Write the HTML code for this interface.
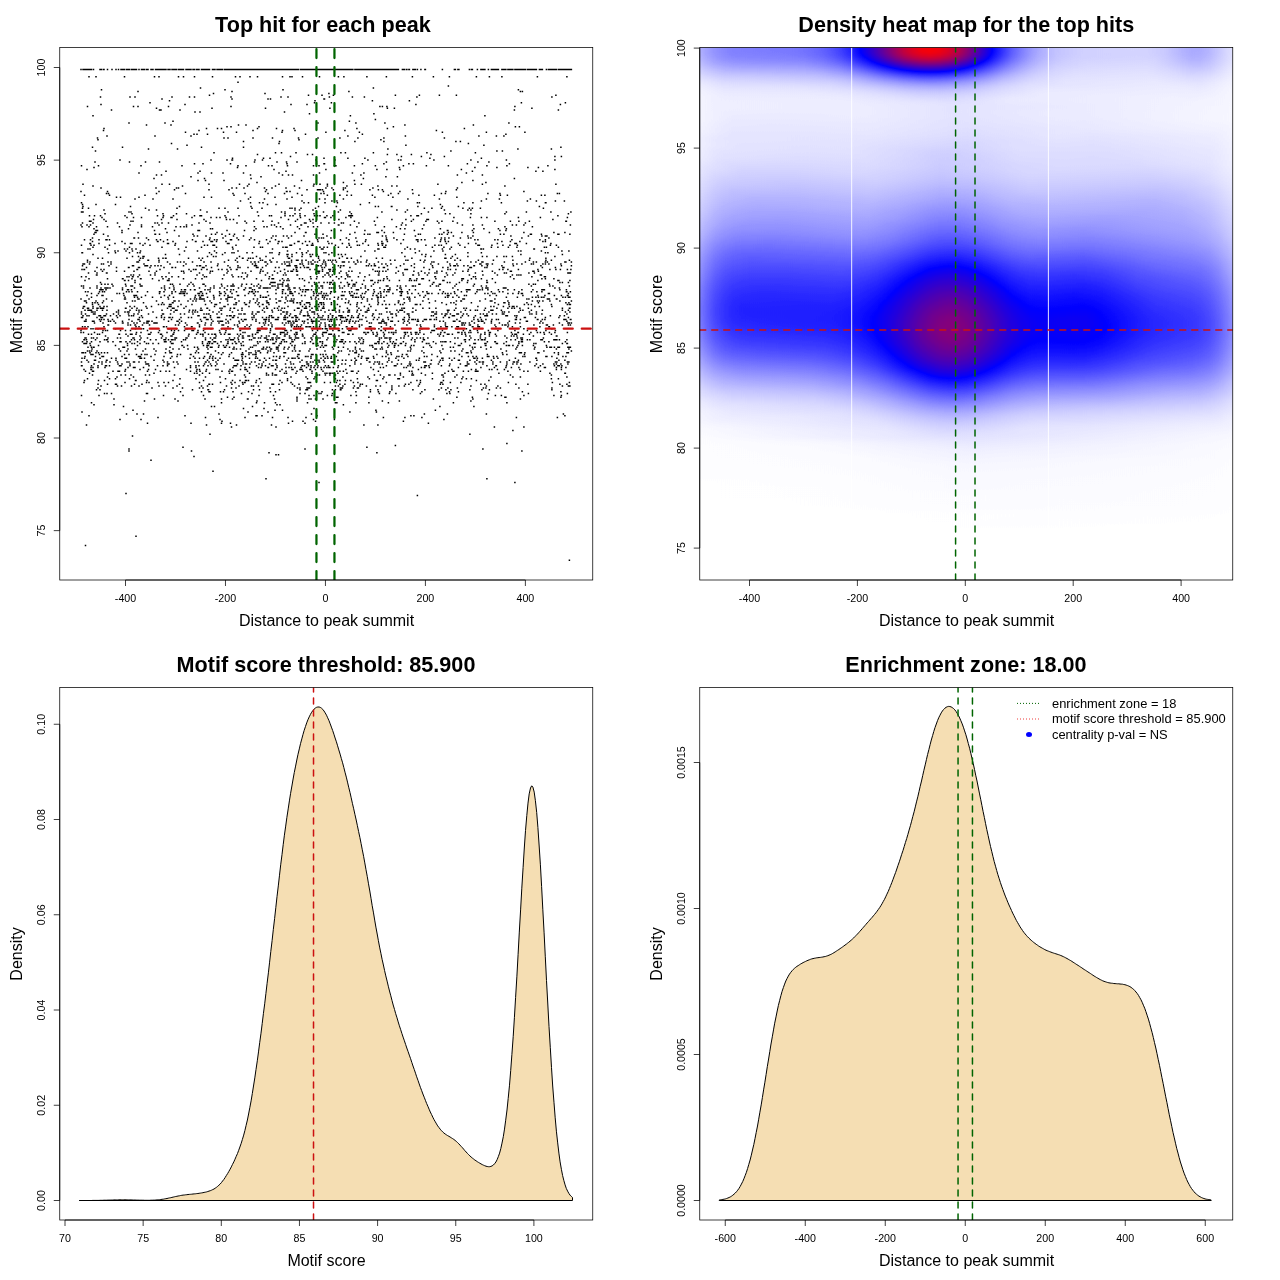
<!DOCTYPE html>
<html><head><meta charset="utf-8"><title>Motif enrichment plots</title>
<style>html,body{margin:0;padding:0;background:#fff}svg{display:block}text{font-family:'Liberation Sans', sans-serif;fill:#000}</style>
</head><body>
<svg width="1280" height="1280" viewBox="0 0 1280 1280">
<rect width="1280" height="1280" fill="#fff"/>
<defs>
<clipPath id="cp"><rect x="59.75" y="47.5" width="533.0" height="532.5"/></clipPath>
<filter id="hm" filterUnits="userSpaceOnUse" x="30" y="20" width="600" height="600" color-interpolation-filters="sRGB"><feGaussianBlur stdDeviation="0 2.5"/><feComponentTransfer><feFuncR type="table" tableValues="1 0 1"/><feFuncG type="table" tableValues="1 0 0"/><feFuncB type="table" tableValues="1 1 0"/></feComponentTransfer></filter>
</defs>
<g transform="translate(0,0)">
<g clip-path="url(#cp)">
<path d="M81.0 332.4h0M81.0 330.6h0M81.0 299.1h0M81.0 225.0h0M81.0 191.6h0M81.0 69.4h0M81.5 395.4h0M81.5 365.8h0M81.5 362.0h0M81.5 328.7h0M81.5 317.6h0M81.5 313.9h0M81.5 312.0h0M81.5 286.1h0M81.5 276.8h0M81.5 245.3h0M81.5 212.0h0M81.5 202.7h0M81.5 165.7h0M82.0 412.1h0M82.0 365.8h0M82.0 358.3h0M82.0 352.8h0M82.0 269.4h0M82.0 252.8h0M82.0 226.8h0M82.5 341.7h0M82.5 326.8h0M82.5 317.6h0M82.5 265.7h0M82.5 252.8h0M82.5 223.1h0M82.5 208.3h0M82.5 204.6h0M83.0 315.7h0M83.0 308.3h0M83.0 263.9h0M83.0 212.0h0M83.0 206.4h0M83.0 184.2h0M83.0 69.4h0M83.5 352.8h0M83.5 332.4h0M83.5 306.5h0M83.5 287.9h0M83.5 286.1h0M83.5 263.9h0M83.5 69.4h0M84.0 382.4h0M84.0 369.5h0M84.0 343.5h0M84.0 339.8h0M84.0 269.4h0M84.5 380.6h0M84.5 358.3h0M84.5 339.8h0M84.5 321.3h0M84.5 306.5h0M84.5 300.9h0M84.5 269.4h0M84.5 263.9h0M84.5 239.8h0M84.5 195.3h0M85.0 356.5h0M85.0 343.5h0M85.0 338.0h0M85.0 326.8h0M85.0 310.2h0M85.0 280.5h0M85.0 69.4h0M85.5 545.4h0M85.5 371.3h0M85.5 352.8h0M85.5 343.5h0M85.5 338.0h0M85.5 313.9h0M85.5 291.7h0M85.5 69.4h0M86.0 338.0h0M86.0 321.3h0M86.0 319.4h0M86.0 300.9h0M86.0 276.8h0M86.0 69.4h0M86.5 425.0h0M86.5 343.5h0M86.5 339.8h0M86.5 302.8h0M86.5 267.6h0M87.0 360.2h0M87.0 341.7h0M87.0 315.7h0M87.0 295.4h0M87.0 225.0h0M87.0 169.4h0M87.0 69.4h0M87.5 378.7h0M87.5 350.9h0M87.5 308.3h0M87.5 262.0h0M87.5 260.2h0M87.5 106.4h0M87.5 69.4h0M88.0 347.2h0M88.0 326.8h0M88.0 310.2h0M88.0 291.7h0M88.0 249.0h0M88.0 69.4h0M88.5 362.0h0M88.5 334.3h0M88.5 308.3h0M88.5 273.1h0M88.5 208.3h0M89.0 415.8h0M89.0 315.7h0M89.0 310.2h0M89.0 299.1h0M89.0 278.7h0M89.0 226.8h0M89.0 76.8h0M89.0 69.4h0M89.5 373.2h0M89.5 350.9h0M89.5 263.9h0M89.5 221.3h0M89.5 215.7h0M89.5 69.4h0M90.0 352.8h0M90.0 343.5h0M90.0 287.9h0M90.0 262.0h0M90.0 249.0h0M90.0 243.5h0M90.0 69.4h0M90.5 345.4h0M90.5 310.2h0M90.5 243.5h0M90.5 239.8h0M90.5 225.0h0M91.0 369.5h0M91.0 367.6h0M91.0 354.6h0M91.0 328.7h0M91.0 245.3h0M91.0 221.3h0M91.5 402.8h0M91.5 369.5h0M91.5 365.8h0M91.5 350.9h0M91.5 347.2h0M91.5 341.7h0M91.5 338.0h0M91.5 334.3h0M91.5 312.0h0M91.5 310.2h0M91.5 297.2h0M91.5 293.5h0M91.5 69.4h0M92.0 349.1h0M92.5 375.0h0M92.5 371.3h0M92.5 354.6h0M92.5 321.3h0M92.5 304.6h0M92.5 302.8h0M92.5 241.6h0M92.5 237.9h0M92.5 147.2h0M93.0 367.6h0M93.0 354.6h0M93.0 328.7h0M93.0 312.0h0M93.0 308.3h0M93.0 306.5h0M93.0 254.6h0M93.0 247.2h0M93.0 223.1h0M93.0 186.1h0M93.0 115.7h0M93.5 371.3h0M93.5 347.2h0M93.5 338.0h0M93.5 313.9h0M93.5 219.4h0M93.5 69.4h0M94.0 404.7h0M94.0 363.9h0M94.0 347.2h0M94.0 321.3h0M94.0 245.3h0M94.0 234.2h0M94.0 228.7h0M94.0 167.5h0M94.5 360.2h0M94.5 332.4h0M94.5 323.1h0M94.5 215.7h0M95.0 313.9h0M95.0 312.0h0M95.0 302.8h0M95.0 271.3h0M95.0 232.4h0M95.0 162.0h0M95.5 360.2h0M95.5 356.5h0M95.5 339.8h0M95.5 328.7h0M95.5 150.9h0M96.0 352.8h0M96.0 300.9h0M96.0 232.4h0M96.0 230.5h0M96.0 204.6h0M96.0 76.8h0M96.5 389.8h0M96.5 275.0h0M96.5 226.8h0M97.0 350.9h0M97.0 338.0h0M97.0 317.6h0M97.0 310.2h0M97.0 308.3h0M97.0 295.4h0M97.0 287.9h0M97.0 286.1h0M97.0 275.0h0M97.0 273.1h0M97.0 267.6h0M97.5 334.3h0M97.5 302.8h0M97.5 230.5h0M97.5 137.9h0M98.0 388.0h0M98.0 384.3h0M98.0 367.6h0M98.0 365.8h0M98.0 328.7h0M98.0 308.3h0M98.0 258.3h0M98.0 139.7h0M98.5 380.6h0M98.5 352.8h0M98.5 345.4h0M98.5 304.6h0M98.5 293.5h0M98.5 165.7h0M99.0 395.4h0M99.0 362.0h0M99.0 315.7h0M99.0 243.5h0M99.0 239.8h0M99.5 354.6h0M99.5 334.3h0M99.5 319.4h0M99.5 291.7h0M100.0 389.8h0M100.0 358.3h0M100.0 341.7h0M100.0 306.5h0M100.0 289.8h0M100.0 69.4h0M100.5 321.3h0M100.5 315.7h0M100.5 308.3h0M100.5 282.4h0M100.5 215.7h0M100.5 97.1h0M100.5 69.4h0M101.0 386.1h0M101.0 317.6h0M101.0 287.9h0M101.0 269.4h0M101.0 187.9h0M101.0 104.5h0M101.5 352.8h0M101.5 319.4h0M101.5 289.8h0M101.5 284.2h0M101.5 263.9h0M101.5 89.7h0M101.5 69.4h0M102.0 363.9h0M102.0 362.0h0M102.0 356.5h0M102.0 308.3h0M102.0 295.4h0M102.0 217.6h0M102.5 332.4h0M102.5 317.6h0M102.5 310.2h0M102.5 302.8h0M102.5 291.7h0M102.5 271.3h0M102.5 258.3h0M103.0 330.6h0M103.0 323.1h0M103.0 308.3h0M103.0 295.4h0M103.0 289.8h0M103.5 356.5h0M103.5 308.3h0M103.5 300.9h0M103.5 263.9h0M103.5 234.2h0M103.5 130.5h0M103.5 69.4h0M104.0 326.8h0M104.0 319.4h0M104.0 315.7h0M104.0 306.5h0M104.0 269.4h0M104.0 219.4h0M104.0 210.1h0M104.0 128.6h0M104.0 69.4h0M104.5 393.5h0M104.5 380.6h0M104.5 352.8h0M104.5 339.8h0M104.5 291.7h0M105.0 367.6h0M105.0 287.9h0M105.0 284.2h0M105.0 247.2h0M105.0 213.8h0M105.5 365.8h0M105.5 336.1h0M105.5 330.6h0M105.5 315.7h0M106.0 362.0h0M106.0 289.8h0M106.0 287.9h0M106.0 239.8h0M106.0 221.3h0M106.5 365.8h0M106.5 360.2h0M106.5 339.8h0M106.5 313.9h0M106.5 299.1h0M106.5 287.9h0M106.5 273.1h0M106.5 193.5h0M107.0 393.5h0M107.0 360.2h0M107.0 310.2h0M107.0 306.5h0M107.0 273.1h0M107.0 239.8h0M107.0 136.0h0M107.5 384.3h0M107.5 376.9h0M107.5 352.8h0M107.5 339.8h0M107.5 330.6h0M107.5 278.7h0M107.5 249.0h0M107.5 226.8h0M107.5 191.6h0M107.5 69.4h0M108.0 341.7h0M108.0 338.0h0M108.0 325.0h0M108.0 319.4h0M108.0 287.9h0M108.0 284.2h0M108.0 262.0h0M108.0 236.1h0M108.5 373.2h0M108.5 325.0h0M108.5 321.3h0M108.5 252.8h0M108.5 193.5h0M109.0 265.7h0M109.5 378.7h0M109.5 365.8h0M109.5 245.3h0M109.5 239.8h0M109.5 195.3h0M110.0 362.0h0M110.0 287.9h0M110.5 321.3h0M110.5 315.7h0M111.0 263.9h0M111.0 262.0h0M111.5 393.5h0M111.5 358.3h0M111.5 110.1h0M112.0 300.9h0M112.0 284.2h0M112.0 69.4h0M112.5 319.4h0M113.0 371.3h0M113.0 341.7h0M113.0 286.1h0M113.5 313.9h0M114.0 404.7h0M114.0 399.1h0M114.0 321.3h0M115.0 250.9h0M115.0 243.5h0M115.5 384.3h0M115.5 378.7h0M115.5 345.4h0M115.5 328.7h0M115.5 323.1h0M115.5 252.8h0M115.5 204.6h0M116.0 360.2h0M116.0 358.3h0M116.0 69.4h0M116.5 384.3h0M116.5 315.7h0M116.5 312.0h0M116.5 271.3h0M116.5 267.6h0M116.5 197.2h0M117.0 376.9h0M117.0 293.5h0M117.5 386.1h0M117.5 362.0h0M117.5 338.0h0M117.5 317.6h0M117.5 223.1h0M118.0 371.3h0M118.0 363.9h0M118.0 250.9h0M118.5 313.9h0M118.5 312.0h0M118.5 310.2h0M118.5 69.4h0M119.0 349.1h0M119.0 334.3h0M119.5 371.3h0M119.5 365.8h0M119.5 334.3h0M119.5 293.5h0M119.5 226.8h0M120.0 419.5h0M120.0 341.7h0M120.0 315.7h0M120.0 160.1h0M120.5 350.9h0M120.5 338.0h0M120.5 330.6h0M120.5 197.2h0M121.0 375.0h0M121.0 365.8h0M121.0 341.7h0M121.0 69.4h0M121.5 386.1h0M121.5 69.4h0M122.0 363.9h0M122.0 356.5h0M122.0 241.6h0M122.0 232.4h0M122.0 230.5h0M122.5 323.1h0M122.5 321.3h0M122.5 289.8h0M122.5 287.9h0M122.5 278.7h0M122.5 147.2h0M123.0 347.2h0M123.0 323.1h0M123.0 278.7h0M123.0 69.4h0M123.5 406.5h0M123.5 293.5h0M124.0 295.4h0M124.5 354.6h0M124.5 347.2h0M124.5 299.1h0M124.5 280.5h0M124.5 271.3h0M124.5 249.0h0M124.5 76.8h0M124.5 69.4h0M125.0 382.4h0M125.0 371.3h0M125.0 358.3h0M125.0 312.0h0M125.0 299.1h0M125.0 297.2h0M125.0 280.5h0M125.0 243.5h0M125.0 215.7h0M125.5 375.0h0M125.5 369.5h0M125.5 330.6h0M125.5 308.3h0M125.5 299.1h0M125.5 284.2h0M126.0 493.6h0M126.0 341.7h0M126.0 334.3h0M126.0 308.3h0M126.0 286.1h0M126.0 250.9h0M126.5 413.9h0M126.5 358.3h0M126.5 291.7h0M126.5 69.4h0M127.0 362.0h0M127.0 350.9h0M127.0 302.8h0M127.0 276.8h0M127.0 258.3h0M127.0 217.6h0M127.5 345.4h0M127.5 343.5h0M127.5 312.0h0M127.5 289.8h0M127.5 249.0h0M127.5 69.4h0M128.0 367.6h0M128.0 349.1h0M128.0 336.1h0M128.0 325.0h0M128.0 323.1h0M128.0 289.8h0M128.5 313.9h0M128.5 289.8h0M128.5 280.5h0M128.5 267.6h0M128.5 228.7h0M128.5 69.4h0M129.0 451.0h0M129.0 449.1h0M129.0 362.0h0M129.0 354.6h0M129.0 319.4h0M129.0 315.7h0M129.0 312.0h0M129.0 291.7h0M129.0 276.8h0M129.0 267.6h0M129.0 212.0h0M129.0 123.1h0M129.0 69.4h0M129.5 378.7h0M129.5 252.8h0M129.5 247.2h0M129.5 162.0h0M129.5 69.4h0M130.0 365.8h0M130.0 363.9h0M130.0 341.7h0M130.0 310.2h0M130.0 306.5h0M130.0 225.0h0M130.0 97.1h0M130.5 334.3h0M130.5 330.6h0M130.5 325.0h0M130.5 243.5h0M130.5 206.4h0M131.0 375.0h0M131.0 286.1h0M131.0 275.0h0M131.0 221.3h0M131.0 212.0h0M131.5 386.1h0M131.5 339.8h0M131.5 315.7h0M131.5 289.8h0M131.5 69.4h0M132.0 343.5h0M132.0 334.3h0M132.0 321.3h0M132.0 308.3h0M132.0 291.7h0M132.0 278.7h0M132.0 249.0h0M132.0 243.5h0M132.0 213.8h0M132.5 436.1h0M132.5 300.9h0M132.5 286.1h0M132.5 276.8h0M132.5 265.7h0M132.5 256.5h0M132.5 250.9h0M132.5 69.4h0M133.0 410.2h0M133.0 338.0h0M133.0 276.8h0M133.0 221.3h0M133.0 69.4h0M133.5 376.9h0M133.5 367.6h0M133.5 362.0h0M133.5 315.7h0M133.5 275.0h0M133.5 265.7h0M133.5 217.6h0M133.5 106.4h0M133.5 69.4h0M134.0 338.0h0M134.0 323.1h0M134.0 313.9h0M134.0 295.4h0M134.0 271.3h0M134.0 237.9h0M134.0 69.4h0M134.5 384.3h0M134.5 362.0h0M134.5 343.5h0M134.5 339.8h0M134.5 306.5h0M134.5 297.2h0M134.5 287.9h0M134.5 237.9h0M135.0 367.6h0M135.0 325.0h0M135.0 300.9h0M135.0 295.4h0M135.0 282.4h0M135.0 280.5h0M135.0 199.0h0M135.0 97.1h0M135.5 380.6h0M135.5 349.1h0M135.5 328.7h0M135.5 325.0h0M135.5 69.4h0M136.0 536.2h0M136.0 380.6h0M136.0 334.3h0M136.0 326.8h0M136.0 249.0h0M136.5 354.6h0M136.5 332.4h0M136.5 310.2h0M136.5 295.4h0M136.5 69.4h0M137.0 413.9h0M137.0 323.1h0M137.0 308.3h0M137.0 269.4h0M137.0 262.0h0M137.5 345.4h0M137.5 341.7h0M137.5 297.2h0M137.5 291.7h0M137.5 269.4h0M137.5 252.8h0M138.0 319.4h0M138.0 313.9h0M138.0 299.1h0M138.0 276.8h0M138.0 232.4h0M138.0 106.4h0M138.0 91.6h0M138.5 356.5h0M138.5 319.4h0M138.5 267.6h0M138.5 262.0h0M138.5 256.5h0M138.5 237.9h0M139.0 386.1h0M139.0 362.0h0M139.0 326.8h0M139.0 319.4h0M139.0 312.0h0M139.0 310.2h0M139.0 299.1h0M139.0 197.2h0M139.0 173.1h0M139.0 69.4h0M139.5 356.5h0M139.5 317.6h0M139.5 275.0h0M139.5 267.6h0M139.5 260.2h0M140.0 369.5h0M140.0 358.3h0M140.0 343.5h0M140.0 339.8h0M140.0 336.1h0M140.0 321.3h0M140.0 284.2h0M140.0 252.8h0M140.0 243.5h0M140.5 356.5h0M140.5 286.1h0M140.5 278.7h0M140.5 258.3h0M140.5 250.9h0M141.0 419.5h0M141.0 338.0h0M141.0 332.4h0M141.0 278.7h0M141.0 165.7h0M141.5 358.3h0M141.5 354.6h0M141.5 328.7h0M141.5 315.7h0M141.5 310.2h0M141.5 297.2h0M141.5 226.8h0M141.5 225.0h0M141.5 217.6h0M141.5 69.4h0M142.0 384.3h0M142.0 286.1h0M142.5 325.0h0M142.5 317.6h0M143.0 350.9h0M143.0 258.3h0M143.0 256.5h0M143.0 245.3h0M143.0 69.4h0M143.5 413.9h0M143.5 367.6h0M143.5 328.7h0M143.5 302.8h0M143.5 69.4h0M144.0 323.1h0M144.0 263.9h0M144.0 256.5h0M144.0 69.4h0M144.5 400.9h0M144.5 358.3h0M144.5 341.7h0M144.5 69.4h0M145.0 354.6h0M145.0 265.7h0M145.0 243.5h0M145.0 195.3h0M145.5 375.0h0M145.5 362.0h0M145.5 349.1h0M145.5 295.4h0M145.5 208.3h0M145.5 162.0h0M146.0 363.9h0M146.0 306.5h0M146.0 265.7h0M146.5 393.5h0M146.5 382.4h0M146.5 343.5h0M146.5 323.1h0M146.5 237.9h0M146.5 124.9h0M146.5 69.4h0M147.0 380.6h0M147.0 354.6h0M147.0 321.3h0M147.0 308.3h0M147.0 69.4h0M147.5 423.2h0M147.5 393.5h0M147.5 371.3h0M147.5 363.9h0M147.5 338.0h0M147.5 330.6h0M147.5 321.3h0M147.5 291.7h0M147.5 265.7h0M147.5 69.4h0M148.0 323.1h0M148.0 260.2h0M148.0 69.4h0M148.5 369.5h0M148.5 363.9h0M148.5 343.5h0M148.5 334.3h0M148.5 313.9h0M148.5 260.2h0M148.5 239.8h0M148.5 149.0h0M149.0 382.4h0M149.0 365.8h0M149.0 321.3h0M149.0 271.3h0M149.0 210.1h0M149.5 375.0h0M149.5 325.0h0M150.0 334.3h0M150.0 267.6h0M150.0 245.3h0M150.0 102.7h0M150.5 339.8h0M150.5 275.0h0M151.0 460.2h0M151.0 356.5h0M151.0 332.4h0M151.0 265.7h0M151.0 69.4h0M151.5 306.5h0M152.0 388.0h0M152.0 321.3h0M152.5 297.2h0M152.5 278.7h0M152.5 226.8h0M152.5 69.4h0M153.0 343.5h0M153.0 312.0h0M153.0 199.0h0M153.0 69.4h0M154.0 373.2h0M154.0 360.2h0M154.0 349.1h0M154.0 323.1h0M154.0 178.6h0M154.5 399.1h0M154.5 230.5h0M154.5 76.8h0M155.0 354.6h0M155.0 275.0h0M155.0 273.1h0M155.0 265.7h0M155.0 234.2h0M155.0 223.1h0M155.0 136.0h0M155.5 369.5h0M155.5 323.1h0M155.5 234.2h0M155.5 69.4h0M156.0 350.9h0M156.0 339.8h0M156.0 187.9h0M156.5 317.6h0M156.5 300.9h0M156.5 271.3h0M156.5 239.8h0M156.5 210.1h0M156.5 193.5h0M156.5 174.9h0M156.5 108.3h0M156.5 69.4h0M157.0 323.1h0M157.0 69.4h0M157.5 365.8h0M157.5 241.6h0M157.5 223.1h0M157.5 215.7h0M158.0 417.6h0M158.0 382.4h0M158.0 265.7h0M158.0 241.6h0M158.0 69.4h0M158.5 343.5h0M158.5 332.4h0M158.5 304.6h0M158.5 258.3h0M158.5 69.4h0M159.0 386.1h0M159.0 280.5h0M159.0 262.0h0M159.0 260.2h0M159.0 225.0h0M159.0 191.6h0M159.0 76.8h0M159.5 330.6h0M159.5 293.5h0M159.5 291.7h0M159.5 234.2h0M159.5 162.0h0M159.5 110.1h0M160.0 291.7h0M160.0 269.4h0M160.0 69.4h0M160.5 371.3h0M160.5 334.3h0M160.5 239.8h0M161.0 297.2h0M161.0 265.7h0M161.0 110.1h0M161.0 69.4h0M161.5 338.0h0M161.5 334.3h0M161.5 317.6h0M161.5 315.7h0M161.5 304.6h0M161.5 287.9h0M161.5 219.4h0M161.5 174.9h0M162.0 310.2h0M162.0 276.8h0M162.0 247.2h0M162.0 223.1h0M162.0 184.2h0M162.0 99.0h0M162.5 336.1h0M162.5 313.9h0M162.5 302.8h0M162.5 69.4h0M163.0 365.8h0M163.0 360.2h0M163.0 278.7h0M163.0 258.3h0M163.0 217.6h0M163.0 213.8h0M163.5 395.4h0M163.5 326.8h0M163.5 313.9h0M163.5 241.6h0M163.5 215.7h0M163.5 69.4h0M164.0 382.4h0M164.0 362.0h0M164.0 356.5h0M164.0 339.8h0M164.0 326.8h0M164.0 319.4h0M164.0 304.6h0M164.0 291.7h0M164.0 267.6h0M164.0 69.4h0M164.5 341.7h0M164.5 317.6h0M164.5 295.4h0M164.5 287.9h0M164.5 286.1h0M164.5 69.4h0M165.0 339.8h0M165.0 289.8h0M165.0 123.1h0M165.0 69.4h0M165.5 386.1h0M165.5 352.8h0M165.5 339.8h0M165.5 258.3h0M165.5 254.6h0M165.5 228.7h0M166.0 371.3h0M166.0 349.1h0M166.0 341.7h0M166.0 338.0h0M166.0 276.8h0M166.0 258.3h0M166.0 171.2h0M166.0 69.4h0M166.5 326.8h0M167.0 332.4h0M167.0 232.4h0M167.5 365.8h0M167.5 363.9h0M167.5 362.0h0M167.5 308.3h0M167.5 280.5h0M167.5 262.0h0M167.5 243.5h0M167.5 239.8h0M168.0 363.9h0M168.0 297.2h0M168.0 69.4h0M168.5 382.4h0M168.5 339.8h0M168.5 328.7h0M168.5 321.3h0M168.5 299.1h0M168.5 243.5h0M168.5 223.1h0M168.5 106.4h0M169.0 363.9h0M169.0 317.6h0M169.0 306.5h0M169.0 280.5h0M169.0 278.7h0M169.0 273.1h0M169.0 69.4h0M169.5 371.3h0M169.5 350.9h0M169.5 328.7h0M169.5 304.6h0M169.5 295.4h0M169.5 287.9h0M169.5 184.2h0M169.5 100.8h0M169.5 69.4h0M170.0 352.8h0M170.0 347.2h0M170.0 317.6h0M170.0 263.9h0M170.0 69.4h0M170.5 358.3h0M170.5 341.7h0M170.5 313.9h0M170.5 306.5h0M170.5 284.2h0M171.0 336.1h0M171.0 310.2h0M171.0 306.5h0M171.0 304.6h0M171.0 217.6h0M171.0 124.9h0M171.5 352.8h0M171.5 343.5h0M171.5 339.8h0M171.5 330.6h0M171.5 328.7h0M171.5 319.4h0M171.5 143.5h0M172.0 356.5h0M172.0 336.1h0M172.0 293.5h0M172.0 291.7h0M172.0 276.8h0M172.0 267.6h0M172.0 217.6h0M172.0 97.1h0M172.0 69.4h0M172.5 317.6h0M172.5 308.3h0M172.5 302.8h0M172.5 284.2h0M172.5 267.6h0M172.5 69.4h0M173.0 388.0h0M173.0 380.6h0M173.0 349.1h0M173.0 343.5h0M173.0 339.8h0M173.0 334.3h0M173.0 302.8h0M173.0 241.6h0M173.0 199.0h0M173.0 121.2h0M173.5 362.0h0M173.5 334.3h0M173.5 297.2h0M173.5 286.1h0M173.5 215.7h0M173.5 69.4h0M174.0 332.4h0M174.0 312.0h0M174.0 308.3h0M174.0 300.9h0M174.0 289.8h0M174.0 287.9h0M174.0 69.4h0M174.5 375.0h0M174.5 367.6h0M174.5 330.6h0M174.5 230.5h0M174.5 189.8h0M175.0 399.1h0M175.0 339.8h0M175.0 338.0h0M175.0 300.9h0M175.0 245.3h0M175.5 325.0h0M175.5 310.2h0M175.5 291.7h0M175.5 267.6h0M175.5 243.5h0M175.5 69.4h0M176.0 226.8h0M176.5 338.0h0M176.5 328.7h0M176.5 213.8h0M176.5 187.9h0M176.5 69.4h0M177.0 386.1h0M177.0 362.0h0M177.0 356.5h0M177.0 321.3h0M177.0 310.2h0M177.0 219.4h0M177.0 208.3h0M177.5 354.6h0M177.5 262.0h0M177.5 149.0h0M178.0 400.9h0M178.0 363.9h0M178.0 321.3h0M178.0 306.5h0M178.5 330.6h0M178.5 325.0h0M178.5 276.8h0M178.5 249.0h0M178.5 187.9h0M178.5 76.8h0M178.5 69.4h0M179.0 349.1h0M179.0 300.9h0M179.0 236.1h0M179.5 384.3h0M179.5 323.1h0M179.5 319.4h0M179.5 293.5h0M179.5 254.6h0M179.5 206.4h0M179.5 69.4h0M180.0 378.7h0M180.0 284.2h0M180.0 110.1h0M180.0 69.4h0M180.5 391.7h0M180.5 354.6h0M180.5 313.9h0M180.5 262.0h0M180.5 226.8h0M180.5 69.4h0M181.0 317.6h0M181.0 304.6h0M181.0 293.5h0M181.0 291.7h0M181.0 69.4h0M181.5 341.7h0M181.5 321.3h0M181.5 289.8h0M181.5 271.3h0M181.5 69.4h0M182.0 345.4h0M182.0 165.7h0M182.0 69.4h0M182.5 388.0h0M182.5 345.4h0M182.5 186.1h0M183.0 447.3h0M183.0 395.4h0M183.0 293.5h0M183.0 291.7h0M183.0 69.4h0M183.5 339.8h0M183.5 278.7h0M183.5 271.3h0M183.5 265.7h0M183.5 76.8h0M183.5 69.4h0M184.0 347.2h0M184.0 308.3h0M184.0 273.1h0M184.0 262.0h0M184.0 226.8h0M184.5 330.6h0M184.5 326.8h0M184.5 313.9h0M184.5 295.4h0M184.5 293.5h0M184.5 289.8h0M184.5 250.9h0M185.0 415.8h0M185.0 291.7h0M185.0 104.5h0M185.5 339.8h0M185.5 328.7h0M185.5 323.1h0M185.5 289.8h0M185.5 193.5h0M185.5 132.3h0M186.0 338.0h0M186.0 328.7h0M186.0 306.5h0M186.0 263.9h0M186.0 247.2h0M186.0 69.4h0M186.5 369.5h0M186.5 226.8h0M186.5 225.0h0M186.5 213.8h0M186.5 69.4h0M187.0 338.0h0M187.0 325.0h0M187.0 293.5h0M187.0 241.6h0M187.0 145.3h0M187.5 345.4h0M187.5 328.7h0M187.5 286.1h0M188.0 349.1h0M188.0 300.9h0M188.0 69.4h0M188.5 336.1h0M188.5 317.6h0M188.5 258.3h0M188.5 69.4h0M189.0 334.3h0M189.0 312.0h0M189.0 284.2h0M189.0 269.4h0M189.5 310.2h0M189.5 97.1h0M189.5 69.4h0M190.0 358.3h0M190.5 371.3h0M190.5 367.6h0M190.5 365.8h0M190.5 354.6h0M190.5 299.1h0M190.5 289.8h0M191.0 423.2h0M191.0 354.6h0M191.0 282.4h0M191.0 271.3h0M191.0 176.8h0M191.0 136.0h0M191.0 69.4h0M191.5 451.0h0M191.5 326.8h0M191.5 317.6h0M192.0 330.6h0M192.0 326.8h0M192.0 304.6h0M192.0 225.0h0M192.0 217.6h0M192.5 389.8h0M192.5 312.0h0M192.5 262.0h0M192.5 239.8h0M193.0 313.9h0M193.0 310.2h0M193.0 300.9h0M193.0 284.2h0M193.0 234.2h0M193.0 69.4h0M193.5 356.5h0M193.5 330.6h0M193.5 269.4h0M194.0 456.5h0M194.0 286.1h0M194.0 236.1h0M194.0 134.2h0M194.5 373.2h0M194.5 347.2h0M194.5 299.1h0M194.5 289.8h0M194.5 215.7h0M194.5 163.8h0M194.5 97.1h0M194.5 76.8h0M194.5 69.4h0M195.0 362.0h0M195.0 358.3h0M195.0 338.0h0M195.0 312.0h0M195.0 297.2h0M195.0 289.8h0M195.0 112.0h0M195.5 352.8h0M195.5 310.2h0M195.5 295.4h0M195.5 278.7h0M195.5 269.4h0M195.5 241.6h0M196.0 378.7h0M196.0 367.6h0M196.0 365.8h0M196.0 300.9h0M196.0 269.4h0M196.0 241.6h0M196.5 371.3h0M196.5 350.9h0M196.5 334.3h0M196.5 299.1h0M196.5 69.4h0M197.0 373.2h0M197.0 369.5h0M197.0 275.0h0M197.0 265.7h0M197.0 134.2h0M197.0 69.4h0M197.5 347.2h0M197.5 332.4h0M197.5 323.1h0M197.5 312.0h0M197.5 250.9h0M197.5 236.1h0M197.5 69.4h0M198.0 362.0h0M198.0 349.1h0M198.0 332.4h0M198.0 330.6h0M198.0 323.1h0M198.0 315.7h0M198.0 293.5h0M198.0 230.5h0M198.0 180.5h0M198.0 173.1h0M198.0 69.4h0M198.5 352.8h0M198.5 349.1h0M199.0 365.8h0M199.0 315.7h0M199.0 295.4h0M199.0 258.3h0M199.0 223.1h0M199.0 130.5h0M199.0 69.4h0M199.5 388.0h0M199.5 382.4h0M199.5 375.0h0M199.5 369.5h0M199.5 358.3h0M199.5 326.8h0M199.5 325.0h0M199.5 299.1h0M199.5 293.5h0M199.5 287.9h0M199.5 273.1h0M199.5 265.7h0M199.5 230.5h0M200.0 371.3h0M200.0 297.2h0M200.0 215.7h0M200.0 171.2h0M200.0 112.0h0M200.5 334.3h0M200.5 319.4h0M200.5 310.2h0M200.5 297.2h0M200.5 291.7h0M200.5 265.7h0M200.5 210.1h0M200.5 87.9h0M201.0 308.3h0M201.0 299.1h0M201.0 260.2h0M201.5 391.7h0M201.5 386.1h0M201.5 321.3h0M201.5 295.4h0M201.5 291.7h0M201.5 269.4h0M201.5 247.2h0M201.5 215.7h0M201.5 147.2h0M201.5 69.4h0M202.0 310.2h0M202.0 299.1h0M202.0 278.7h0M202.0 69.4h0M202.5 373.2h0M202.5 343.5h0M202.5 341.7h0M202.5 334.3h0M202.5 293.5h0M202.5 267.6h0M202.5 258.3h0M202.5 69.4h0M203.0 388.0h0M203.0 336.1h0M203.0 334.3h0M203.0 295.4h0M203.0 284.2h0M203.0 275.0h0M203.0 241.6h0M203.0 163.8h0M203.5 395.4h0M203.5 380.6h0M203.5 365.8h0M203.5 358.3h0M203.5 345.4h0M203.5 330.6h0M203.5 299.1h0M203.5 69.4h0M204.0 317.6h0M204.0 313.9h0M204.0 299.1h0M204.0 284.2h0M204.0 267.6h0M204.0 262.0h0M204.0 219.4h0M204.0 197.2h0M204.0 69.4h0M204.5 363.9h0M204.5 356.5h0M204.5 300.9h0M204.5 276.8h0M204.5 245.3h0M204.5 178.6h0M205.0 399.1h0M205.0 332.4h0M205.0 328.7h0M205.0 325.0h0M205.0 289.8h0M205.0 69.4h0M205.5 417.6h0M205.5 376.9h0M205.5 362.0h0M205.5 339.8h0M205.5 338.0h0M205.5 323.1h0M205.5 317.6h0M205.5 304.6h0M205.5 286.1h0M205.5 180.5h0M206.0 371.3h0M206.0 362.0h0M206.0 265.7h0M206.0 236.1h0M206.0 221.3h0M206.5 425.0h0M206.5 369.5h0M206.5 319.4h0M206.5 313.9h0M206.5 293.5h0M206.5 276.8h0M206.5 128.6h0M206.5 69.4h0M207.0 347.2h0M207.0 345.4h0M207.0 308.3h0M207.0 269.4h0M207.0 212.0h0M207.5 386.1h0M207.5 360.2h0M207.5 352.8h0M207.5 343.5h0M207.5 308.3h0M207.5 297.2h0M207.5 256.5h0M207.5 245.3h0M207.5 134.2h0M208.0 389.8h0M208.0 365.8h0M208.0 352.8h0M208.0 349.1h0M208.0 319.4h0M208.0 289.8h0M208.0 69.4h0M208.5 389.8h0M208.5 345.4h0M208.5 341.7h0M208.5 334.3h0M208.5 313.9h0M208.5 69.4h0M209.0 391.7h0M209.0 384.3h0M209.0 362.0h0M209.0 313.9h0M209.0 189.8h0M209.0 184.2h0M209.0 69.4h0M209.5 384.3h0M209.5 373.2h0M209.5 358.3h0M209.5 343.5h0M209.5 310.2h0M209.5 252.8h0M209.5 239.8h0M209.5 95.3h0M209.5 69.4h0M210.0 434.3h0M210.0 391.7h0M210.0 356.5h0M210.0 341.7h0M210.0 300.9h0M210.0 291.7h0M210.0 289.8h0M210.0 273.1h0M210.0 237.9h0M210.0 223.1h0M210.5 363.9h0M210.5 347.2h0M210.5 338.0h0M210.5 317.6h0M210.5 315.7h0M210.5 287.9h0M210.5 271.3h0M210.5 228.7h0M211.0 354.6h0M211.0 328.7h0M211.0 325.0h0M211.0 262.0h0M211.0 241.6h0M211.0 217.6h0M211.0 160.1h0M211.5 406.5h0M211.5 365.8h0M211.5 323.1h0M211.5 319.4h0M211.5 302.8h0M211.5 267.6h0M211.5 254.6h0M211.5 234.2h0M211.5 197.2h0M211.5 173.1h0M212.0 347.2h0M212.0 343.5h0M212.0 334.3h0M212.0 108.3h0M212.5 384.3h0M212.5 358.3h0M212.5 343.5h0M212.5 339.8h0M212.5 271.3h0M212.5 241.6h0M212.5 228.7h0M212.5 76.8h0M212.5 69.4h0M213.0 471.3h0M213.0 360.2h0M213.0 356.5h0M213.0 321.3h0M213.0 312.0h0M213.0 245.3h0M213.0 69.4h0M213.5 295.4h0M213.5 256.5h0M213.5 245.3h0M213.5 93.4h0M214.0 341.7h0M214.0 338.0h0M214.0 299.1h0M214.0 297.2h0M214.0 287.9h0M214.0 286.1h0M214.0 152.7h0M214.5 406.5h0M214.5 334.3h0M214.5 306.5h0M214.5 250.9h0M214.5 245.3h0M214.5 239.8h0M214.5 69.4h0M215.0 338.0h0M215.0 304.6h0M215.0 69.4h0M215.5 365.8h0M215.5 358.3h0M215.5 350.9h0M215.5 341.7h0M215.5 338.0h0M215.5 334.3h0M215.5 234.2h0M216.0 369.5h0M216.0 362.0h0M216.0 336.1h0M216.0 256.5h0M216.5 304.6h0M216.5 252.8h0M216.5 247.2h0M216.5 241.6h0M216.5 217.6h0M217.0 363.9h0M217.0 313.9h0M217.0 239.8h0M217.0 232.4h0M217.0 69.4h0M217.5 343.5h0M217.5 317.6h0M217.5 265.7h0M217.5 128.6h0M217.5 69.4h0M218.0 369.5h0M218.0 360.2h0M218.0 321.3h0M218.0 317.6h0M218.0 263.9h0M218.5 352.8h0M218.5 347.2h0M218.5 269.4h0M218.5 69.4h0M219.0 413.9h0M219.0 345.4h0M219.0 323.1h0M219.0 312.0h0M219.0 208.3h0M219.5 330.6h0M219.5 317.6h0M219.5 295.4h0M219.5 291.7h0M220.0 419.5h0M220.0 376.9h0M220.0 358.3h0M220.0 332.4h0M220.0 321.3h0M220.0 308.3h0M220.0 302.8h0M220.0 293.5h0M220.0 287.9h0M220.0 217.6h0M220.0 69.4h0M220.5 391.7h0M220.5 382.4h0M221.0 341.7h0M221.0 334.3h0M221.0 321.3h0M221.0 310.2h0M221.0 299.1h0M221.0 293.5h0M221.5 423.2h0M221.5 402.8h0M221.5 399.1h0M221.5 354.6h0M221.5 328.7h0M221.5 313.9h0M221.5 310.2h0M221.5 284.2h0M221.5 128.6h0M221.5 69.4h0M222.0 421.3h0M222.0 371.3h0M222.0 325.0h0M222.0 308.3h0M222.0 286.1h0M222.0 269.4h0M222.0 234.2h0M222.5 321.3h0M222.5 278.7h0M222.5 254.6h0M222.5 69.4h0M223.0 352.8h0M223.0 237.9h0M223.0 173.1h0M223.5 391.7h0M223.5 345.4h0M223.5 325.0h0M223.5 132.3h0M224.0 363.9h0M224.0 306.5h0M224.0 275.0h0M224.0 180.5h0M224.0 137.9h0M224.5 389.8h0M224.5 347.2h0M224.5 334.3h0M224.5 328.7h0M224.5 295.4h0M224.5 291.7h0M224.5 287.9h0M224.5 262.0h0M224.5 69.4h0M225.0 306.5h0M225.0 252.8h0M225.0 215.7h0M225.0 208.3h0M225.0 89.7h0M225.5 378.7h0M225.5 347.2h0M225.5 332.4h0M225.5 293.5h0M225.5 236.1h0M225.5 69.4h0M226.0 339.8h0M226.0 330.6h0M226.0 323.1h0M226.0 319.4h0M226.0 299.1h0M226.0 241.6h0M226.0 217.6h0M226.0 69.4h0M226.5 386.1h0M226.5 345.4h0M226.5 219.4h0M226.5 69.4h0M227.0 315.7h0M227.0 299.1h0M227.0 289.8h0M227.0 273.1h0M227.0 269.4h0M227.0 230.5h0M227.0 160.1h0M227.0 126.8h0M227.5 397.2h0M227.5 343.5h0M227.5 300.9h0M227.5 299.1h0M227.5 286.1h0M227.5 243.5h0M228.0 343.5h0M228.0 341.7h0M228.0 339.8h0M228.0 326.8h0M228.0 321.3h0M228.0 304.6h0M228.0 297.2h0M228.0 295.4h0M228.0 271.3h0M228.0 265.7h0M228.0 212.0h0M228.0 137.9h0M228.0 69.4h0M228.5 334.3h0M228.5 323.1h0M228.5 260.2h0M228.5 69.4h0M229.0 371.3h0M229.0 356.5h0M229.0 243.5h0M229.0 189.8h0M229.5 373.2h0M229.5 354.6h0M229.5 347.2h0M229.5 338.0h0M229.5 315.7h0M229.5 297.2h0M229.5 234.2h0M229.5 69.4h0M230.0 369.5h0M230.0 334.3h0M230.0 310.2h0M230.0 297.2h0M230.0 267.6h0M230.0 219.4h0M230.5 423.2h0M230.5 339.8h0M230.5 319.4h0M230.5 308.3h0M230.5 291.7h0M230.5 239.8h0M230.5 163.8h0M230.5 69.4h0M231.0 382.4h0M231.0 339.8h0M231.0 315.7h0M231.0 289.8h0M231.0 286.1h0M231.0 269.4h0M231.0 126.8h0M231.0 106.4h0M231.0 97.1h0M231.0 69.4h0M231.5 426.9h0M231.5 388.0h0M231.5 371.3h0M231.5 352.8h0M231.5 239.8h0M231.5 69.4h0M232.0 384.3h0M232.0 339.8h0M232.0 297.2h0M232.0 293.5h0M232.0 275.0h0M232.0 252.8h0M232.0 187.9h0M232.0 160.1h0M232.0 99.0h0M232.0 91.6h0M232.0 69.4h0M232.5 399.1h0M232.5 380.6h0M232.5 371.3h0M232.5 343.5h0M232.5 317.6h0M232.5 312.0h0M232.5 286.1h0M232.5 247.2h0M232.5 160.1h0M232.5 158.3h0M232.5 69.4h0M233.0 391.7h0M233.0 367.6h0M233.0 349.1h0M233.0 328.7h0M233.0 284.2h0M233.0 276.8h0M233.0 249.0h0M233.0 193.5h0M233.5 358.3h0M233.5 349.1h0M233.5 339.8h0M233.5 317.6h0M233.5 289.8h0M233.5 236.1h0M233.5 219.4h0M233.5 69.4h0M234.0 397.2h0M234.0 365.8h0M234.0 349.1h0M234.0 347.2h0M234.0 315.7h0M234.0 308.3h0M234.0 304.6h0M234.0 286.1h0M234.0 252.8h0M234.0 195.3h0M234.0 69.4h0M234.5 338.0h0M234.5 325.0h0M234.5 315.7h0M234.5 308.3h0M234.5 234.2h0M234.5 69.4h0M235.0 382.4h0M235.0 375.0h0M235.0 365.8h0M235.0 360.2h0M235.0 341.7h0M235.0 299.1h0M235.0 69.4h0M235.5 260.2h0M235.5 76.8h0M235.5 69.4h0M236.0 388.0h0M236.0 365.8h0M236.0 360.2h0M236.0 343.5h0M236.0 304.6h0M236.0 302.8h0M236.0 245.3h0M236.5 425.0h0M236.5 365.8h0M236.5 349.1h0M236.5 343.5h0M236.5 302.8h0M236.5 291.7h0M236.5 269.4h0M236.5 187.9h0M236.5 132.3h0M236.5 69.4h0M237.0 360.2h0M237.0 269.4h0M237.0 258.3h0M237.0 237.9h0M237.0 223.1h0M237.0 69.4h0M237.5 363.9h0M237.5 334.3h0M237.5 325.0h0M237.5 295.4h0M237.5 262.0h0M237.5 167.5h0M237.5 69.4h0M238.0 338.0h0M238.0 326.8h0M238.0 317.6h0M238.0 310.2h0M238.0 267.6h0M238.0 265.7h0M238.0 250.9h0M238.0 208.3h0M238.0 165.7h0M238.0 82.3h0M238.0 69.4h0M238.5 360.2h0M238.5 339.8h0M238.5 295.4h0M238.5 287.9h0M238.5 276.8h0M238.5 239.8h0M238.5 124.9h0M238.5 69.4h0M239.0 386.1h0M239.0 341.7h0M239.0 336.1h0M239.0 321.3h0M239.0 313.9h0M239.0 300.9h0M239.0 215.7h0M239.5 323.1h0M239.5 256.5h0M239.5 184.2h0M240.0 380.6h0M240.0 330.6h0M240.0 267.6h0M240.0 76.8h0M240.0 69.4h0M240.5 369.5h0M240.5 349.1h0M240.5 334.3h0M240.5 330.6h0M240.5 200.9h0M240.5 69.4h0M241.0 365.8h0M241.0 343.5h0M241.0 313.9h0M241.0 69.4h0M241.5 393.5h0M241.5 354.6h0M241.5 345.4h0M241.5 319.4h0M241.5 286.1h0M241.5 276.8h0M242.0 360.2h0M242.0 356.5h0M242.0 310.2h0M242.0 308.3h0M242.0 284.2h0M242.0 69.4h0M242.5 382.4h0M242.5 358.3h0M242.5 352.8h0M242.5 338.0h0M242.5 336.1h0M242.5 273.1h0M242.5 258.3h0M243.0 384.3h0M243.0 363.9h0M243.0 362.0h0M243.0 354.6h0M243.0 341.7h0M243.0 336.1h0M243.0 332.4h0M243.0 321.3h0M243.0 258.3h0M243.0 69.4h0M243.5 408.4h0M243.5 345.4h0M243.5 338.0h0M243.5 236.1h0M243.5 173.1h0M243.5 147.2h0M243.5 141.6h0M243.5 69.4h0M244.0 313.9h0M244.0 289.8h0M244.0 278.7h0M244.0 187.9h0M244.0 69.4h0M244.5 382.4h0M244.5 375.0h0M244.5 319.4h0M244.5 302.8h0M244.5 289.8h0M244.5 230.5h0M244.5 69.4h0M245.0 417.6h0M245.0 382.4h0M245.0 369.5h0M245.0 367.6h0M245.0 332.4h0M245.0 326.8h0M245.0 313.9h0M245.0 295.4h0M245.0 221.3h0M245.0 193.5h0M245.0 69.4h0M245.5 380.6h0M245.5 376.9h0M245.5 363.9h0M245.5 356.5h0M245.5 304.6h0M245.5 287.9h0M245.5 273.1h0M245.5 69.4h0M246.0 350.9h0M246.0 319.4h0M246.0 165.7h0M246.0 124.9h0M246.5 380.6h0M246.5 369.5h0M246.5 363.9h0M246.5 304.6h0M246.5 284.2h0M246.5 223.1h0M247.0 325.0h0M247.0 276.8h0M247.0 252.8h0M247.0 69.4h0M247.5 399.1h0M247.5 371.3h0M247.5 275.0h0M247.5 260.2h0M247.5 186.1h0M247.5 69.4h0M248.0 412.1h0M248.0 399.1h0M248.0 336.1h0M248.0 267.6h0M248.5 391.7h0M248.5 380.6h0M248.5 293.5h0M248.5 258.3h0M248.5 199.0h0M249.0 354.6h0M249.0 352.8h0M249.0 349.1h0M249.0 306.5h0M249.0 184.2h0M249.0 69.4h0M249.5 373.2h0M249.5 367.6h0M249.5 358.3h0M249.5 339.8h0M249.5 336.1h0M249.5 326.8h0M249.5 302.8h0M249.5 291.7h0M249.5 287.9h0M249.5 239.8h0M249.5 69.4h0M250.0 363.9h0M250.0 328.7h0M250.0 300.9h0M250.0 76.8h0M250.0 69.4h0M250.5 347.2h0M250.5 258.3h0M250.5 202.7h0M250.5 197.2h0M250.5 174.9h0M250.5 69.4h0M251.0 352.8h0M251.0 325.0h0M251.0 287.9h0M251.0 271.3h0M251.0 262.0h0M251.0 237.9h0M251.0 206.4h0M251.0 178.6h0M251.0 69.4h0M251.5 386.1h0M251.5 362.0h0M251.5 339.8h0M251.5 291.7h0M251.5 284.2h0M251.5 69.4h0M252.0 393.5h0M252.0 317.6h0M252.0 313.9h0M252.0 208.3h0M252.0 69.4h0M252.5 406.5h0M252.5 347.2h0M252.5 336.1h0M252.5 334.3h0M252.5 319.4h0M252.5 313.9h0M252.5 312.0h0M252.5 291.7h0M252.5 289.8h0M252.5 263.9h0M252.5 252.8h0M252.5 69.4h0M253.0 354.6h0M253.0 258.3h0M253.0 137.9h0M253.0 130.5h0M253.0 69.4h0M253.5 389.8h0M253.5 386.1h0M253.5 338.0h0M253.5 299.1h0M253.5 293.5h0M253.5 69.4h0M254.0 345.4h0M254.0 317.6h0M254.0 315.7h0M254.0 293.5h0M254.0 286.1h0M254.0 247.2h0M254.0 230.5h0M254.0 221.3h0M254.0 69.4h0M254.5 289.8h0M254.5 265.7h0M254.5 262.0h0M254.5 239.8h0M254.5 226.8h0M254.5 162.0h0M255.0 362.0h0M255.0 354.6h0M255.0 338.0h0M255.0 295.4h0M255.0 262.0h0M255.0 160.1h0M255.0 69.4h0M255.5 358.3h0M255.5 350.9h0M255.5 334.3h0M255.5 302.8h0M255.5 291.7h0M255.5 265.7h0M255.5 263.9h0M255.5 69.4h0M256.0 415.8h0M256.0 382.4h0M256.0 356.5h0M256.0 354.6h0M256.0 352.8h0M256.0 345.4h0M256.0 321.3h0M256.0 319.4h0M256.0 313.9h0M256.0 228.7h0M256.0 69.4h0M256.5 402.8h0M256.5 380.6h0M256.5 365.8h0M256.5 278.7h0M256.5 267.6h0M256.5 265.7h0M256.5 256.5h0M256.5 69.4h0M257.0 415.8h0M257.0 400.9h0M257.0 332.4h0M257.0 300.9h0M257.0 286.1h0M257.0 182.4h0M257.0 69.4h0M257.5 358.3h0M257.5 341.7h0M257.5 330.6h0M257.5 312.0h0M257.5 299.1h0M257.5 212.0h0M257.5 154.6h0M257.5 128.6h0M257.5 76.8h0M258.0 350.9h0M258.0 343.5h0M258.0 332.4h0M258.0 328.7h0M258.0 304.6h0M258.0 291.7h0M258.0 267.6h0M258.0 69.4h0M258.5 386.1h0M258.5 367.6h0M258.5 338.0h0M258.5 330.6h0M258.5 284.2h0M258.5 262.0h0M258.5 215.7h0M258.5 69.4h0M259.0 395.4h0M259.0 363.9h0M259.0 328.7h0M259.0 312.0h0M259.0 302.8h0M259.0 287.9h0M259.0 243.5h0M259.0 126.8h0M259.0 69.4h0M259.5 389.8h0M259.5 378.7h0M259.5 360.2h0M259.5 350.9h0M259.5 323.1h0M259.5 306.5h0M259.5 241.6h0M259.5 202.7h0M259.5 69.4h0M260.0 360.2h0M260.0 341.7h0M260.0 330.6h0M260.0 287.9h0M260.0 273.1h0M260.0 258.3h0M260.0 69.4h0M260.5 352.8h0M260.5 338.0h0M260.5 297.2h0M260.5 295.4h0M260.5 286.1h0M260.5 271.3h0M260.5 260.2h0M260.5 247.2h0M261.0 382.4h0M261.0 367.6h0M261.0 269.4h0M261.0 176.8h0M261.0 69.4h0M261.5 336.1h0M261.5 280.5h0M262.0 415.8h0M262.0 365.8h0M262.0 363.9h0M262.0 349.1h0M262.0 326.8h0M262.0 208.3h0M262.0 69.4h0M262.5 317.6h0M262.5 310.2h0M262.5 304.6h0M262.5 267.6h0M262.5 260.2h0M262.5 247.2h0M262.5 160.1h0M262.5 69.4h0M263.0 304.6h0M263.0 297.2h0M263.0 271.3h0M263.0 221.3h0M263.0 202.7h0M263.0 69.4h0M263.5 362.0h0M263.5 349.1h0M263.5 347.2h0M263.5 323.1h0M263.5 297.2h0M263.5 287.9h0M263.5 158.3h0M263.5 69.4h0M264.0 408.4h0M264.0 319.4h0M264.0 308.3h0M264.0 226.8h0M264.0 69.4h0M264.5 402.8h0M264.5 358.3h0M264.5 338.0h0M264.5 325.0h0M264.5 319.4h0M264.5 312.0h0M264.5 199.0h0M264.5 187.9h0M264.5 69.4h0M265.0 319.4h0M265.0 287.9h0M265.0 262.0h0M265.0 93.4h0M265.0 69.4h0M265.5 365.8h0M265.5 341.7h0M265.5 338.0h0M265.5 323.1h0M265.5 321.3h0M265.5 319.4h0M265.5 297.2h0M265.5 275.0h0M265.5 191.6h0M265.5 108.3h0M265.5 69.4h0M266.0 478.8h0M266.0 360.2h0M266.0 349.1h0M266.0 328.7h0M266.0 265.7h0M266.0 262.0h0M266.0 256.5h0M266.5 375.0h0M266.5 373.2h0M266.5 338.0h0M266.5 336.1h0M266.5 319.4h0M266.5 317.6h0M266.5 306.5h0M266.5 300.9h0M266.5 297.2h0M266.5 287.9h0M266.5 239.8h0M266.5 189.8h0M266.5 69.4h0M267.0 347.2h0M267.0 339.8h0M267.0 308.3h0M267.0 302.8h0M267.0 300.9h0M267.0 226.8h0M267.0 69.4h0M267.5 352.8h0M267.5 339.8h0M267.5 308.3h0M267.5 291.7h0M267.5 273.1h0M267.5 263.9h0M267.5 204.6h0M268.0 412.1h0M268.0 367.6h0M268.0 350.9h0M268.0 341.7h0M268.0 339.8h0M268.0 287.9h0M268.0 243.5h0M268.0 193.5h0M268.0 99.0h0M268.0 69.4h0M268.5 375.0h0M268.5 367.6h0M268.5 325.0h0M268.5 302.8h0M268.5 295.4h0M268.5 165.7h0M268.5 69.4h0M269.0 452.8h0M269.0 336.1h0M269.0 321.3h0M269.0 319.4h0M269.0 317.6h0M269.0 304.6h0M269.0 278.7h0M269.5 363.9h0M269.5 358.3h0M269.5 347.2h0M269.5 315.7h0M269.5 276.8h0M269.5 215.7h0M269.5 69.4h0M270.0 388.0h0M270.0 332.4h0M270.0 299.1h0M270.0 287.9h0M270.0 284.2h0M270.0 260.2h0M270.0 252.8h0M270.0 241.6h0M270.0 158.3h0M270.0 69.4h0M270.5 391.7h0M270.5 350.9h0M270.5 349.1h0M270.5 339.8h0M270.5 330.6h0M270.5 328.7h0M270.5 99.0h0M271.0 323.1h0M271.0 282.4h0M271.0 262.0h0M271.0 69.4h0M271.5 425.0h0M271.5 365.8h0M271.5 349.1h0M271.5 315.7h0M271.5 262.0h0M271.5 237.9h0M271.5 225.0h0M271.5 215.7h0M272.0 384.3h0M272.0 338.0h0M272.0 326.8h0M272.0 325.0h0M272.0 317.6h0M272.0 310.2h0M272.0 286.1h0M272.0 278.7h0M272.0 252.8h0M272.0 221.3h0M272.0 187.9h0M272.0 165.7h0M272.0 69.4h0M272.5 417.6h0M272.5 375.0h0M272.5 373.2h0M272.5 339.8h0M272.5 312.0h0M272.5 282.4h0M272.5 275.0h0M272.5 249.0h0M272.5 137.9h0M272.5 69.4h0M273.0 365.8h0M273.0 360.2h0M273.0 343.5h0M273.0 339.8h0M273.0 338.0h0M273.0 286.1h0M273.0 258.3h0M273.0 236.1h0M273.0 69.4h0M273.5 395.4h0M273.5 384.3h0M273.5 356.5h0M273.5 334.3h0M273.5 317.6h0M273.5 278.7h0M273.5 69.4h0M274.0 352.8h0M274.0 334.3h0M274.0 282.4h0M274.0 169.4h0M274.0 69.4h0M274.5 399.1h0M274.5 343.5h0M274.5 308.3h0M274.5 271.3h0M274.5 225.0h0M274.5 69.4h0M275.0 410.2h0M275.0 375.0h0M275.0 334.3h0M275.0 286.1h0M275.0 282.4h0M275.0 197.2h0M275.0 69.4h0M275.5 402.8h0M275.5 391.7h0M275.5 369.5h0M275.5 360.2h0M275.5 319.4h0M275.5 267.6h0M275.5 239.8h0M275.5 186.1h0M275.5 152.7h0M275.5 69.4h0M276.0 454.7h0M276.0 426.9h0M276.0 363.9h0M276.0 341.7h0M276.0 338.0h0M276.0 299.1h0M276.0 293.5h0M276.0 289.8h0M276.0 236.1h0M276.0 204.6h0M276.0 69.4h0M276.5 375.0h0M276.5 360.2h0M276.5 356.5h0M276.5 349.1h0M276.5 347.2h0M276.5 339.8h0M276.5 302.8h0M276.5 226.8h0M276.5 128.6h0M277.0 404.7h0M277.0 367.6h0M277.0 365.8h0M277.0 336.1h0M277.0 319.4h0M277.0 262.0h0M277.0 162.0h0M277.5 308.3h0M277.5 287.9h0M277.5 273.1h0M277.5 69.4h0M278.0 349.1h0M278.0 347.2h0M278.0 338.0h0M278.0 319.4h0M278.0 317.6h0M278.0 286.1h0M278.0 284.2h0M278.0 243.5h0M278.0 69.4h0M278.5 454.7h0M278.5 350.9h0M278.5 338.0h0M278.5 317.6h0M278.5 310.2h0M278.5 287.9h0M278.5 241.6h0M278.5 223.1h0M278.5 69.4h0M279.0 384.3h0M279.0 345.4h0M279.0 306.5h0M279.0 300.9h0M279.0 267.6h0M279.0 254.6h0M279.0 241.6h0M279.0 184.2h0M279.0 173.1h0M279.0 143.5h0M279.0 69.4h0M279.5 389.8h0M279.5 358.3h0M279.5 338.0h0M279.5 252.8h0M279.5 141.6h0M279.5 69.4h0M280.0 404.7h0M280.0 380.6h0M280.0 371.3h0M280.0 356.5h0M280.0 343.5h0M280.0 284.2h0M280.0 280.5h0M280.0 69.4h0M280.5 334.3h0M280.5 332.4h0M280.5 300.9h0M280.5 271.3h0M280.5 226.8h0M281.0 343.5h0M281.0 313.9h0M281.0 310.2h0M281.0 217.6h0M281.0 97.1h0M281.5 341.7h0M281.5 332.4h0M281.5 212.0h0M281.5 152.7h0M281.5 69.4h0M282.0 382.4h0M282.0 369.5h0M282.0 308.3h0M282.0 297.2h0M282.0 284.2h0M282.0 263.9h0M282.0 241.6h0M282.0 132.3h0M282.0 69.4h0M282.5 410.2h0M282.5 339.8h0M282.5 323.1h0M282.5 293.5h0M282.5 291.7h0M282.5 289.8h0M282.5 286.1h0M282.5 284.2h0M282.5 278.7h0M282.5 174.9h0M282.5 130.5h0M282.5 76.8h0M282.5 69.4h0M283.0 332.4h0M283.0 328.7h0M283.0 312.0h0M283.0 282.4h0M283.0 247.2h0M283.0 228.7h0M283.0 89.7h0M283.0 69.4h0M283.5 289.8h0M283.5 275.0h0M283.5 236.1h0M283.5 69.4h0M284.0 356.5h0M284.0 352.8h0M284.0 349.1h0M284.0 339.8h0M284.0 332.4h0M284.0 328.7h0M284.0 319.4h0M284.0 317.6h0M284.0 312.0h0M284.0 280.5h0M284.0 69.4h0M284.5 373.2h0M284.5 347.2h0M284.5 341.7h0M284.5 336.1h0M284.5 328.7h0M284.5 325.0h0M284.5 308.3h0M284.5 269.4h0M284.5 262.0h0M284.5 193.5h0M284.5 112.0h0M284.5 69.4h0M285.0 336.1h0M285.0 334.3h0M285.0 330.6h0M285.0 315.7h0M285.0 302.8h0M285.0 273.1h0M285.0 263.9h0M285.0 215.7h0M285.0 213.8h0M285.0 212.0h0M285.0 69.4h0M285.5 363.9h0M285.5 352.8h0M285.5 319.4h0M285.5 317.6h0M285.5 293.5h0M285.5 247.2h0M285.5 69.4h0M286.0 371.3h0M286.0 367.6h0M286.0 323.1h0M286.0 299.1h0M286.0 297.2h0M286.0 286.1h0M286.0 275.0h0M286.0 187.9h0M286.0 171.2h0M286.0 69.4h0M286.5 373.2h0M286.5 341.7h0M286.5 330.6h0M286.5 313.9h0M286.5 312.0h0M286.5 191.6h0M286.5 162.0h0M286.5 69.4h0M287.0 360.2h0M287.0 334.3h0M287.0 313.9h0M287.0 280.5h0M287.0 265.7h0M287.0 262.0h0M287.0 254.6h0M287.0 247.2h0M287.0 236.1h0M287.0 199.0h0M287.0 191.6h0M287.0 163.8h0M287.0 69.4h0M287.5 380.6h0M287.5 378.7h0M287.5 332.4h0M287.5 317.6h0M287.5 312.0h0M287.5 300.9h0M287.5 286.1h0M287.5 256.5h0M287.5 250.9h0M287.5 165.7h0M287.5 69.4h0M288.0 417.6h0M288.0 349.1h0M288.0 321.3h0M288.0 306.5h0M288.0 295.4h0M288.0 289.8h0M288.0 284.2h0M288.0 278.7h0M288.0 271.3h0M288.0 254.6h0M288.0 97.1h0M288.0 69.4h0M288.5 423.2h0M288.5 358.3h0M288.5 323.1h0M288.5 287.9h0M288.5 286.1h0M288.5 265.7h0M288.5 258.3h0M288.5 237.9h0M288.5 219.4h0M288.5 174.9h0M288.5 69.4h0M289.0 367.6h0M289.0 347.2h0M289.0 321.3h0M289.0 287.9h0M289.0 280.5h0M289.0 262.0h0M289.0 69.4h0M289.5 338.0h0M289.5 336.1h0M289.5 315.7h0M289.5 287.9h0M289.5 263.9h0M289.5 258.3h0M289.5 69.4h0M290.0 321.3h0M290.0 300.9h0M290.0 293.5h0M290.0 291.7h0M290.0 289.8h0M290.0 265.7h0M290.0 245.3h0M290.0 215.7h0M290.0 208.3h0M290.0 191.6h0M290.0 76.8h0M290.0 69.4h0M290.5 362.0h0M290.5 343.5h0M290.5 313.9h0M290.5 225.0h0M290.5 156.4h0M290.5 69.4h0M291.0 382.4h0M291.0 376.9h0M291.0 363.9h0M291.0 338.0h0M291.0 330.6h0M291.0 325.0h0M291.0 323.1h0M291.0 291.7h0M291.0 271.3h0M291.0 104.5h0M291.0 69.4h0M291.5 367.6h0M291.5 326.8h0M291.5 300.9h0M291.5 299.1h0M291.5 293.5h0M291.5 262.0h0M291.5 260.2h0M291.5 245.3h0M291.5 236.1h0M291.5 69.4h0M292.0 369.5h0M292.0 358.3h0M292.0 345.4h0M292.0 341.7h0M292.0 339.8h0M292.0 317.6h0M292.0 256.5h0M292.0 254.6h0M292.0 208.3h0M292.0 197.2h0M292.0 76.8h0M292.0 69.4h0M292.5 421.3h0M292.5 384.3h0M292.5 358.3h0M292.5 350.9h0M292.5 325.0h0M292.5 317.6h0M292.5 300.9h0M292.5 293.5h0M292.5 271.3h0M292.5 174.9h0M292.5 69.4h0M293.0 369.5h0M293.0 358.3h0M293.0 341.7h0M293.0 321.3h0M293.0 317.6h0M293.0 295.4h0M293.0 215.7h0M293.0 69.4h0M293.5 363.9h0M293.5 323.1h0M293.5 302.8h0M293.5 300.9h0M293.5 269.4h0M294.0 323.1h0M294.0 299.1h0M294.0 287.9h0M294.0 128.6h0M294.0 69.4h0M294.5 386.1h0M294.5 349.1h0M294.5 347.2h0M294.5 339.8h0M294.5 334.3h0M294.5 326.8h0M294.5 310.2h0M294.5 243.5h0M294.5 186.1h0M294.5 69.4h0M295.0 367.6h0M295.0 358.3h0M295.0 345.4h0M295.0 328.7h0M295.0 315.7h0M295.0 291.7h0M295.0 287.9h0M295.0 265.7h0M295.0 232.4h0M295.0 213.8h0M295.0 210.1h0M295.0 208.3h0M295.0 130.5h0M295.0 69.4h0M295.5 350.9h0M295.5 338.0h0M295.5 336.1h0M295.5 321.3h0M295.5 221.3h0M295.5 69.4h0M296.0 373.2h0M296.0 332.4h0M296.0 319.4h0M296.0 317.6h0M296.0 315.7h0M296.0 267.6h0M296.0 152.7h0M296.0 69.4h0M296.5 334.3h0M296.5 328.7h0M296.5 326.8h0M296.5 271.3h0M296.5 269.4h0M296.5 265.7h0M296.5 260.2h0M296.5 252.8h0M296.5 69.4h0M297.0 400.9h0M297.0 399.1h0M297.0 397.2h0M297.0 371.3h0M297.0 338.0h0M297.0 334.3h0M297.0 332.4h0M297.0 325.0h0M297.0 321.3h0M297.0 317.6h0M297.0 302.8h0M297.0 275.0h0M297.0 267.6h0M297.0 162.0h0M297.0 69.4h0M297.5 388.0h0M297.5 356.5h0M297.5 317.6h0M297.5 308.3h0M297.5 302.8h0M297.5 275.0h0M297.5 271.3h0M297.5 226.8h0M297.5 219.4h0M297.5 193.5h0M297.5 69.4h0M298.0 354.6h0M298.0 260.2h0M298.0 241.6h0M298.0 69.4h0M298.5 358.3h0M298.5 338.0h0M298.5 326.8h0M298.5 137.9h0M298.5 69.4h0M299.0 384.3h0M299.0 358.3h0M299.0 354.6h0M299.0 319.4h0M299.0 308.3h0M299.0 293.5h0M299.0 241.6h0M299.0 139.7h0M299.5 350.9h0M299.5 287.9h0M299.5 278.7h0M299.5 228.7h0M299.5 210.1h0M299.5 187.9h0M300.0 393.5h0M300.0 389.8h0M300.0 388.0h0M300.0 369.5h0M300.0 362.0h0M300.0 350.9h0M300.0 313.9h0M300.0 302.8h0M300.0 263.9h0M300.0 249.0h0M300.0 215.7h0M300.0 213.8h0M300.5 330.6h0M300.5 326.8h0M300.5 312.0h0M300.5 304.6h0M300.5 302.8h0M300.5 289.8h0M300.5 267.6h0M300.5 263.9h0M300.5 217.6h0M300.5 69.4h0M301.0 369.5h0M301.0 367.6h0M301.0 312.0h0M301.0 225.0h0M301.0 208.3h0M301.0 69.4h0M301.5 325.0h0M301.5 310.2h0M301.5 295.4h0M301.5 225.0h0M301.5 180.5h0M301.5 69.4h0M302.0 369.5h0M302.0 365.8h0M302.0 360.2h0M302.0 300.9h0M302.0 262.0h0M302.0 260.2h0M302.0 256.5h0M302.0 252.8h0M302.0 200.9h0M302.0 195.3h0M302.0 69.4h0M302.5 365.8h0M302.5 343.5h0M302.5 336.1h0M302.5 334.3h0M302.5 321.3h0M302.5 306.5h0M302.5 291.7h0M302.5 278.7h0M302.5 263.9h0M302.5 254.6h0M302.5 243.5h0M302.5 76.8h0M302.5 69.4h0M303.0 421.3h0M303.0 371.3h0M303.0 336.1h0M303.0 289.8h0M303.0 69.4h0M303.5 315.7h0M303.5 265.7h0M304.0 323.1h0M304.0 236.1h0M304.0 202.7h0M304.0 69.4h0M304.5 365.8h0M304.5 338.0h0M304.5 321.3h0M304.5 308.3h0M304.5 304.6h0M304.5 286.1h0M304.5 280.5h0M304.5 267.6h0M304.5 223.1h0M304.5 69.4h0M305.0 449.1h0M305.0 423.2h0M305.0 393.5h0M305.0 343.5h0M305.0 341.7h0M305.0 315.7h0M305.0 295.4h0M305.0 215.7h0M305.0 69.4h0M305.5 356.5h0M305.5 291.7h0M305.5 289.8h0M305.5 241.6h0M305.5 232.4h0M305.5 134.2h0M305.5 69.4h0M306.0 417.6h0M306.0 389.8h0M306.0 376.9h0M306.0 356.5h0M306.0 326.8h0M306.0 308.3h0M306.0 306.5h0M306.0 260.2h0M306.0 232.4h0M306.0 223.1h0M306.0 69.4h0M306.5 367.6h0M306.5 362.0h0M306.5 308.3h0M306.5 302.8h0M306.5 252.8h0M306.5 69.4h0M307.0 388.0h0M307.0 363.9h0M307.0 362.0h0M307.0 326.8h0M307.0 289.8h0M307.0 267.6h0M307.0 245.3h0M307.0 189.8h0M307.0 104.5h0M307.0 69.4h0M307.5 402.8h0M307.5 389.8h0M307.5 378.7h0M307.5 363.9h0M307.5 319.4h0M307.5 315.7h0M307.5 312.0h0M307.5 245.3h0M307.5 154.6h0M307.5 69.4h0M308.0 388.0h0M308.0 382.4h0M308.0 356.5h0M308.0 323.1h0M308.0 319.4h0M308.0 313.9h0M308.0 302.8h0M308.0 250.9h0M308.0 226.8h0M308.0 69.4h0M308.5 365.8h0M308.5 363.9h0M308.5 289.8h0M308.5 267.6h0M308.5 263.9h0M308.5 262.0h0M308.5 202.7h0M308.5 95.3h0M308.5 69.4h0M309.0 399.1h0M309.0 395.4h0M309.0 350.9h0M309.0 326.8h0M309.0 315.7h0M309.0 282.4h0M309.0 69.4h0M309.5 388.0h0M309.5 382.4h0M309.5 306.5h0M309.5 302.8h0M309.5 241.6h0M309.5 219.4h0M309.5 113.8h0M309.5 69.4h0M310.0 369.5h0M310.0 349.1h0M310.0 317.6h0M310.0 310.2h0M310.0 304.6h0M310.0 269.4h0M310.0 254.6h0M310.0 69.4h0M310.5 382.4h0M310.5 369.5h0M310.5 362.0h0M310.5 341.7h0M310.5 326.8h0M310.5 276.8h0M310.5 256.5h0M310.5 221.3h0M310.5 69.4h0M311.0 399.1h0M311.0 386.1h0M311.0 367.6h0M311.0 365.8h0M311.0 358.3h0M311.0 356.5h0M311.0 338.0h0M311.0 297.2h0M311.0 278.7h0M311.0 262.0h0M311.0 256.5h0M311.0 69.4h0M311.5 413.9h0M311.5 354.6h0M311.5 338.0h0M311.5 321.3h0M311.5 319.4h0M311.5 299.1h0M311.5 289.8h0M311.5 263.9h0M311.5 245.3h0M312.0 373.2h0M312.0 371.3h0M312.0 339.8h0M312.0 312.0h0M312.0 308.3h0M312.0 286.1h0M312.0 69.4h0M312.5 330.6h0M312.5 323.1h0M312.5 321.3h0M312.5 312.0h0M312.5 254.6h0M312.5 243.5h0M312.5 154.6h0M312.5 69.4h0M313.0 362.0h0M313.0 354.6h0M313.0 343.5h0M313.0 336.1h0M313.0 312.0h0M313.0 263.9h0M313.0 260.2h0M313.0 245.3h0M313.0 223.1h0M313.0 219.4h0M313.0 210.1h0M313.0 69.4h0M313.5 419.5h0M313.5 343.5h0M313.5 326.8h0M313.5 312.0h0M313.5 295.4h0M313.5 291.7h0M313.5 226.8h0M313.5 186.1h0M313.5 174.9h0M313.5 165.7h0M313.5 69.4h0M314.0 408.4h0M314.0 395.4h0M314.0 378.7h0M314.0 367.6h0M314.0 334.3h0M314.0 321.3h0M314.0 317.6h0M314.0 293.5h0M314.0 213.8h0M314.0 184.2h0M314.0 69.4h0M314.5 313.9h0M314.5 312.0h0M314.5 282.4h0M314.5 215.7h0M314.5 102.7h0M314.5 69.4h0M315.0 376.9h0M315.0 365.8h0M315.0 360.2h0M315.0 306.5h0M315.0 284.2h0M315.0 269.4h0M315.0 262.0h0M315.0 234.2h0M315.0 100.8h0M315.0 69.4h0M315.5 421.3h0M315.5 399.1h0M315.5 369.5h0M315.5 334.3h0M315.5 306.5h0M315.5 299.1h0M315.5 289.8h0M315.5 208.3h0M315.5 69.4h0M316.0 354.6h0M316.0 338.0h0M316.0 332.4h0M316.0 321.3h0M316.0 297.2h0M316.0 284.2h0M316.0 273.1h0M316.0 221.3h0M316.0 160.1h0M316.0 69.4h0M316.5 336.1h0M316.5 326.8h0M316.5 321.3h0M316.5 304.6h0M316.5 300.9h0M316.5 293.5h0M316.5 286.1h0M316.5 278.7h0M316.5 215.7h0M316.5 163.8h0M316.5 162.0h0M316.5 69.4h0M317.0 415.8h0M317.0 391.7h0M317.0 363.9h0M317.0 360.2h0M317.0 349.1h0M317.0 339.8h0M317.0 295.4h0M317.0 291.7h0M317.0 289.8h0M317.0 276.8h0M317.0 271.3h0M317.0 254.6h0M317.0 69.4h0M317.5 391.7h0M317.5 375.0h0M317.5 367.6h0M317.5 343.5h0M317.5 330.6h0M317.5 328.7h0M317.5 313.9h0M317.5 308.3h0M317.5 286.1h0M317.5 265.7h0M317.5 262.0h0M317.5 239.8h0M317.5 226.8h0M317.5 215.7h0M317.5 189.8h0M317.5 69.4h0M318.0 365.8h0M318.0 345.4h0M318.0 338.0h0M318.0 317.6h0M318.0 310.2h0M318.0 295.4h0M318.0 241.6h0M318.0 137.9h0M318.0 123.1h0M318.0 69.4h0M318.5 315.7h0M318.5 304.6h0M318.5 299.1h0M318.5 273.1h0M318.5 271.3h0M318.5 265.7h0M318.5 258.3h0M318.5 256.5h0M318.5 206.4h0M318.5 69.4h0M319.0 482.5h0M319.0 393.5h0M319.0 362.0h0M319.0 360.2h0M319.0 321.3h0M319.0 306.5h0M319.0 293.5h0M319.0 287.9h0M319.0 282.4h0M319.0 273.1h0M319.0 237.9h0M319.0 189.8h0M319.0 165.7h0M319.0 69.4h0M319.5 375.0h0M319.5 362.0h0M319.5 326.8h0M319.5 271.3h0M319.5 260.2h0M319.5 199.0h0M319.5 173.1h0M319.5 76.8h0M319.5 69.4h0M320.0 341.7h0M320.0 338.0h0M320.0 325.0h0M320.0 317.6h0M320.0 302.8h0M320.0 247.2h0M320.0 215.7h0M320.0 184.2h0M320.0 69.4h0M320.5 354.6h0M320.5 347.2h0M320.5 341.7h0M320.5 189.8h0M321.0 393.5h0M321.0 367.6h0M321.0 358.3h0M321.0 323.1h0M321.0 319.4h0M321.0 310.2h0M321.0 293.5h0M321.0 286.1h0M321.0 265.7h0M321.0 223.1h0M321.0 193.5h0M321.0 69.4h0M321.5 369.5h0M321.5 304.6h0M321.5 302.8h0M321.5 291.7h0M321.5 249.0h0M321.5 237.9h0M321.5 69.4h0M322.0 391.7h0M322.0 345.4h0M322.0 317.6h0M322.0 267.6h0M322.0 95.3h0M322.0 69.4h0M322.5 343.5h0M322.5 341.7h0M322.5 334.3h0M322.5 328.7h0M322.5 308.3h0M322.5 297.2h0M322.5 295.4h0M322.5 287.9h0M322.5 286.1h0M322.5 271.3h0M322.5 269.4h0M322.5 263.9h0M322.5 189.8h0M322.5 69.4h0M323.0 399.1h0M323.0 371.3h0M323.0 354.6h0M323.0 336.1h0M323.0 332.4h0M323.0 319.4h0M323.0 315.7h0M323.0 295.4h0M323.0 276.8h0M323.0 249.0h0M323.0 234.2h0M323.0 69.4h0M323.5 360.2h0M323.5 356.5h0M323.5 347.2h0M323.5 306.5h0M323.5 302.8h0M323.5 262.0h0M323.5 237.9h0M323.5 212.0h0M323.5 191.6h0M323.5 69.4h0M324.0 367.6h0M324.0 308.3h0M324.0 304.6h0M324.0 299.1h0M324.0 293.5h0M324.0 282.4h0M324.0 260.2h0M324.0 252.8h0M324.0 247.2h0M324.0 193.5h0M324.0 163.8h0M324.0 158.3h0M324.0 99.0h0M324.5 382.4h0M324.5 362.0h0M324.5 332.4h0M324.5 297.2h0M324.5 267.6h0M324.5 217.6h0M324.5 163.8h0M324.5 99.0h0M324.5 69.4h0M325.0 373.2h0M325.0 358.3h0M325.0 350.9h0M325.0 345.4h0M325.0 323.1h0M325.0 319.4h0M325.0 312.0h0M325.0 275.0h0M325.0 202.7h0M325.0 199.0h0M325.4 375.0h0M325.4 365.8h0M325.4 358.3h0M325.4 332.4h0M325.4 328.7h0M325.4 326.8h0M325.4 325.0h0M325.4 295.4h0M325.4 263.9h0M325.4 262.0h0M325.4 217.6h0M325.9 354.6h0M325.9 295.4h0M325.9 265.7h0M325.9 263.9h0M325.9 252.8h0M325.9 187.9h0M325.9 169.4h0M325.9 132.3h0M325.9 69.4h0M326.4 345.4h0M326.4 332.4h0M326.4 293.5h0M326.4 69.4h0M326.9 373.2h0M326.9 367.6h0M326.9 339.8h0M326.9 328.7h0M326.9 299.1h0M326.9 273.1h0M326.9 236.1h0M326.9 215.7h0M326.9 69.4h0M327.4 395.4h0M327.4 356.5h0M327.4 330.6h0M327.4 282.4h0M327.4 247.2h0M327.4 195.3h0M327.4 186.1h0M327.4 184.2h0M327.4 69.4h0M327.9 358.3h0M327.9 338.0h0M327.9 319.4h0M327.9 295.4h0M327.9 241.6h0M327.9 69.4h0M328.4 365.8h0M328.4 317.6h0M328.4 315.7h0M328.4 273.1h0M328.4 260.2h0M328.4 69.4h0M328.9 367.6h0M328.9 334.3h0M328.9 325.0h0M328.9 310.2h0M328.9 275.0h0M328.9 269.4h0M328.9 254.6h0M328.9 243.5h0M328.9 223.1h0M328.9 93.4h0M329.4 373.2h0M329.4 326.8h0M329.4 325.0h0M329.4 321.3h0M329.4 287.9h0M329.4 97.1h0M329.4 69.4h0M329.9 375.0h0M329.9 367.6h0M329.9 334.3h0M329.9 299.1h0M329.9 284.2h0M329.9 282.4h0M329.9 271.3h0M329.9 108.3h0M329.9 69.4h0M330.4 382.4h0M330.4 334.3h0M330.4 326.8h0M330.4 319.4h0M330.4 313.9h0M330.4 293.5h0M330.4 276.8h0M330.4 269.4h0M330.4 260.2h0M330.9 373.2h0M330.9 358.3h0M330.9 326.8h0M330.9 291.7h0M330.9 237.9h0M330.9 217.6h0M330.9 69.4h0M331.4 362.0h0M331.4 358.3h0M331.4 356.5h0M331.4 334.3h0M331.4 321.3h0M331.4 304.6h0M331.4 302.8h0M331.4 291.7h0M331.4 287.9h0M331.4 282.4h0M331.4 230.5h0M331.4 102.7h0M331.4 69.4h0M331.9 395.4h0M331.9 319.4h0M331.9 262.0h0M331.9 252.8h0M331.9 243.5h0M331.9 200.9h0M331.9 187.9h0M331.9 69.4h0M332.4 393.5h0M332.4 389.8h0M332.4 347.2h0M332.4 325.0h0M332.4 317.6h0M332.4 315.7h0M332.4 310.2h0M332.4 275.0h0M332.9 373.2h0M332.9 362.0h0M332.9 330.6h0M332.9 315.7h0M332.9 284.2h0M332.9 280.5h0M332.9 271.3h0M332.9 267.6h0M332.9 263.9h0M332.9 260.2h0M332.9 215.7h0M332.9 69.4h0M333.4 367.6h0M333.4 354.6h0M333.4 349.1h0M333.4 336.1h0M333.4 287.9h0M333.4 271.3h0M333.4 269.4h0M333.4 189.8h0M333.4 95.3h0M333.4 69.4h0M333.9 345.4h0M333.9 341.7h0M333.9 310.2h0M333.9 300.9h0M333.9 69.4h0M334.4 419.5h0M334.4 376.9h0M334.4 334.3h0M334.4 323.1h0M334.4 297.2h0M334.4 284.2h0M334.4 282.4h0M334.4 223.1h0M334.4 165.7h0M334.4 69.4h0M334.9 338.0h0M334.9 336.1h0M334.9 310.2h0M334.9 287.9h0M334.9 286.1h0M334.9 269.4h0M334.9 160.1h0M334.9 69.4h0M335.4 402.8h0M335.4 389.8h0M335.4 386.1h0M335.4 378.7h0M335.4 375.0h0M335.4 308.3h0M335.4 291.7h0M335.4 260.2h0M335.4 245.3h0M335.9 341.7h0M335.9 325.0h0M335.9 317.6h0M335.9 312.0h0M335.9 165.7h0M336.4 397.2h0M336.4 382.4h0M336.4 356.5h0M336.4 317.6h0M336.4 276.8h0M336.4 262.0h0M336.4 206.4h0M336.4 69.4h0M336.9 402.8h0M336.9 371.3h0M336.9 339.8h0M336.9 319.4h0M336.9 200.9h0M336.9 69.4h0M337.4 380.6h0M337.4 304.6h0M337.4 202.7h0M337.4 69.4h0M337.9 397.2h0M337.9 373.2h0M337.9 367.6h0M337.9 360.2h0M337.9 352.8h0M337.9 299.1h0M338.4 386.1h0M338.4 365.8h0M338.4 347.2h0M338.4 330.6h0M338.4 297.2h0M338.4 265.7h0M338.4 254.6h0M338.4 247.2h0M338.4 225.0h0M338.4 212.0h0M338.4 76.8h0M338.4 69.4h0M338.9 350.9h0M338.9 336.1h0M338.9 315.7h0M338.9 278.7h0M338.9 225.0h0M338.9 219.4h0M338.9 69.4h0M339.4 330.6h0M339.4 325.0h0M339.4 312.0h0M339.4 310.2h0M339.4 286.1h0M339.4 273.1h0M339.4 258.3h0M339.4 69.4h0M339.9 384.3h0M339.9 380.6h0M339.9 371.3h0M339.9 341.7h0M339.9 306.5h0M339.9 287.9h0M339.9 195.3h0M339.9 137.9h0M339.9 69.4h0M340.4 389.8h0M340.4 388.0h0M340.4 319.4h0M340.4 315.7h0M340.4 267.6h0M340.4 239.8h0M340.4 210.1h0M340.4 69.4h0M340.9 389.8h0M340.9 317.6h0M340.9 282.4h0M340.9 271.3h0M340.9 265.7h0M340.9 230.5h0M340.9 152.7h0M340.9 69.4h0M341.4 388.0h0M341.4 350.9h0M341.4 341.7h0M341.4 339.8h0M341.4 323.1h0M341.4 295.4h0M341.4 276.8h0M341.4 254.6h0M341.4 223.1h0M341.4 69.4h0M341.9 363.9h0M341.9 339.8h0M341.9 321.3h0M341.9 315.7h0M341.9 299.1h0M342.4 388.0h0M342.4 360.2h0M342.4 341.7h0M342.4 332.4h0M342.4 328.7h0M342.4 317.6h0M342.4 295.4h0M342.4 291.7h0M342.4 287.9h0M342.4 262.0h0M342.4 256.5h0M342.4 243.5h0M342.9 386.1h0M342.9 376.9h0M342.9 339.8h0M342.9 317.6h0M342.9 69.4h0M343.4 404.7h0M343.4 371.3h0M343.4 347.2h0M343.4 317.6h0M343.4 312.0h0M343.4 265.7h0M343.4 262.0h0M343.4 223.1h0M343.4 199.0h0M343.4 189.8h0M343.4 187.9h0M343.4 182.4h0M343.4 69.4h0M343.9 343.5h0M343.9 332.4h0M343.9 295.4h0M343.9 265.7h0M343.9 76.8h0M343.9 69.4h0M344.4 321.3h0M344.4 286.1h0M344.4 262.0h0M344.9 384.3h0M344.9 291.7h0M344.9 130.5h0M345.4 380.6h0M345.4 363.9h0M345.4 341.7h0M345.4 317.6h0M345.4 302.8h0M345.4 278.7h0M345.4 254.6h0M345.4 187.9h0M345.4 152.7h0M345.4 69.4h0M345.9 369.5h0M345.9 360.2h0M345.9 299.1h0M345.9 217.6h0M345.9 69.4h0M346.4 326.8h0M346.4 321.3h0M346.4 319.4h0M346.4 273.1h0M346.4 237.9h0M346.4 69.4h0M346.9 373.2h0M346.9 326.8h0M346.9 275.0h0M346.9 258.3h0M346.9 247.2h0M346.9 195.3h0M346.9 186.1h0M346.9 69.4h0M347.4 328.7h0M347.4 319.4h0M347.4 308.3h0M347.4 282.4h0M347.4 258.3h0M347.4 191.6h0M347.9 349.1h0M347.9 334.3h0M347.9 315.7h0M347.9 312.0h0M347.9 276.8h0M347.9 275.0h0M347.9 158.3h0M347.9 136.0h0M347.9 69.4h0M348.4 315.7h0M348.4 310.2h0M348.4 302.8h0M348.4 286.1h0M348.4 284.2h0M348.4 69.4h0M348.9 354.6h0M348.9 334.3h0M348.9 330.6h0M348.9 300.9h0M348.9 271.3h0M348.9 262.0h0M348.9 243.5h0M348.9 239.8h0M348.9 215.7h0M348.9 91.6h0M348.9 69.4h0M349.4 323.1h0M349.4 321.3h0M349.4 312.0h0M349.4 310.2h0M349.4 291.7h0M349.4 284.2h0M349.4 245.3h0M349.4 121.2h0M349.9 412.1h0M349.9 365.8h0M349.9 350.9h0M349.9 341.7h0M349.9 330.6h0M349.9 321.3h0M349.9 293.5h0M349.9 276.8h0M349.9 267.6h0M349.9 234.2h0M349.9 215.7h0M349.9 212.0h0M349.9 69.4h0M350.4 319.4h0M350.4 304.6h0M350.4 225.0h0M350.4 115.7h0M350.9 395.4h0M350.9 380.6h0M350.9 330.6h0M350.9 328.7h0M350.9 295.4h0M350.9 247.2h0M350.9 217.6h0M350.9 69.4h0M351.4 371.3h0M351.4 360.2h0M351.4 328.7h0M351.4 317.6h0M351.4 295.4h0M351.4 287.9h0M351.4 258.3h0M351.4 215.7h0M351.4 213.8h0M351.4 195.3h0M351.9 326.8h0M351.9 315.7h0M351.9 291.7h0M351.9 280.5h0M351.9 271.3h0M351.9 69.4h0M352.4 326.8h0M352.4 215.7h0M352.4 173.1h0M352.4 97.1h0M352.4 69.4h0M352.9 371.3h0M352.9 350.9h0M352.9 334.3h0M352.9 321.3h0M352.9 297.2h0M352.9 295.4h0M352.9 286.1h0M352.9 69.4h0M353.4 388.0h0M353.4 382.4h0M353.4 317.6h0M353.4 284.2h0M353.9 262.0h0M354.4 386.1h0M354.4 293.5h0M354.4 221.3h0M354.4 180.5h0M354.4 165.7h0M354.9 363.9h0M354.9 362.0h0M354.9 358.3h0M354.9 352.8h0M354.9 341.7h0M354.9 323.1h0M354.9 286.1h0M354.9 284.2h0M354.9 232.4h0M354.9 184.2h0M354.9 141.6h0M354.9 69.4h0M355.4 349.1h0M355.4 347.2h0M355.4 297.2h0M355.4 263.9h0M355.9 402.8h0M355.9 391.7h0M355.9 360.2h0M355.9 321.3h0M355.9 263.9h0M355.9 237.9h0M355.9 123.1h0M355.9 69.4h0M356.4 395.4h0M356.4 360.2h0M356.4 352.8h0M356.4 350.9h0M356.4 343.5h0M356.4 297.2h0M356.4 289.8h0M356.4 282.4h0M356.4 69.4h0M356.9 373.2h0M356.9 312.0h0M356.9 306.5h0M356.9 304.6h0M356.9 293.5h0M356.9 241.6h0M356.9 226.8h0M356.9 128.6h0M356.9 69.4h0M357.4 388.0h0M357.4 378.7h0M357.4 317.6h0M357.4 310.2h0M357.4 302.8h0M357.4 260.2h0M357.4 245.3h0M357.4 69.4h0M357.9 382.4h0M357.9 289.8h0M357.9 262.0h0M357.9 137.9h0M358.4 388.0h0M358.4 371.3h0M358.4 356.5h0M358.4 321.3h0M358.4 317.6h0M358.4 315.7h0M358.4 297.2h0M358.4 289.8h0M358.4 276.8h0M358.4 69.4h0M358.9 354.6h0M358.9 341.7h0M358.9 338.0h0M358.9 308.3h0M358.9 223.1h0M358.9 69.4h0M359.4 326.8h0M359.4 325.0h0M359.4 313.9h0M359.4 245.3h0M359.4 132.3h0M359.4 69.4h0M359.9 386.1h0M359.9 349.1h0M359.9 339.8h0M359.9 319.4h0M359.9 273.1h0M359.9 69.4h0M360.4 384.3h0M360.4 204.6h0M360.4 69.4h0M360.9 363.9h0M360.9 343.5h0M360.9 310.2h0M360.9 295.4h0M360.9 287.9h0M360.9 262.0h0M360.9 256.5h0M360.9 174.9h0M361.4 358.3h0M361.4 350.9h0M361.4 338.0h0M361.4 302.8h0M361.4 297.2h0M361.4 184.2h0M361.4 69.4h0M361.9 356.5h0M361.9 338.0h0M361.9 325.0h0M361.9 319.4h0M361.9 69.4h0M362.4 384.3h0M362.4 299.1h0M362.4 293.5h0M362.4 284.2h0M362.4 163.8h0M362.4 134.2h0M362.9 343.5h0M362.9 315.7h0M362.9 243.5h0M363.4 350.9h0M363.4 341.7h0M363.4 339.8h0M363.4 178.6h0M363.4 69.4h0M363.9 425.0h0M363.9 332.4h0M363.9 297.2h0M363.9 280.5h0M363.9 173.1h0M364.4 306.5h0M364.4 234.2h0M364.4 97.1h0M364.4 69.4h0M364.9 332.4h0M364.9 293.5h0M364.9 276.8h0M364.9 250.9h0M364.9 230.5h0M364.9 158.3h0M365.4 312.0h0M365.4 287.9h0M365.4 286.1h0M365.4 241.6h0M365.4 69.4h0M365.9 334.3h0M365.9 317.6h0M365.9 291.7h0M365.9 239.8h0M365.9 69.4h0M366.4 386.1h0M366.4 358.3h0M366.4 265.7h0M366.4 262.0h0M366.9 447.3h0M366.9 360.2h0M366.9 321.3h0M366.9 312.0h0M366.9 260.2h0M366.9 76.8h0M366.9 69.4h0M367.4 358.3h0M367.4 332.4h0M367.4 310.2h0M367.4 300.9h0M367.4 299.1h0M367.4 69.4h0M367.9 376.9h0M367.9 289.8h0M367.9 234.2h0M367.9 160.1h0M367.9 69.4h0M368.4 358.3h0M368.4 332.4h0M368.4 308.3h0M368.4 289.8h0M368.4 265.7h0M368.4 245.3h0M368.4 69.4h0M368.9 402.8h0M368.9 397.2h0M368.9 310.2h0M369.4 378.7h0M369.4 362.0h0M369.4 326.8h0M369.4 323.1h0M369.4 304.6h0M369.4 275.0h0M369.4 263.9h0M369.4 202.7h0M369.4 69.4h0M369.9 362.0h0M369.9 345.4h0M369.9 234.2h0M369.9 189.8h0M369.9 69.4h0M370.4 391.7h0M370.4 389.8h0M370.4 69.4h0M370.9 367.6h0M370.9 328.7h0M370.9 326.8h0M370.9 306.5h0M370.9 280.5h0M370.9 69.4h0M371.4 330.6h0M371.4 323.1h0M371.4 286.1h0M371.4 265.7h0M371.4 69.4h0M371.9 345.4h0M371.9 299.1h0M371.9 69.4h0M372.4 345.4h0M372.4 315.7h0M372.4 280.5h0M372.4 195.3h0M372.4 100.8h0M372.9 347.2h0M372.9 332.4h0M372.9 313.9h0M372.9 295.4h0M372.9 269.4h0M372.9 187.9h0M372.9 69.4h0M373.4 369.5h0M373.4 356.5h0M373.4 334.3h0M373.4 319.4h0M373.4 313.9h0M373.4 293.5h0M373.4 284.2h0M373.4 152.7h0M373.4 87.9h0M373.9 363.9h0M373.9 358.3h0M373.9 289.8h0M373.9 113.8h0M373.9 69.4h0M374.4 375.0h0M374.4 317.6h0M374.4 291.7h0M374.4 265.7h0M374.4 263.9h0M374.4 221.3h0M374.9 362.0h0M374.9 349.1h0M374.9 343.5h0M374.9 328.7h0M374.9 282.4h0M374.9 250.9h0M374.9 197.2h0M375.4 271.3h0M375.4 265.7h0M375.4 225.0h0M375.4 206.4h0M375.4 165.7h0M375.4 119.4h0M375.4 69.4h0M375.9 410.2h0M375.9 386.1h0M375.9 336.1h0M375.9 310.2h0M375.9 69.4h0M376.4 412.1h0M376.4 380.6h0M376.4 349.1h0M376.4 343.5h0M376.4 295.4h0M376.4 258.3h0M376.9 452.8h0M376.9 354.6h0M376.9 336.1h0M376.9 332.4h0M376.9 295.4h0M376.9 232.4h0M376.9 169.4h0M376.9 69.4h0M377.4 380.6h0M377.4 362.0h0M377.4 334.3h0M377.4 319.4h0M377.4 297.2h0M377.4 271.3h0M377.4 217.6h0M377.4 69.4h0M377.9 425.0h0M377.9 389.8h0M377.9 341.7h0M377.9 304.6h0M377.9 300.9h0M377.9 299.1h0M377.9 282.4h0M377.9 249.0h0M377.9 243.5h0M377.9 186.1h0M378.4 391.7h0M378.4 371.3h0M378.4 302.8h0M378.4 297.2h0M378.4 293.5h0M378.4 280.5h0M378.4 275.0h0M378.4 262.0h0M378.4 245.3h0M378.4 232.4h0M378.4 206.4h0M378.4 189.8h0M378.4 69.4h0M378.9 363.9h0M378.9 343.5h0M378.9 341.7h0M378.9 328.7h0M378.9 323.1h0M378.9 317.6h0M378.9 275.0h0M378.9 273.1h0M378.9 267.6h0M378.9 249.0h0M379.4 393.5h0M379.4 363.9h0M379.4 362.0h0M379.4 339.8h0M379.4 338.0h0M379.4 323.1h0M379.4 313.9h0M379.4 271.3h0M379.4 69.4h0M379.9 287.9h0M379.9 106.4h0M379.9 69.4h0M380.4 386.1h0M380.4 375.0h0M380.4 367.6h0M380.4 349.1h0M380.4 323.1h0M380.4 291.7h0M380.4 280.5h0M380.4 69.4h0M380.9 330.6h0M380.9 297.2h0M380.9 295.4h0M380.9 293.5h0M380.9 139.7h0M380.9 69.4h0M381.4 338.0h0M381.4 330.6h0M381.4 326.8h0M381.4 323.1h0M381.4 313.9h0M381.9 347.2h0M381.9 343.5h0M381.9 321.3h0M381.9 263.9h0M381.9 243.5h0M381.9 241.6h0M381.9 230.5h0M381.9 212.0h0M382.4 400.9h0M382.4 363.9h0M382.4 356.5h0M382.4 349.1h0M382.4 304.6h0M382.4 258.3h0M382.4 245.3h0M382.4 236.1h0M382.4 189.8h0M382.4 106.4h0M382.4 69.4h0M382.9 378.7h0M382.9 319.4h0M382.9 271.3h0M382.9 243.5h0M382.9 69.4h0M383.4 417.6h0M383.4 367.6h0M383.4 332.4h0M383.4 321.3h0M383.4 280.5h0M383.4 267.6h0M383.4 191.6h0M383.9 376.9h0M383.9 341.7h0M383.9 336.1h0M383.9 321.3h0M383.9 297.2h0M383.9 291.7h0M383.9 278.7h0M383.9 247.2h0M383.9 163.8h0M383.9 141.6h0M383.9 137.9h0M384.4 334.3h0M384.4 323.1h0M384.4 300.9h0M384.4 289.8h0M384.4 267.6h0M384.4 232.4h0M384.4 226.8h0M384.4 69.4h0M384.9 338.0h0M384.9 328.7h0M384.9 323.1h0M384.9 123.1h0M385.4 330.6h0M385.4 247.2h0M385.4 69.4h0M385.9 356.5h0M385.9 338.0h0M385.9 308.3h0M385.9 304.6h0M385.9 271.3h0M385.9 263.9h0M385.9 245.3h0M385.9 236.1h0M385.9 176.8h0M386.4 382.4h0M386.4 365.8h0M386.4 352.8h0M386.4 350.9h0M386.4 325.0h0M386.4 323.1h0M386.4 308.3h0M386.4 295.4h0M386.4 286.1h0M386.4 239.8h0M386.4 237.9h0M386.4 162.0h0M386.4 76.8h0M386.4 69.4h0M386.9 338.0h0M386.9 312.0h0M386.9 308.3h0M386.9 291.7h0M386.9 276.8h0M386.9 239.8h0M386.9 169.4h0M386.9 106.4h0M387.4 362.0h0M387.4 343.5h0M387.4 278.7h0M387.4 265.7h0M387.4 241.6h0M387.4 154.6h0M387.4 128.6h0M387.4 108.3h0M387.9 354.6h0M387.9 347.2h0M387.9 317.6h0M387.9 289.8h0M387.9 286.1h0M387.9 269.4h0M387.9 149.0h0M387.9 69.4h0M388.4 402.8h0M388.4 319.4h0M388.4 195.3h0M388.9 375.0h0M388.9 360.2h0M388.9 358.3h0M388.9 345.4h0M388.9 332.4h0M388.9 291.7h0M388.9 289.8h0M388.9 69.4h0M389.4 393.5h0M389.4 338.0h0M389.4 304.6h0M389.4 280.5h0M389.4 69.4h0M389.9 391.7h0M389.9 375.0h0M389.9 339.8h0M389.9 312.0h0M389.9 289.8h0M389.9 287.9h0M389.9 69.4h0M390.4 341.7h0M390.4 326.8h0M390.4 260.2h0M390.4 69.4h0M390.9 352.8h0M390.9 338.0h0M390.9 321.3h0M390.9 313.9h0M390.9 263.9h0M390.9 193.5h0M390.9 69.4h0M391.4 354.6h0M391.4 332.4h0M391.4 206.4h0M391.4 69.4h0M391.9 389.8h0M391.9 388.0h0M391.9 386.1h0M391.9 362.0h0M391.9 332.4h0M391.9 219.4h0M391.9 206.4h0M391.9 186.1h0M392.4 343.5h0M392.4 321.3h0M392.4 317.6h0M392.4 313.9h0M392.9 293.5h0M392.9 197.2h0M392.9 69.4h0M393.4 341.7h0M393.4 334.3h0M393.4 232.4h0M393.4 126.8h0M393.9 332.4h0M393.9 237.9h0M393.9 69.4h0M394.4 365.8h0M394.4 347.2h0M394.4 345.4h0M394.4 108.3h0M394.9 375.0h0M394.9 345.4h0M394.9 343.5h0M394.9 325.0h0M394.9 304.6h0M394.9 260.2h0M395.4 445.4h0M395.4 95.3h0M395.4 69.4h0M395.9 393.5h0M395.9 365.8h0M395.9 358.3h0M395.9 343.5h0M395.9 332.4h0M395.9 330.6h0M395.9 313.9h0M395.9 273.1h0M396.4 339.8h0M396.4 315.7h0M396.4 267.6h0M396.4 226.8h0M396.4 69.4h0M396.9 356.5h0M396.9 310.2h0M396.9 289.8h0M396.9 239.8h0M396.9 210.1h0M396.9 186.1h0M396.9 154.6h0M396.9 69.4h0M397.4 363.9h0M397.4 286.1h0M397.4 176.8h0M397.9 378.7h0M397.9 350.9h0M398.4 360.2h0M398.4 345.4h0M398.4 321.3h0M398.4 312.0h0M398.4 302.8h0M398.4 300.9h0M398.4 271.3h0M398.4 193.5h0M398.4 160.1h0M398.4 69.4h0M398.9 386.1h0M398.9 356.5h0M398.9 300.9h0M399.4 400.9h0M399.4 378.7h0M399.4 280.5h0M399.4 167.5h0M399.9 310.2h0M399.9 291.7h0M399.9 287.9h0M399.9 191.6h0M399.9 169.4h0M400.4 375.0h0M400.4 373.2h0M400.4 343.5h0M400.4 304.6h0M400.4 295.4h0M400.4 291.7h0M400.4 286.1h0M400.4 265.7h0M400.4 228.7h0M400.9 338.0h0M400.9 310.2h0M400.9 287.9h0M400.9 243.5h0M400.9 160.1h0M401.4 363.9h0M401.4 343.5h0M401.4 295.4h0M401.4 293.5h0M401.4 291.7h0M401.4 289.8h0M401.4 225.0h0M401.4 156.4h0M401.9 356.5h0M401.9 308.3h0M401.9 252.8h0M402.4 354.6h0M402.4 310.2h0M402.4 291.7h0M402.4 223.1h0M402.4 69.4h0M402.9 319.4h0M402.9 304.6h0M402.9 273.1h0M403.4 421.3h0M403.4 376.9h0M403.4 341.7h0M403.4 323.1h0M403.4 275.0h0M403.4 239.8h0M403.4 165.7h0M403.9 367.6h0M403.9 358.3h0M403.9 338.0h0M403.9 319.4h0M403.9 308.3h0M403.9 299.1h0M403.9 263.9h0M403.9 69.4h0M404.4 386.1h0M404.4 336.1h0M404.4 332.4h0M404.4 321.3h0M404.4 317.6h0M404.4 312.0h0M404.4 308.3h0M404.4 302.8h0M404.4 234.2h0M404.4 69.4h0M404.9 417.6h0M404.9 269.4h0M404.9 256.5h0M404.9 249.0h0M404.9 228.7h0M404.9 124.9h0M405.4 384.3h0M405.4 345.4h0M405.4 334.3h0M405.4 332.4h0M405.4 212.0h0M405.4 136.0h0M405.9 343.5h0M405.9 286.1h0M405.9 269.4h0M405.9 260.2h0M405.9 225.0h0M405.9 219.4h0M405.9 145.3h0M406.4 367.6h0M406.4 354.6h0M406.4 69.4h0M406.9 354.6h0M406.9 325.0h0M406.9 69.4h0M407.4 332.4h0M407.4 313.9h0M407.4 297.2h0M407.4 291.7h0M407.4 269.4h0M407.4 247.2h0M407.4 210.1h0M407.9 365.8h0M407.9 356.5h0M407.9 350.9h0M407.9 321.3h0M407.9 293.5h0M407.9 260.2h0M407.9 199.0h0M408.4 336.1h0M408.9 384.3h0M408.9 319.4h0M408.9 315.7h0M408.9 313.9h0M408.9 299.1h0M408.9 163.8h0M408.9 69.4h0M409.4 371.3h0M409.4 363.9h0M409.4 323.1h0M409.4 317.6h0M409.4 297.2h0M409.4 289.8h0M409.4 280.5h0M409.4 100.8h0M409.4 69.4h0M409.9 362.0h0M409.9 300.9h0M409.9 299.1h0M409.9 278.7h0M410.4 365.8h0M410.4 350.9h0M410.4 347.2h0M410.4 278.7h0M410.4 249.0h0M410.9 415.8h0M410.9 382.4h0M410.9 363.9h0M410.9 349.1h0M410.9 332.4h0M410.9 215.7h0M411.4 345.4h0M411.4 339.8h0M411.4 334.3h0M411.4 280.5h0M411.4 265.7h0M411.4 221.3h0M411.4 154.6h0M411.9 375.0h0M411.9 371.3h0M411.9 319.4h0M411.9 293.5h0M411.9 258.3h0M412.4 373.2h0M412.4 338.0h0M412.4 312.0h0M412.4 286.1h0M412.4 189.8h0M412.4 76.8h0M412.9 389.8h0M412.9 367.6h0M412.9 312.0h0M412.9 308.3h0M412.9 275.0h0M412.9 193.5h0M412.9 69.4h0M413.4 375.0h0M413.4 319.4h0M413.4 286.1h0M413.4 275.0h0M413.4 219.4h0M413.4 163.8h0M413.9 415.8h0M413.9 345.4h0M413.9 271.3h0M414.4 280.5h0M414.4 267.6h0M414.4 263.9h0M414.4 230.5h0M414.4 69.4h0M414.9 341.7h0M414.9 339.8h0M414.9 297.2h0M414.9 249.0h0M414.9 69.4h0M415.4 332.4h0M415.4 319.4h0M415.4 304.6h0M415.4 289.8h0M415.4 286.1h0M415.4 252.8h0M415.4 236.1h0M415.4 69.4h0M415.9 334.3h0M415.9 310.2h0M415.9 104.5h0M416.4 360.2h0M416.4 304.6h0M416.4 280.5h0M416.4 239.8h0M416.9 380.6h0M416.9 338.0h0M416.9 332.4h0M416.9 325.0h0M416.9 304.6h0M416.9 278.7h0M416.9 215.7h0M416.9 97.1h0M417.4 495.4h0M417.4 321.3h0M417.4 202.7h0M417.4 69.4h0M417.9 319.4h0M417.9 241.6h0M417.9 239.8h0M417.9 206.4h0M418.4 386.1h0M418.4 369.5h0M418.4 334.3h0M418.4 321.3h0M418.4 293.5h0M418.4 273.1h0M418.4 234.2h0M418.4 215.7h0M418.9 360.2h0M418.9 284.2h0M418.9 275.0h0M418.9 195.3h0M419.4 384.3h0M419.4 358.3h0M419.4 250.9h0M419.4 202.7h0M419.4 95.3h0M419.9 332.4h0M419.9 330.6h0M419.9 295.4h0M419.9 284.2h0M420.4 393.5h0M420.4 382.4h0M420.4 380.6h0M420.4 338.0h0M420.4 325.0h0M420.4 304.6h0M420.4 260.2h0M420.4 234.2h0M420.9 326.8h0M420.9 69.4h0M421.4 373.2h0M421.4 367.6h0M421.4 271.3h0M421.4 239.8h0M421.4 213.8h0M421.4 156.4h0M421.9 417.6h0M421.9 391.7h0M421.9 350.9h0M421.9 328.7h0M421.9 278.7h0M421.9 254.6h0M422.4 341.7h0M422.4 228.7h0M422.9 321.3h0M422.9 308.3h0M422.9 300.9h0M422.9 291.7h0M423.4 347.2h0M423.4 339.8h0M423.4 338.0h0M423.4 278.7h0M423.9 362.0h0M423.9 352.8h0M423.9 339.8h0M423.9 334.3h0M423.9 297.2h0M423.9 267.6h0M423.9 262.0h0M423.9 225.0h0M424.4 413.9h0M424.4 367.6h0M424.4 356.5h0M424.4 339.8h0M424.4 319.4h0M424.4 208.3h0M424.9 389.8h0M424.9 367.6h0M424.9 365.8h0M424.9 319.4h0M424.9 273.1h0M424.9 260.2h0M424.9 239.8h0M424.9 69.4h0M425.4 375.0h0M425.4 362.0h0M425.4 295.4h0M425.4 256.5h0M425.4 69.4h0M425.9 254.6h0M425.9 245.3h0M425.9 221.3h0M426.4 365.8h0M426.4 343.5h0M426.4 319.4h0M426.4 165.7h0M426.9 356.5h0M426.9 343.5h0M426.9 291.7h0M426.9 219.4h0M426.9 152.7h0M427.4 293.5h0M427.4 275.0h0M427.9 338.0h0M428.4 423.2h0M428.4 299.1h0M428.4 219.4h0M428.4 212.0h0M428.9 365.8h0M428.9 343.5h0M428.9 293.5h0M428.9 273.1h0M429.4 367.6h0M429.4 308.3h0M429.4 302.8h0M429.4 280.5h0M429.4 269.4h0M429.9 345.4h0M429.9 319.4h0M429.9 158.3h0M430.4 363.9h0M430.4 286.1h0M430.9 363.9h0M430.9 332.4h0M430.9 319.4h0M430.9 263.9h0M430.9 256.5h0M430.9 154.6h0M431.4 360.2h0M431.4 347.2h0M431.4 315.7h0M431.9 354.6h0M431.9 330.6h0M431.9 312.0h0M431.9 293.5h0M431.9 262.0h0M431.9 208.3h0M432.4 378.7h0M432.4 373.2h0M432.4 284.2h0M432.4 265.7h0M432.4 247.2h0M432.9 330.6h0M432.9 267.6h0M433.4 399.1h0M433.4 341.7h0M433.4 315.7h0M433.4 312.0h0M433.4 282.4h0M433.4 76.8h0M433.9 282.4h0M433.9 262.0h0M433.9 250.9h0M433.9 160.1h0M434.4 330.6h0M434.4 326.8h0M434.4 325.0h0M434.4 319.4h0M434.4 195.3h0M434.9 313.9h0M434.9 276.8h0M434.9 273.1h0M434.9 245.3h0M434.9 237.9h0M435.4 410.2h0M435.4 300.9h0M435.4 276.8h0M435.9 343.5h0M435.9 308.3h0M435.9 278.7h0M436.4 328.7h0M436.4 319.4h0M436.4 317.6h0M436.4 313.9h0M436.4 312.0h0M436.4 286.1h0M436.4 130.5h0M436.9 273.1h0M436.9 271.3h0M437.4 356.5h0M437.4 221.3h0M437.9 334.3h0M437.9 184.2h0M438.4 363.9h0M438.4 293.5h0M438.4 286.1h0M438.4 263.9h0M438.9 389.8h0M438.9 245.3h0M438.9 223.1h0M439.4 362.0h0M439.4 336.1h0M439.4 284.2h0M439.4 234.2h0M439.4 199.0h0M439.4 95.3h0M439.9 406.5h0M439.9 350.9h0M439.9 321.3h0M439.9 289.8h0M440.4 384.3h0M440.4 360.2h0M440.4 334.3h0M440.4 284.2h0M440.4 241.6h0M440.4 228.7h0M440.4 204.6h0M440.9 382.4h0M440.9 352.8h0M440.9 341.7h0M440.9 332.4h0M440.9 326.8h0M440.9 239.8h0M441.4 388.0h0M441.4 365.8h0M441.4 245.3h0M441.4 237.9h0M441.4 208.3h0M441.4 193.5h0M441.9 382.4h0M441.9 375.0h0M441.9 358.3h0M441.9 345.4h0M441.9 313.9h0M441.9 302.8h0M441.9 271.3h0M441.9 234.2h0M441.9 221.3h0M442.4 330.6h0M442.4 293.5h0M442.4 249.0h0M442.4 206.4h0M442.4 132.3h0M442.4 69.4h0M442.9 384.3h0M442.9 375.0h0M442.9 360.2h0M442.9 358.3h0M442.9 349.1h0M442.9 341.7h0M442.9 280.5h0M442.9 267.6h0M442.9 250.9h0M443.4 380.6h0M443.4 376.9h0M443.4 336.1h0M443.4 321.3h0M443.4 317.6h0M443.4 291.7h0M443.9 419.5h0M443.9 280.5h0M443.9 247.2h0M443.9 232.4h0M444.4 332.4h0M444.4 210.1h0M444.4 156.4h0M444.4 137.9h0M444.9 373.2h0M444.9 341.7h0M444.9 332.4h0M444.9 315.7h0M444.9 276.8h0M444.9 258.3h0M444.9 239.8h0M444.9 237.9h0M445.4 325.0h0M445.4 323.1h0M445.4 315.7h0M445.4 313.9h0M445.4 297.2h0M445.4 293.5h0M445.4 254.6h0M445.4 241.6h0M445.4 213.8h0M445.4 193.5h0M445.9 389.8h0M445.9 341.7h0M445.9 326.8h0M445.9 258.3h0M445.9 191.6h0M446.4 304.6h0M446.4 273.1h0M446.4 243.5h0M446.9 393.5h0M446.9 313.9h0M447.4 413.9h0M447.4 334.3h0M447.4 326.8h0M447.4 310.2h0M447.4 295.4h0M447.4 282.4h0M447.4 275.0h0M447.4 262.0h0M447.4 234.2h0M447.4 230.5h0M447.9 388.0h0M447.9 312.0h0M447.9 297.2h0M447.9 293.5h0M447.9 269.4h0M447.9 267.6h0M447.9 230.5h0M448.4 371.3h0M448.4 241.6h0M448.4 232.4h0M448.4 165.7h0M448.4 86.0h0M448.9 334.3h0M448.9 317.6h0M448.9 310.2h0M448.9 295.4h0M448.9 237.9h0M449.4 391.7h0M449.4 365.8h0M449.4 358.3h0M449.4 317.6h0M449.4 76.8h0M449.9 393.5h0M449.9 363.9h0M449.9 282.4h0M449.9 263.9h0M449.9 249.0h0M449.9 213.8h0M450.4 382.4h0M450.4 347.2h0M450.4 341.7h0M450.4 313.9h0M450.4 269.4h0M450.4 265.7h0M450.9 389.8h0M450.9 350.9h0M450.9 302.8h0M450.9 293.5h0M450.9 258.3h0M450.9 150.9h0M451.4 247.2h0M451.4 232.4h0M451.9 369.5h0M451.9 360.2h0M451.9 326.8h0M452.4 334.3h0M452.4 315.7h0M452.4 256.5h0M452.9 371.3h0M452.9 315.7h0M452.9 297.2h0M452.9 287.9h0M452.9 275.0h0M452.9 221.3h0M453.4 402.8h0M453.4 347.2h0M453.4 321.3h0M453.4 236.1h0M453.9 371.3h0M453.9 302.8h0M453.9 265.7h0M453.9 217.6h0M454.4 358.3h0M454.4 315.7h0M454.4 310.2h0M454.4 291.7h0M454.4 69.4h0M454.9 376.9h0M454.9 350.9h0M454.9 343.5h0M454.9 338.0h0M454.9 321.3h0M454.9 293.5h0M454.9 286.1h0M454.9 273.1h0M454.9 260.2h0M455.4 265.7h0M455.4 254.6h0M455.4 69.4h0M455.9 308.3h0M455.9 304.6h0M455.9 269.4h0M455.9 141.6h0M456.4 300.9h0M456.4 284.2h0M456.4 189.8h0M456.4 95.3h0M456.9 397.2h0M456.9 375.0h0M456.9 326.8h0M456.9 319.4h0M456.9 313.9h0M456.9 295.4h0M456.9 263.9h0M456.9 197.2h0M457.4 388.0h0M457.4 328.7h0M457.4 258.3h0M457.4 223.1h0M457.4 187.9h0M457.4 174.9h0M457.9 338.0h0M457.9 332.4h0M457.9 289.8h0M457.9 265.7h0M457.9 69.4h0M458.4 391.7h0M458.4 367.6h0M458.4 360.2h0M458.4 345.4h0M458.4 326.8h0M458.4 313.9h0M458.4 243.5h0M458.4 206.4h0M458.9 332.4h0M458.9 297.2h0M458.9 69.4h0M459.4 360.2h0M459.4 354.6h0M459.4 321.3h0M459.4 282.4h0M459.9 345.4h0M459.9 321.3h0M459.9 245.3h0M460.4 363.9h0M460.4 260.2h0M460.4 237.9h0M460.4 141.6h0M460.9 382.4h0M460.9 317.6h0M460.9 312.0h0M460.9 300.9h0M461.4 343.5h0M461.4 300.9h0M461.4 291.7h0M461.4 169.4h0M461.9 378.7h0M461.9 356.5h0M461.9 350.9h0M461.9 334.3h0M461.9 332.4h0M461.9 325.0h0M461.9 323.1h0M461.9 280.5h0M461.9 278.7h0M461.9 232.4h0M461.9 182.4h0M462.4 325.0h0M462.4 315.7h0M462.4 225.0h0M462.9 376.9h0M462.9 349.1h0M462.9 299.1h0M462.9 271.3h0M462.9 208.3h0M463.4 371.3h0M463.4 330.6h0M463.4 323.1h0M463.4 313.9h0M463.4 278.7h0M463.9 308.3h0M463.9 265.7h0M463.9 202.7h0M464.4 339.8h0M464.4 325.0h0M464.4 299.1h0M464.4 295.4h0M464.4 128.6h0M464.9 332.4h0M464.9 247.2h0M465.4 365.8h0M465.4 341.7h0M465.4 339.8h0M465.4 334.3h0M465.4 323.1h0M465.4 310.2h0M465.9 336.1h0M466.4 378.7h0M466.4 352.8h0M466.4 328.7h0M466.4 308.3h0M466.4 295.4h0M466.4 289.8h0M466.4 173.1h0M466.9 365.8h0M466.9 313.9h0M466.9 291.7h0M467.4 363.9h0M467.4 362.0h0M467.4 282.4h0M467.4 163.8h0M467.9 352.8h0M467.9 289.8h0M467.9 280.5h0M467.9 271.3h0M467.9 265.7h0M467.9 256.5h0M467.9 252.8h0M467.9 236.1h0M467.9 210.1h0M468.4 371.3h0M468.4 356.5h0M468.4 315.7h0M468.4 269.4h0M468.4 243.5h0M468.4 237.9h0M468.4 143.5h0M468.9 363.9h0M468.9 332.4h0M469.4 339.8h0M469.4 325.0h0M469.4 323.1h0M469.4 289.8h0M469.4 275.0h0M469.4 208.3h0M469.4 69.4h0M469.9 434.3h0M469.9 389.8h0M469.9 360.2h0M469.9 345.4h0M469.9 336.1h0M469.9 330.6h0M469.9 289.8h0M469.9 267.6h0M470.4 330.6h0M470.4 325.0h0M470.4 310.2h0M470.4 217.6h0M470.9 400.9h0M470.9 386.1h0M470.9 350.9h0M470.9 338.0h0M470.9 332.4h0M470.9 262.0h0M470.9 237.9h0M470.9 213.8h0M470.9 210.1h0M470.9 160.1h0M471.4 378.7h0M471.4 369.5h0M471.4 352.8h0M471.4 302.8h0M471.4 278.7h0M471.4 267.6h0M471.4 69.4h0M471.9 321.3h0M471.9 69.4h0M472.4 397.2h0M472.4 347.2h0M472.4 326.8h0M472.4 230.5h0M472.4 208.3h0M472.4 171.2h0M472.4 69.4h0M472.9 399.1h0M472.9 356.5h0M472.9 349.1h0M472.9 326.8h0M472.9 236.1h0M472.9 225.0h0M472.9 202.7h0M472.9 180.5h0M473.4 286.1h0M473.4 276.8h0M473.4 232.4h0M473.4 124.9h0M473.9 406.5h0M473.9 358.3h0M473.9 343.5h0M473.9 328.7h0M473.9 319.4h0M473.9 317.6h0M473.9 265.7h0M473.9 228.7h0M474.4 323.1h0M474.4 284.2h0M474.4 265.7h0M474.9 362.0h0M474.9 358.3h0M474.9 347.2h0M474.9 339.8h0M474.9 239.8h0M474.9 167.5h0M475.4 371.3h0M475.4 343.5h0M475.4 315.7h0M475.4 310.2h0M475.4 293.5h0M475.4 276.8h0M475.4 273.1h0M475.4 152.7h0M475.9 369.5h0M475.9 278.7h0M475.9 262.0h0M475.9 243.5h0M476.4 380.6h0M476.4 371.3h0M476.4 363.9h0M476.4 356.5h0M476.4 76.8h0M476.9 360.2h0M476.9 291.7h0M477.4 358.3h0M477.4 330.6h0M477.4 310.2h0M477.4 289.8h0M477.4 69.4h0M477.9 371.3h0M477.9 332.4h0M477.9 326.8h0M477.9 325.0h0M477.9 319.4h0M477.9 306.5h0M477.9 289.8h0M477.9 245.3h0M477.9 239.8h0M477.9 162.0h0M478.4 339.8h0M478.4 321.3h0M478.4 260.2h0M478.9 321.3h0M478.9 136.0h0M479.4 362.0h0M479.4 326.8h0M479.4 245.3h0M479.9 362.0h0M479.9 300.9h0M479.9 289.8h0M479.9 263.9h0M480.4 338.0h0M480.4 336.1h0M480.4 317.6h0M480.4 313.9h0M480.4 208.3h0M480.9 384.3h0M480.9 367.6h0M480.9 347.2h0M480.9 334.3h0M480.9 263.9h0M480.9 249.0h0M480.9 69.4h0M481.4 339.8h0M481.4 321.3h0M481.4 319.4h0M481.4 286.1h0M481.4 278.7h0M481.4 252.8h0M481.4 249.0h0M481.4 217.6h0M481.4 200.9h0M481.4 158.3h0M481.9 389.8h0M481.9 265.7h0M481.9 262.0h0M481.9 69.4h0M482.4 362.0h0M482.4 358.3h0M482.4 339.8h0M482.4 289.8h0M482.4 287.9h0M482.4 271.3h0M482.4 256.5h0M482.4 225.0h0M482.4 184.2h0M482.4 174.9h0M482.9 449.1h0M482.9 363.9h0M482.9 321.3h0M482.9 275.0h0M482.9 262.0h0M483.4 388.0h0M483.4 362.0h0M483.4 313.9h0M483.4 249.0h0M483.4 69.4h0M483.9 228.7h0M483.9 145.3h0M483.9 69.4h0M484.4 339.8h0M484.4 323.1h0M484.4 310.2h0M484.9 384.3h0M484.9 343.5h0M484.9 339.8h0M484.9 334.3h0M484.9 332.4h0M484.9 315.7h0M484.9 293.5h0M484.9 267.6h0M484.9 115.7h0M484.9 69.4h0M485.4 345.4h0M485.4 338.0h0M485.4 308.3h0M485.4 299.1h0M485.9 388.0h0M485.9 345.4h0M485.9 343.5h0M485.9 319.4h0M485.9 287.9h0M485.9 182.4h0M486.4 413.9h0M486.4 386.1h0M486.4 349.1h0M486.4 315.7h0M486.4 286.1h0M486.4 263.9h0M486.4 199.0h0M486.4 132.3h0M486.9 478.8h0M486.9 365.8h0M486.9 313.9h0M486.9 282.4h0M486.9 280.5h0M486.9 267.6h0M486.9 256.5h0M486.9 217.6h0M486.9 165.7h0M487.4 399.1h0M487.4 356.5h0M487.4 354.6h0M487.4 341.7h0M487.4 315.7h0M487.4 287.9h0M487.4 282.4h0M487.4 265.7h0M487.9 293.5h0M487.9 289.8h0M487.9 287.9h0M487.9 263.9h0M487.9 193.5h0M488.4 393.5h0M488.4 330.6h0M488.4 69.4h0M488.9 380.6h0M488.9 356.5h0M488.9 312.0h0M488.9 162.0h0M489.4 389.8h0M489.4 369.5h0M489.4 336.1h0M489.4 334.3h0M489.4 332.4h0M489.4 232.4h0M489.4 76.8h0M489.9 295.4h0M490.4 332.4h0M490.4 300.9h0M490.9 376.9h0M490.9 347.2h0M490.9 310.2h0M490.9 306.5h0M491.4 360.2h0M491.4 323.1h0M491.4 321.3h0M491.4 291.7h0M491.4 247.2h0M491.4 69.4h0M491.9 369.5h0M491.9 319.4h0M491.9 310.2h0M491.9 300.9h0M491.9 245.3h0M492.4 313.9h0M492.4 278.7h0M492.4 271.3h0M492.4 263.9h0M492.4 69.4h0M492.9 363.9h0M492.9 362.0h0M492.9 310.2h0M492.9 293.5h0M493.4 356.5h0M493.4 260.2h0M493.4 69.4h0M493.9 358.3h0M493.9 306.5h0M494.4 426.9h0M494.4 367.6h0M494.9 341.7h0M494.9 325.0h0M494.9 302.8h0M494.9 299.1h0M494.9 293.5h0M494.9 273.1h0M494.9 239.8h0M494.9 221.3h0M494.9 69.4h0M495.4 395.4h0M495.4 341.7h0M495.4 334.3h0M495.4 282.4h0M495.9 365.8h0M495.9 326.8h0M495.9 69.4h0M496.4 388.0h0M496.4 365.8h0M496.4 343.5h0M496.4 336.1h0M496.4 319.4h0M496.4 313.9h0M496.4 295.4h0M496.4 136.0h0M496.4 69.4h0M496.9 356.5h0M496.9 343.5h0M496.9 308.3h0M496.9 256.5h0M496.9 167.5h0M496.9 150.9h0M496.9 69.4h0M497.4 369.5h0M497.4 343.5h0M497.4 275.0h0M497.4 243.5h0M497.4 69.4h0M497.9 386.1h0M497.9 358.3h0M497.9 330.6h0M497.9 247.2h0M497.9 239.8h0M498.4 319.4h0M498.4 304.6h0M498.4 289.8h0M498.4 228.7h0M498.4 69.4h0M498.9 373.2h0M499.4 323.1h0M499.4 291.7h0M499.4 269.4h0M499.4 199.0h0M499.9 230.5h0M499.9 193.5h0M500.4 388.0h0M500.4 362.0h0M500.4 234.2h0M500.4 195.3h0M500.9 349.1h0M501.4 395.4h0M501.4 310.2h0M501.4 202.7h0M501.9 265.7h0M501.9 241.6h0M501.9 76.8h0M501.9 69.4h0M502.4 352.8h0M502.4 325.0h0M502.4 313.9h0M502.4 312.0h0M502.4 150.9h0M502.4 69.4h0M502.9 354.6h0M502.9 291.7h0M502.9 269.4h0M502.9 267.6h0M502.9 245.3h0M503.4 306.5h0M503.4 287.9h0M503.9 343.5h0M503.9 313.9h0M503.9 302.8h0M503.9 267.6h0M503.9 256.5h0M503.9 234.2h0M503.9 136.0h0M503.9 69.4h0M504.4 369.5h0M504.4 312.0h0M504.4 273.1h0M504.4 262.0h0M504.9 397.2h0M504.9 336.1h0M504.9 325.0h0M504.9 302.8h0M504.9 287.9h0M504.9 226.8h0M504.9 213.8h0M504.9 186.1h0M505.4 69.4h0M505.9 397.2h0M505.9 367.6h0M505.9 325.0h0M505.9 315.7h0M505.9 287.9h0M505.9 230.5h0M505.9 134.2h0M505.9 69.4h0M506.4 365.8h0M506.4 350.9h0M506.4 345.4h0M506.4 341.7h0M506.4 297.2h0M506.4 273.1h0M506.4 256.5h0M506.4 228.7h0M506.4 212.0h0M506.4 160.1h0M506.9 443.6h0M506.9 402.8h0M506.9 363.9h0M506.9 362.0h0M506.9 354.6h0M506.9 338.0h0M506.9 165.7h0M507.4 315.7h0M507.4 195.3h0M507.9 371.3h0M507.9 326.8h0M507.9 323.1h0M507.9 308.3h0M507.9 300.9h0M507.9 293.5h0M507.9 289.8h0M507.9 269.4h0M507.9 69.4h0M508.4 382.4h0M508.4 345.4h0M508.4 325.0h0M508.4 247.2h0M508.4 69.4h0M508.9 312.0h0M508.9 304.6h0M508.9 302.8h0M508.9 123.1h0M509.4 360.2h0M509.4 345.4h0M509.4 321.3h0M509.4 306.5h0M509.4 163.8h0M509.4 69.4h0M509.9 245.3h0M510.4 375.0h0M510.4 276.8h0M510.4 271.3h0M510.4 241.6h0M510.4 221.3h0M510.4 69.4h0M510.9 339.8h0M510.9 236.1h0M511.4 367.6h0M511.4 336.1h0M511.4 332.4h0M511.4 271.3h0M511.4 69.4h0M511.9 308.3h0M511.9 239.8h0M512.4 334.3h0M512.4 326.8h0M512.4 306.5h0M512.4 275.0h0M512.4 256.5h0M512.4 225.0h0M512.4 69.4h0M512.9 430.6h0M512.9 376.9h0M512.9 363.9h0M512.9 345.4h0M512.9 293.5h0M512.9 263.9h0M512.9 260.2h0M512.9 69.4h0M513.4 362.0h0M513.4 265.7h0M513.9 336.1h0M513.9 306.5h0M513.9 278.7h0M514.4 362.0h0M514.4 308.3h0M514.4 289.8h0M514.4 178.6h0M514.4 110.1h0M514.9 482.5h0M514.9 334.3h0M514.9 330.6h0M514.9 315.7h0M514.9 243.5h0M514.9 106.4h0M514.9 69.4h0M515.4 358.3h0M515.4 339.8h0M515.4 323.1h0M515.4 319.4h0M515.4 126.8h0M515.4 69.4h0M515.9 384.3h0M515.9 349.1h0M515.9 243.5h0M515.9 69.4h0M516.4 417.6h0M516.4 334.3h0M516.4 319.4h0M516.4 317.6h0M516.4 243.5h0M516.4 225.0h0M516.9 363.9h0M516.9 362.0h0M516.9 347.2h0M516.9 336.1h0M516.9 315.7h0M516.9 306.5h0M516.9 275.0h0M516.9 263.9h0M516.9 247.2h0M516.9 69.4h0M517.4 338.0h0M517.4 297.2h0M517.4 245.3h0M517.9 362.0h0M517.9 345.4h0M517.9 332.4h0M517.9 149.0h0M517.9 69.4h0M518.4 360.2h0M518.4 332.4h0M518.4 293.5h0M518.4 269.4h0M518.4 250.9h0M518.4 217.6h0M518.4 89.7h0M518.9 388.0h0M518.9 367.6h0M518.9 343.5h0M518.9 341.7h0M518.9 312.0h0M518.9 291.7h0M518.9 275.0h0M518.9 221.3h0M519.4 352.8h0M519.4 126.8h0M519.4 69.4h0M519.9 369.5h0M519.9 323.1h0M519.9 308.3h0M519.9 241.6h0M520.4 399.1h0M520.4 376.9h0M520.4 352.8h0M520.4 326.8h0M520.4 319.4h0M520.4 310.2h0M520.4 91.6h0M520.4 69.4h0M520.9 363.9h0M520.9 338.0h0M520.9 275.0h0M520.9 254.6h0M520.9 250.9h0M520.9 69.4h0M521.4 352.8h0M521.4 341.7h0M521.4 339.8h0M521.4 293.5h0M521.4 102.7h0M521.9 451.0h0M521.9 341.7h0M521.9 289.8h0M521.9 263.9h0M521.9 237.9h0M521.9 69.4h0M522.4 391.7h0M522.4 345.4h0M522.4 341.7h0M522.4 339.8h0M522.4 338.0h0M522.4 293.5h0M522.4 91.6h0M522.4 69.4h0M522.9 356.5h0M522.9 310.2h0M522.9 295.4h0M523.4 334.3h0M523.4 69.4h0M523.9 426.9h0M523.9 395.4h0M523.9 371.3h0M523.9 328.7h0M523.9 232.4h0M523.9 225.0h0M523.9 191.6h0M524.4 354.6h0M524.4 317.6h0M524.4 304.6h0M524.9 356.5h0M524.9 352.8h0M524.9 132.3h0M524.9 69.4h0M525.4 317.6h0M525.4 262.0h0M525.4 223.1h0M525.4 69.4h0M526.4 321.3h0M526.4 243.5h0M526.4 212.0h0M526.9 302.8h0M526.9 299.1h0M527.4 339.8h0M527.4 330.6h0M527.4 321.3h0M527.4 200.9h0M527.4 69.4h0M527.9 384.3h0M527.9 371.3h0M527.9 167.5h0M527.9 69.4h0M528.4 393.5h0M528.4 308.3h0M528.4 304.6h0M528.4 236.1h0M528.4 69.4h0M528.9 299.1h0M528.9 284.2h0M528.9 273.1h0M529.4 334.3h0M529.4 312.0h0M529.4 260.2h0M529.4 221.3h0M529.9 362.0h0M529.9 339.8h0M529.9 313.9h0M529.9 258.3h0M529.9 69.4h0M530.4 234.2h0M530.4 199.0h0M530.9 332.4h0M530.9 69.4h0M531.4 310.2h0M531.4 304.6h0M531.4 291.7h0M531.4 286.1h0M531.4 263.9h0M531.4 234.2h0M531.4 69.4h0M531.9 313.9h0M531.9 276.8h0M531.9 108.3h0M531.9 69.4h0M532.4 300.9h0M532.4 297.2h0M532.4 226.8h0M532.4 69.4h0M532.9 289.8h0M532.9 271.3h0M533.4 345.4h0M533.4 336.1h0M533.4 284.2h0M533.4 263.9h0M533.4 262.0h0M533.4 69.4h0M533.9 343.5h0M533.9 325.0h0M533.9 271.3h0M533.9 249.0h0M533.9 69.4h0M534.4 349.1h0M534.4 273.1h0M534.4 249.0h0M534.9 365.8h0M534.9 347.2h0M534.9 306.5h0M534.9 69.4h0M535.4 317.6h0M535.4 284.2h0M535.4 69.4h0M535.9 358.3h0M535.9 343.5h0M535.9 297.2h0M535.9 171.2h0M536.4 363.9h0M536.4 358.3h0M536.4 330.6h0M536.4 313.9h0M536.4 312.0h0M536.4 262.0h0M536.4 200.9h0M536.4 69.4h0M536.9 360.2h0M536.9 291.7h0M537.4 332.4h0M537.4 319.4h0M537.4 300.9h0M537.4 76.8h0M537.9 352.8h0M537.9 319.4h0M537.9 295.4h0M537.9 280.5h0M537.9 269.4h0M538.4 367.6h0M538.4 302.8h0M538.4 297.2h0M538.4 271.3h0M538.4 167.5h0M538.9 352.8h0M539.4 306.5h0M539.4 300.9h0M539.4 206.4h0M539.4 69.4h0M539.9 326.8h0M539.9 323.1h0M539.9 239.8h0M540.4 371.3h0M540.4 365.8h0M540.4 332.4h0M540.4 275.0h0M540.4 217.6h0M540.4 69.4h0M540.9 339.8h0M540.9 321.3h0M540.9 265.7h0M540.9 69.4h0M541.4 339.8h0M541.4 297.2h0M541.4 275.0h0M541.4 250.9h0M541.4 234.2h0M541.4 195.3h0M541.9 339.8h0M541.9 313.9h0M541.9 297.2h0M541.9 291.7h0M541.9 289.8h0M541.9 278.7h0M541.9 236.1h0M542.4 339.8h0M542.4 319.4h0M542.4 310.2h0M542.4 267.6h0M542.4 69.4h0M542.9 363.9h0M542.9 323.1h0M542.9 300.9h0M542.9 289.8h0M542.9 263.9h0M542.9 241.6h0M542.9 171.2h0M543.4 338.0h0M543.4 208.3h0M543.9 350.9h0M543.9 332.4h0M543.9 297.2h0M543.9 289.8h0M544.4 367.6h0M544.4 341.7h0M544.4 334.3h0M544.4 289.8h0M544.4 276.8h0M544.4 247.2h0M544.9 319.4h0M544.9 295.4h0M544.9 195.3h0M545.4 367.6h0M545.4 317.6h0M545.4 278.7h0M545.4 276.8h0M545.4 263.9h0M545.4 262.0h0M545.4 252.8h0M545.4 241.6h0M545.4 239.8h0M545.4 236.1h0M545.4 202.7h0M545.9 356.5h0M545.9 330.6h0M545.9 260.2h0M545.9 258.3h0M545.9 202.7h0M546.4 345.4h0M546.4 325.0h0M546.4 247.2h0M546.4 69.4h0M546.9 356.5h0M546.9 347.2h0M546.9 236.1h0M547.4 325.0h0M547.4 299.1h0M547.4 262.0h0M547.9 252.8h0M547.9 165.7h0M548.4 299.1h0M548.4 293.5h0M548.4 69.4h0M548.9 341.7h0M548.9 326.8h0M548.9 263.9h0M548.9 237.9h0M548.9 69.4h0M549.4 332.4h0M549.4 326.8h0M549.4 299.1h0M549.4 293.5h0M549.4 284.2h0M549.4 69.4h0M549.9 373.2h0M549.9 347.2h0M549.9 300.9h0M549.9 286.1h0M549.9 269.4h0M549.9 69.4h0M550.4 315.7h0M550.4 245.3h0M550.9 347.2h0M550.9 243.5h0M550.9 212.0h0M551.4 378.7h0M551.4 375.0h0M551.4 347.2h0M551.4 334.3h0M551.4 304.6h0M551.4 260.2h0M551.4 149.0h0M551.4 69.4h0M551.9 389.8h0M551.9 388.0h0M551.9 356.5h0M551.9 328.7h0M551.9 306.5h0M551.9 97.1h0M551.9 69.4h0M552.4 382.4h0M552.4 69.4h0M552.9 286.1h0M552.9 219.4h0M553.4 325.0h0M553.4 69.4h0M553.9 395.4h0M553.9 363.9h0M553.9 339.8h0M553.9 278.7h0M553.9 232.4h0M554.4 365.8h0M554.4 352.8h0M554.4 347.2h0M554.4 295.4h0M554.4 69.4h0M554.9 332.4h0M554.9 287.9h0M554.9 256.5h0M554.9 169.4h0M554.9 160.1h0M554.9 156.4h0M554.9 69.4h0M555.4 362.0h0M555.4 339.8h0M555.4 330.6h0M555.4 267.6h0M555.4 200.9h0M555.9 269.4h0M555.9 184.2h0M555.9 95.3h0M555.9 69.4h0M556.4 369.5h0M556.4 367.6h0M556.4 363.9h0M556.4 349.1h0M556.4 336.1h0M556.4 299.1h0M556.4 245.3h0M556.4 69.4h0M556.9 362.0h0M556.9 358.3h0M556.9 339.8h0M556.9 336.1h0M556.9 299.1h0M557.4 417.6h0M557.4 193.5h0M557.9 365.8h0M557.9 347.2h0M557.9 280.5h0M557.9 234.2h0M557.9 215.7h0M558.4 378.7h0M558.4 354.6h0M558.4 352.8h0M558.4 247.2h0M558.4 110.1h0M558.4 69.4h0M558.9 360.2h0M558.9 317.6h0M558.9 280.5h0M558.9 234.2h0M558.9 69.4h0M559.4 365.8h0M559.4 347.2h0M559.4 339.8h0M559.4 323.1h0M559.4 287.9h0M559.4 193.5h0M559.4 69.4h0M559.9 384.3h0M559.9 315.7h0M559.9 300.9h0M559.9 289.8h0M559.9 282.4h0M559.9 69.4h0M560.4 269.4h0M560.4 104.5h0M560.4 69.4h0M560.9 397.2h0M560.9 391.7h0M560.9 363.9h0M560.9 263.9h0M560.9 147.2h0M560.9 69.4h0M561.4 395.4h0M561.4 369.5h0M561.4 367.6h0M561.4 295.4h0M561.4 265.7h0M561.4 156.4h0M561.4 69.4h0M561.9 365.8h0M561.9 250.9h0M561.9 69.4h0M562.4 386.1h0M562.4 343.5h0M562.4 325.0h0M562.4 310.2h0M562.4 308.3h0M562.4 282.4h0M562.4 254.6h0M562.9 356.5h0M562.9 297.2h0M563.4 413.9h0M563.4 69.4h0M563.9 319.4h0M564.4 315.7h0M564.4 200.9h0M564.4 69.4h0M564.9 415.8h0M564.9 373.2h0M564.9 360.2h0M564.9 262.0h0M564.9 232.4h0M565.4 373.2h0M565.4 341.7h0M565.4 319.4h0M565.4 312.0h0M565.4 297.2h0M565.4 102.7h0M565.4 69.4h0M565.9 367.6h0M565.9 356.5h0M565.9 319.4h0M565.9 302.8h0M565.9 262.0h0M565.9 221.3h0M565.9 69.4h0M566.4 291.7h0M566.4 289.8h0M566.4 221.3h0M566.4 69.4h0M566.9 384.3h0M566.9 376.9h0M566.9 352.8h0M566.9 343.5h0M566.9 339.8h0M566.9 321.3h0M566.9 313.9h0M566.9 291.7h0M566.9 76.8h0M567.4 393.5h0M567.4 362.0h0M567.4 343.5h0M567.4 332.4h0M567.4 304.6h0M567.4 295.4h0M567.4 269.4h0M567.4 217.6h0M567.9 363.9h0M567.9 347.2h0M567.9 323.1h0M567.9 295.4h0M567.9 273.1h0M567.9 69.4h0M568.4 386.1h0M568.4 352.8h0M568.4 325.0h0M568.4 317.6h0M568.4 310.2h0M568.4 297.2h0M568.4 293.5h0M568.4 282.4h0M568.4 213.8h0M568.4 69.4h0M568.9 362.0h0M568.9 349.1h0M568.9 302.8h0M568.9 273.1h0M568.9 250.9h0M568.9 69.4h0M569.4 560.3h0M569.4 382.4h0M569.4 347.2h0M569.4 323.1h0M569.4 308.3h0M569.4 304.6h0M569.4 286.1h0M569.4 260.2h0M569.4 69.4h0M569.9 386.1h0M569.9 312.0h0M569.9 308.3h0M569.9 297.2h0M569.9 280.5h0M569.9 234.2h0M569.9 69.4h0M570.4 347.2h0M570.4 325.0h0M570.4 319.4h0M570.4 304.6h0M570.4 291.7h0M570.4 273.1h0M570.4 225.0h0M570.4 69.4h0M570.9 319.4h0M570.9 269.4h0M570.9 212.0h0M571.4 350.9h0M571.4 323.1h0M571.4 300.9h0M571.4 265.7h0M571.4 262.0h0M571.4 69.4h0" stroke="#000" stroke-width="1.5" stroke-linecap="square" fill="none"/>
<path d="M316.45 580.0V47.5" stroke="#006400" stroke-width="2.25" stroke-dasharray="9 9" stroke-linecap="round" fill="none"/>
<path d="M334.45 580.0V47.5" stroke="#006400" stroke-width="2.25" stroke-dasharray="9 9" stroke-linecap="round" fill="none"/>
<path d="M59.75 328.70H592.75" stroke="#cc1010" stroke-width="2.25" stroke-dasharray="9 9" stroke-linecap="round" fill="none"/>
</g>
<rect x="59.75" y="47.5" width="533.0" height="532.5" fill="none" stroke="#000" stroke-width=".75"/>
<path d="M125.50999999999999 580.0H525.39M125.50999999999999 580.0v6M225.48 580.0v6M325.45 580.0v6M425.41999999999996 580.0v6M525.39 580.0v6" stroke="#000" stroke-width=".75" fill="none"/>
<text x="125.51" y="601.5" font-size="10.67" text-anchor="middle">-400</text>
<text x="225.48" y="601.5" font-size="10.67" text-anchor="middle">-200</text>
<text x="325.45" y="601.5" font-size="10.67" text-anchor="middle">0</text>
<text x="425.42" y="601.5" font-size="10.67" text-anchor="middle">200</text>
<text x="525.39" y="601.5" font-size="10.67" text-anchor="middle">400</text>
<path d="M59.75 530.625V67.5M59.75 530.625h-6M59.75 438.0h-6M59.75 345.375h-6M59.75 252.75h-6M59.75 160.125h-6M59.75 67.5h-6" stroke="#000" stroke-width=".75" fill="none"/>
<text transform="translate(44.7,530.62) rotate(-90)" font-size="10.67" text-anchor="middle">75</text>
<text transform="translate(44.7,438.00) rotate(-90)" font-size="10.67" text-anchor="middle">80</text>
<text transform="translate(44.7,345.38) rotate(-90)" font-size="10.67" text-anchor="middle">85</text>
<text transform="translate(44.7,252.75) rotate(-90)" font-size="10.67" text-anchor="middle">90</text>
<text transform="translate(44.7,160.12) rotate(-90)" font-size="10.67" text-anchor="middle">95</text>
<text transform="translate(44.7,67.50) rotate(-90)" font-size="10.67" text-anchor="middle">100</text>
<text x="322.9" y="31.9" font-size="21.6" font-weight="bold" text-anchor="middle">Top hit for each peak</text>
<text x="326.5" y="625.8" font-size="16" text-anchor="middle">Distance to peak summit</text>
<text transform="translate(22.1,314) rotate(-90)" font-size="16" text-anchor="middle">Motif score</text>
</g>
<g transform="translate(640,0)">
<g clip-path="url(#cp)">
<g filter="url(#hm)">
<rect x="47.75" y="39.50" width="549.00" height="4.5" fill="url(#r0)"/>
<rect x="47.75" y="43.50" width="549.00" height="4.5" fill="url(#r1)"/>
<rect x="47.75" y="47.50" width="549.00" height="4.5" fill="url(#r2)"/>
<rect x="47.75" y="51.50" width="549.00" height="4.5" fill="url(#r3)"/>
<rect x="47.75" y="55.50" width="549.00" height="4.5" fill="url(#r4)"/>
<rect x="47.75" y="59.50" width="549.00" height="4.5" fill="url(#r5)"/>
<rect x="47.75" y="63.50" width="549.00" height="4.5" fill="url(#r6)"/>
<rect x="47.75" y="67.50" width="549.00" height="4.5" fill="url(#r7)"/>
<rect x="47.75" y="71.50" width="549.00" height="4.5" fill="url(#r8)"/>
<rect x="47.75" y="75.50" width="549.00" height="4.5" fill="url(#r9)"/>
<rect x="47.75" y="79.50" width="549.00" height="4.5" fill="url(#r10)"/>
<rect x="47.75" y="83.50" width="549.00" height="4.5" fill="url(#r11)"/>
<rect x="47.75" y="87.50" width="549.00" height="4.5" fill="url(#r12)"/>
<rect x="47.75" y="91.50" width="549.00" height="4.5" fill="url(#r13)"/>
<rect x="47.75" y="95.50" width="549.00" height="4.5" fill="url(#r14)"/>
<rect x="47.75" y="99.50" width="549.00" height="4.5" fill="url(#r15)"/>
<rect x="47.75" y="103.50" width="549.00" height="4.5" fill="url(#r16)"/>
<rect x="47.75" y="107.50" width="549.00" height="4.5" fill="url(#r17)"/>
<rect x="47.75" y="111.50" width="549.00" height="4.5" fill="url(#r18)"/>
<rect x="47.75" y="115.50" width="549.00" height="4.5" fill="url(#r19)"/>
<rect x="47.75" y="119.50" width="549.00" height="4.5" fill="url(#r20)"/>
<rect x="47.75" y="123.50" width="549.00" height="4.5" fill="url(#r21)"/>
<rect x="47.75" y="127.50" width="549.00" height="4.5" fill="url(#r22)"/>
<rect x="47.75" y="131.50" width="549.00" height="4.5" fill="url(#r23)"/>
<rect x="47.75" y="135.50" width="549.00" height="4.5" fill="url(#r24)"/>
<rect x="47.75" y="139.50" width="549.00" height="4.5" fill="url(#r25)"/>
<rect x="47.75" y="143.50" width="549.00" height="4.5" fill="url(#r26)"/>
<rect x="47.75" y="147.50" width="549.00" height="4.5" fill="url(#r27)"/>
<rect x="47.75" y="151.50" width="549.00" height="4.5" fill="url(#r28)"/>
<rect x="47.75" y="155.50" width="549.00" height="4.5" fill="url(#r29)"/>
<rect x="47.75" y="159.50" width="549.00" height="4.5" fill="url(#r30)"/>
<rect x="47.75" y="163.50" width="549.00" height="4.5" fill="url(#r31)"/>
<rect x="47.75" y="167.50" width="549.00" height="4.5" fill="url(#r32)"/>
<rect x="47.75" y="171.50" width="549.00" height="4.5" fill="url(#r33)"/>
<rect x="47.75" y="175.50" width="549.00" height="4.5" fill="url(#r34)"/>
<rect x="47.75" y="179.50" width="549.00" height="4.5" fill="url(#r35)"/>
<rect x="47.75" y="183.50" width="549.00" height="4.5" fill="url(#r36)"/>
<rect x="47.75" y="187.50" width="549.00" height="4.5" fill="url(#r37)"/>
<rect x="47.75" y="191.50" width="549.00" height="4.5" fill="url(#r38)"/>
<rect x="47.75" y="195.50" width="549.00" height="4.5" fill="url(#r39)"/>
<rect x="47.75" y="199.50" width="549.00" height="4.5" fill="url(#r40)"/>
<rect x="47.75" y="203.50" width="549.00" height="4.5" fill="url(#r41)"/>
<rect x="47.75" y="207.50" width="549.00" height="4.5" fill="url(#r42)"/>
<rect x="47.75" y="211.50" width="549.00" height="4.5" fill="url(#r43)"/>
<rect x="47.75" y="215.50" width="549.00" height="4.5" fill="url(#r44)"/>
<rect x="47.75" y="219.50" width="549.00" height="4.5" fill="url(#r45)"/>
<rect x="47.75" y="223.50" width="549.00" height="4.5" fill="url(#r46)"/>
<rect x="47.75" y="227.50" width="549.00" height="4.5" fill="url(#r47)"/>
<rect x="47.75" y="231.50" width="549.00" height="4.5" fill="url(#r48)"/>
<rect x="47.75" y="235.50" width="549.00" height="4.5" fill="url(#r49)"/>
<rect x="47.75" y="239.50" width="549.00" height="4.5" fill="url(#r50)"/>
<rect x="47.75" y="243.50" width="549.00" height="4.5" fill="url(#r51)"/>
<rect x="47.75" y="247.50" width="549.00" height="4.5" fill="url(#r52)"/>
<rect x="47.75" y="251.50" width="549.00" height="4.5" fill="url(#r53)"/>
<rect x="47.75" y="255.50" width="549.00" height="4.5" fill="url(#r54)"/>
<rect x="47.75" y="259.50" width="549.00" height="4.5" fill="url(#r55)"/>
<rect x="47.75" y="263.50" width="549.00" height="4.5" fill="url(#r56)"/>
<rect x="47.75" y="267.50" width="549.00" height="4.5" fill="url(#r57)"/>
<rect x="47.75" y="271.50" width="549.00" height="4.5" fill="url(#r58)"/>
<rect x="47.75" y="275.50" width="549.00" height="4.5" fill="url(#r59)"/>
<rect x="47.75" y="279.50" width="549.00" height="4.5" fill="url(#r60)"/>
<rect x="47.75" y="283.50" width="549.00" height="4.5" fill="url(#r61)"/>
<rect x="47.75" y="287.50" width="549.00" height="4.5" fill="url(#r62)"/>
<rect x="47.75" y="291.50" width="549.00" height="4.5" fill="url(#r63)"/>
<rect x="47.75" y="295.50" width="549.00" height="4.5" fill="url(#r64)"/>
<rect x="47.75" y="299.50" width="549.00" height="4.5" fill="url(#r65)"/>
<rect x="47.75" y="303.50" width="549.00" height="4.5" fill="url(#r66)"/>
<rect x="47.75" y="307.50" width="549.00" height="4.5" fill="url(#r67)"/>
<rect x="47.75" y="311.50" width="549.00" height="4.5" fill="url(#r68)"/>
<rect x="47.75" y="315.50" width="549.00" height="4.5" fill="url(#r69)"/>
<rect x="47.75" y="319.50" width="549.00" height="4.5" fill="url(#r70)"/>
<rect x="47.75" y="323.50" width="549.00" height="4.5" fill="url(#r71)"/>
<rect x="47.75" y="327.50" width="549.00" height="4.5" fill="url(#r72)"/>
<rect x="47.75" y="331.50" width="549.00" height="4.5" fill="url(#r73)"/>
<rect x="47.75" y="335.50" width="549.00" height="4.5" fill="url(#r74)"/>
<rect x="47.75" y="339.50" width="549.00" height="4.5" fill="url(#r75)"/>
<rect x="47.75" y="343.50" width="549.00" height="4.5" fill="url(#r76)"/>
<rect x="47.75" y="347.50" width="549.00" height="4.5" fill="url(#r77)"/>
<rect x="47.75" y="351.50" width="549.00" height="4.5" fill="url(#r78)"/>
<rect x="47.75" y="355.50" width="549.00" height="4.5" fill="url(#r79)"/>
<rect x="47.75" y="359.50" width="549.00" height="4.5" fill="url(#r80)"/>
<rect x="47.75" y="363.50" width="549.00" height="4.5" fill="url(#r81)"/>
<rect x="47.75" y="367.50" width="549.00" height="4.5" fill="url(#r82)"/>
<rect x="47.75" y="371.50" width="549.00" height="4.5" fill="url(#r83)"/>
<rect x="47.75" y="375.50" width="549.00" height="4.5" fill="url(#r84)"/>
<rect x="47.75" y="379.50" width="549.00" height="4.5" fill="url(#r85)"/>
<rect x="47.75" y="383.50" width="549.00" height="4.5" fill="url(#r86)"/>
<rect x="47.75" y="387.50" width="549.00" height="4.5" fill="url(#r87)"/>
<rect x="47.75" y="391.50" width="549.00" height="4.5" fill="url(#r88)"/>
<rect x="47.75" y="395.50" width="549.00" height="4.5" fill="url(#r89)"/>
<rect x="47.75" y="399.50" width="549.00" height="4.5" fill="url(#r90)"/>
<rect x="47.75" y="403.50" width="549.00" height="4.5" fill="url(#r91)"/>
<rect x="47.75" y="407.50" width="549.00" height="4.5" fill="url(#r92)"/>
<rect x="47.75" y="411.50" width="549.00" height="4.5" fill="url(#r93)"/>
<rect x="47.75" y="415.50" width="549.00" height="4.5" fill="url(#r94)"/>
<rect x="47.75" y="419.50" width="549.00" height="4.5" fill="url(#r95)"/>
<rect x="47.75" y="423.50" width="549.00" height="4.5" fill="url(#r96)"/>
<rect x="47.75" y="427.50" width="549.00" height="4.5" fill="url(#r97)"/>
<rect x="47.75" y="431.50" width="549.00" height="4.5" fill="url(#r98)"/>
<rect x="47.75" y="435.50" width="549.00" height="4.5" fill="url(#r99)"/>
<rect x="47.75" y="439.50" width="549.00" height="4.5" fill="url(#r100)"/>
<rect x="47.75" y="443.50" width="549.00" height="4.5" fill="url(#r101)"/>
<rect x="47.75" y="447.50" width="549.00" height="4.5" fill="url(#r102)"/>
<rect x="47.75" y="451.50" width="549.00" height="4.5" fill="url(#r103)"/>
<rect x="47.75" y="455.50" width="549.00" height="4.5" fill="url(#r104)"/>
<rect x="47.75" y="459.50" width="549.00" height="4.5" fill="url(#r105)"/>
<rect x="47.75" y="463.50" width="549.00" height="4.5" fill="url(#r106)"/>
<rect x="47.75" y="467.50" width="549.00" height="4.5" fill="url(#r107)"/>
<rect x="47.75" y="471.50" width="549.00" height="4.5" fill="url(#r108)"/>
<rect x="47.75" y="475.50" width="549.00" height="4.5" fill="url(#r109)"/>
<rect x="47.75" y="479.50" width="549.00" height="4.5" fill="url(#r110)"/>
<rect x="47.75" y="483.50" width="549.00" height="4.5" fill="url(#r111)"/>
<rect x="47.75" y="487.50" width="549.00" height="4.5" fill="url(#r112)"/>
<rect x="47.75" y="491.50" width="549.00" height="4.5" fill="url(#r113)"/>
<rect x="47.75" y="495.50" width="549.00" height="4.5" fill="url(#r114)"/>
<rect x="47.75" y="499.50" width="549.00" height="4.5" fill="url(#r115)"/>
<rect x="47.75" y="503.50" width="549.00" height="4.5" fill="url(#r116)"/>
<rect x="47.75" y="507.50" width="549.00" height="4.5" fill="url(#r117)"/>
<rect x="47.75" y="511.50" width="549.00" height="4.5" fill="url(#r118)"/>
<rect x="47.75" y="515.50" width="549.00" height="4.5" fill="url(#r119)"/>
<rect x="47.75" y="519.50" width="549.00" height="4.5" fill="url(#r120)"/>
<rect x="47.75" y="523.50" width="549.00" height="4.5" fill="url(#r121)"/>
<rect x="47.75" y="527.50" width="549.00" height="4.5" fill="url(#r122)"/>
<rect x="47.75" y="531.50" width="549.00" height="4.5" fill="url(#r123)"/>
<rect x="47.75" y="535.50" width="549.00" height="4.5" fill="url(#r124)"/>
<rect x="47.75" y="539.50" width="549.00" height="4.5" fill="url(#r125)"/>
<rect x="47.75" y="543.50" width="549.00" height="4.5" fill="url(#r126)"/>
<rect x="47.75" y="547.50" width="549.00" height="4.5" fill="url(#r127)"/>
<rect x="47.75" y="551.50" width="549.00" height="4.5" fill="url(#r128)"/>
<rect x="47.75" y="555.50" width="549.00" height="4.5" fill="url(#r129)"/>
<rect x="47.75" y="559.50" width="549.00" height="4.5" fill="url(#r130)"/>
<rect x="47.75" y="563.50" width="549.00" height="4.5" fill="url(#r131)"/>
<rect x="47.75" y="567.50" width="549.00" height="4.5" fill="url(#r132)"/>
<rect x="47.75" y="571.50" width="549.00" height="4.5" fill="url(#r133)"/>
<rect x="47.75" y="575.50" width="549.00" height="4.5" fill="url(#r134)"/>
<rect x="47.75" y="579.50" width="549.00" height="4.5" fill="url(#r135)"/>
<rect x="47.75" y="583.50" width="549.00" height="4.5" fill="url(#r136)"/>
<rect x="47.75" y="587.50" width="549.00" height="4.5" fill="url(#r137)"/>
<rect x="47.75" y="591.50" width="549.00" height="4.5" fill="url(#r138)"/>
</g>
<defs><linearGradient id="r0" gradientUnits="userSpaceOnUse" x1="47.75" x2="596.75" y1="0" y2="0"><stop offset="0.000" stop-color="#181818"/><stop offset="0.033" stop-color="#2d2d2d"/><stop offset="0.049" stop-color="#353535"/><stop offset="0.066" stop-color="#3b3b3b"/><stop offset="0.098" stop-color="#404040"/><stop offset="0.197" stop-color="#434343"/><stop offset="0.230" stop-color="#494949"/><stop offset="0.246" stop-color="#4e4e4e"/><stop offset="0.262" stop-color="#555555"/><stop offset="0.279" stop-color="#5f5f5f"/><stop offset="0.295" stop-color="#6c6c6c"/><stop offset="0.311" stop-color="#7b7b7b"/><stop offset="0.344" stop-color="#a2a2a2"/><stop offset="0.377" stop-color="#cdcdcd"/><stop offset="0.393" stop-color="#e0e0e0"/><stop offset="0.410" stop-color="#efefef"/><stop offset="0.426" stop-color="#f8f8f8"/><stop offset="0.443" stop-color="#fbfbfb"/><stop offset="0.459" stop-color="#f8f8f8"/><stop offset="0.475" stop-color="#ededed"/><stop offset="0.492" stop-color="#dcdcdc"/><stop offset="0.508" stop-color="#c7c7c7"/><stop offset="0.557" stop-color="#7c7c7c"/><stop offset="0.574" stop-color="#656565"/><stop offset="0.590" stop-color="#525252"/><stop offset="0.607" stop-color="#414141"/><stop offset="0.623" stop-color="#343434"/><stop offset="0.639" stop-color="#2a2a2a"/><stop offset="0.656" stop-color="#232323"/><stop offset="0.672" stop-color="#1e1e1e"/><stop offset="0.705" stop-color="#181818"/><stop offset="0.820" stop-color="#151515"/><stop offset="0.852" stop-color="#181818"/><stop offset="0.869" stop-color="#1b1b1b"/><stop offset="0.902" stop-color="#262626"/><stop offset="0.918" stop-color="#2a2a2a"/><stop offset="0.934" stop-color="#292929"/><stop offset="0.951" stop-color="#242424"/><stop offset="0.984" stop-color="#131313"/><stop offset="1.000" stop-color="#0c0c0c"/></linearGradient><linearGradient id="r1" gradientUnits="userSpaceOnUse" x1="47.75" x2="596.75" y1="0" y2="0"><stop offset="0.000" stop-color="#181818"/><stop offset="0.033" stop-color="#2d2d2d"/><stop offset="0.049" stop-color="#353535"/><stop offset="0.066" stop-color="#3b3b3b"/><stop offset="0.098" stop-color="#404040"/><stop offset="0.197" stop-color="#434343"/><stop offset="0.230" stop-color="#494949"/><stop offset="0.246" stop-color="#4e4e4e"/><stop offset="0.262" stop-color="#555555"/><stop offset="0.279" stop-color="#5f5f5f"/><stop offset="0.295" stop-color="#6c6c6c"/><stop offset="0.311" stop-color="#7b7b7b"/><stop offset="0.344" stop-color="#a2a2a2"/><stop offset="0.377" stop-color="#cdcdcd"/><stop offset="0.393" stop-color="#e0e0e0"/><stop offset="0.410" stop-color="#efefef"/><stop offset="0.426" stop-color="#f8f8f8"/><stop offset="0.443" stop-color="#fbfbfb"/><stop offset="0.459" stop-color="#f8f8f8"/><stop offset="0.475" stop-color="#ededed"/><stop offset="0.492" stop-color="#dcdcdc"/><stop offset="0.508" stop-color="#c7c7c7"/><stop offset="0.557" stop-color="#7c7c7c"/><stop offset="0.574" stop-color="#656565"/><stop offset="0.590" stop-color="#525252"/><stop offset="0.607" stop-color="#414141"/><stop offset="0.623" stop-color="#343434"/><stop offset="0.639" stop-color="#2a2a2a"/><stop offset="0.656" stop-color="#232323"/><stop offset="0.672" stop-color="#1e1e1e"/><stop offset="0.705" stop-color="#181818"/><stop offset="0.820" stop-color="#151515"/><stop offset="0.852" stop-color="#181818"/><stop offset="0.869" stop-color="#1b1b1b"/><stop offset="0.902" stop-color="#262626"/><stop offset="0.918" stop-color="#2a2a2a"/><stop offset="0.934" stop-color="#292929"/><stop offset="0.951" stop-color="#242424"/><stop offset="0.984" stop-color="#131313"/><stop offset="1.000" stop-color="#0c0c0c"/></linearGradient><linearGradient id="r2" gradientUnits="userSpaceOnUse" x1="47.75" x2="596.75" y1="0" y2="0"><stop offset="0.000" stop-color="#191919"/><stop offset="0.033" stop-color="#2e2e2e"/><stop offset="0.049" stop-color="#363636"/><stop offset="0.066" stop-color="#3c3c3c"/><stop offset="0.082" stop-color="#3f3f3f"/><stop offset="0.197" stop-color="#444444"/><stop offset="0.213" stop-color="#464646"/><stop offset="0.246" stop-color="#4f4f4f"/><stop offset="0.262" stop-color="#565656"/><stop offset="0.279" stop-color="#606060"/><stop offset="0.295" stop-color="#6c6c6c"/><stop offset="0.311" stop-color="#7c7c7c"/><stop offset="0.344" stop-color="#a3a3a3"/><stop offset="0.377" stop-color="#cecece"/><stop offset="0.393" stop-color="#e1e1e1"/><stop offset="0.410" stop-color="#f0f0f0"/><stop offset="0.426" stop-color="#fafafa"/><stop offset="0.443" stop-color="#fdfdfd"/><stop offset="0.459" stop-color="#f9f9f9"/><stop offset="0.475" stop-color="#eeeeee"/><stop offset="0.492" stop-color="#dddddd"/><stop offset="0.508" stop-color="#c8c8c8"/><stop offset="0.557" stop-color="#7d7d7d"/><stop offset="0.574" stop-color="#666666"/><stop offset="0.590" stop-color="#525252"/><stop offset="0.607" stop-color="#424242"/><stop offset="0.623" stop-color="#353535"/><stop offset="0.639" stop-color="#2b2b2b"/><stop offset="0.656" stop-color="#232323"/><stop offset="0.672" stop-color="#1e1e1e"/><stop offset="0.721" stop-color="#171717"/><stop offset="0.803" stop-color="#151515"/><stop offset="0.836" stop-color="#161616"/><stop offset="0.869" stop-color="#1b1b1b"/><stop offset="0.902" stop-color="#262626"/><stop offset="0.918" stop-color="#2a2a2a"/><stop offset="0.934" stop-color="#2a2a2a"/><stop offset="0.951" stop-color="#242424"/><stop offset="0.984" stop-color="#131313"/><stop offset="1.000" stop-color="#0c0c0c"/></linearGradient><linearGradient id="r3" gradientUnits="userSpaceOnUse" x1="47.75" x2="596.75" y1="0" y2="0"><stop offset="0.000" stop-color="#191919"/><stop offset="0.033" stop-color="#2e2e2e"/><stop offset="0.049" stop-color="#363636"/><stop offset="0.082" stop-color="#3f3f3f"/><stop offset="0.180" stop-color="#424242"/><stop offset="0.230" stop-color="#494949"/><stop offset="0.246" stop-color="#4e4e4e"/><stop offset="0.262" stop-color="#555555"/><stop offset="0.279" stop-color="#5f5f5f"/><stop offset="0.295" stop-color="#6b6b6b"/><stop offset="0.311" stop-color="#7b7b7b"/><stop offset="0.328" stop-color="#8d8d8d"/><stop offset="0.377" stop-color="#cbcbcb"/><stop offset="0.393" stop-color="#dedede"/><stop offset="0.410" stop-color="#ededed"/><stop offset="0.426" stop-color="#f6f6f6"/><stop offset="0.443" stop-color="#f9f9f9"/><stop offset="0.459" stop-color="#f5f5f5"/><stop offset="0.475" stop-color="#ebebeb"/><stop offset="0.492" stop-color="#dadada"/><stop offset="0.508" stop-color="#c5c5c5"/><stop offset="0.557" stop-color="#7b7b7b"/><stop offset="0.574" stop-color="#656565"/><stop offset="0.590" stop-color="#515151"/><stop offset="0.607" stop-color="#414141"/><stop offset="0.623" stop-color="#343434"/><stop offset="0.639" stop-color="#2a2a2a"/><stop offset="0.656" stop-color="#232323"/><stop offset="0.672" stop-color="#1e1e1e"/><stop offset="0.721" stop-color="#171717"/><stop offset="0.836" stop-color="#161616"/><stop offset="0.869" stop-color="#1b1b1b"/><stop offset="0.902" stop-color="#262626"/><stop offset="0.918" stop-color="#2a2a2a"/><stop offset="0.934" stop-color="#292929"/><stop offset="0.951" stop-color="#242424"/><stop offset="0.984" stop-color="#131313"/><stop offset="1.000" stop-color="#0c0c0c"/></linearGradient><linearGradient id="r4" gradientUnits="userSpaceOnUse" x1="47.75" x2="596.75" y1="0" y2="0"><stop offset="0.000" stop-color="#171717"/><stop offset="0.016" stop-color="#222222"/><stop offset="0.049" stop-color="#333333"/><stop offset="0.066" stop-color="#393939"/><stop offset="0.082" stop-color="#3c3c3c"/><stop offset="0.197" stop-color="#404040"/><stop offset="0.213" stop-color="#424242"/><stop offset="0.246" stop-color="#4a4a4a"/><stop offset="0.262" stop-color="#515151"/><stop offset="0.279" stop-color="#5a5a5a"/><stop offset="0.295" stop-color="#656565"/><stop offset="0.311" stop-color="#747474"/><stop offset="0.328" stop-color="#858585"/><stop offset="0.377" stop-color="#bfbfbf"/><stop offset="0.393" stop-color="#d0d0d0"/><stop offset="0.410" stop-color="#dedede"/><stop offset="0.426" stop-color="#e7e7e7"/><stop offset="0.443" stop-color="#eaeaea"/><stop offset="0.459" stop-color="#e6e6e6"/><stop offset="0.475" stop-color="#dcdcdc"/><stop offset="0.492" stop-color="#cdcdcd"/><stop offset="0.508" stop-color="#b9b9b9"/><stop offset="0.525" stop-color="#a3a3a3"/><stop offset="0.557" stop-color="#747474"/><stop offset="0.574" stop-color="#5f5f5f"/><stop offset="0.590" stop-color="#4d4d4d"/><stop offset="0.607" stop-color="#3e3e3e"/><stop offset="0.623" stop-color="#323232"/><stop offset="0.639" stop-color="#282828"/><stop offset="0.672" stop-color="#1d1d1d"/><stop offset="0.705" stop-color="#181818"/><stop offset="0.820" stop-color="#151515"/><stop offset="0.852" stop-color="#171717"/><stop offset="0.869" stop-color="#1a1a1a"/><stop offset="0.918" stop-color="#282828"/><stop offset="0.934" stop-color="#272727"/><stop offset="0.951" stop-color="#222222"/><stop offset="0.984" stop-color="#121212"/><stop offset="1.000" stop-color="#0c0c0c"/></linearGradient><linearGradient id="r5" gradientUnits="userSpaceOnUse" x1="47.75" x2="596.75" y1="0" y2="0"><stop offset="0.000" stop-color="#151515"/><stop offset="0.033" stop-color="#282828"/><stop offset="0.049" stop-color="#2f2f2f"/><stop offset="0.066" stop-color="#343434"/><stop offset="0.098" stop-color="#383838"/><stop offset="0.213" stop-color="#3c3c3c"/><stop offset="0.246" stop-color="#434343"/><stop offset="0.262" stop-color="#494949"/><stop offset="0.279" stop-color="#515151"/><stop offset="0.295" stop-color="#5b5b5b"/><stop offset="0.311" stop-color="#686868"/><stop offset="0.328" stop-color="#777777"/><stop offset="0.377" stop-color="#ababab"/><stop offset="0.393" stop-color="#bbbbbb"/><stop offset="0.410" stop-color="#c7c7c7"/><stop offset="0.426" stop-color="#cfcfcf"/><stop offset="0.443" stop-color="#d2d2d2"/><stop offset="0.459" stop-color="#cecece"/><stop offset="0.475" stop-color="#c6c6c6"/><stop offset="0.492" stop-color="#b8b8b8"/><stop offset="0.508" stop-color="#a6a6a6"/><stop offset="0.557" stop-color="#696969"/><stop offset="0.574" stop-color="#565656"/><stop offset="0.590" stop-color="#454545"/><stop offset="0.607" stop-color="#383838"/><stop offset="0.623" stop-color="#2d2d2d"/><stop offset="0.639" stop-color="#252525"/><stop offset="0.656" stop-color="#1f1f1f"/><stop offset="0.689" stop-color="#181818"/><stop offset="0.721" stop-color="#151515"/><stop offset="0.836" stop-color="#141414"/><stop offset="0.852" stop-color="#151515"/><stop offset="0.885" stop-color="#1c1c1c"/><stop offset="0.902" stop-color="#212121"/><stop offset="0.918" stop-color="#242424"/><stop offset="0.934" stop-color="#242424"/><stop offset="0.951" stop-color="#1f1f1f"/><stop offset="1.000" stop-color="#0b0b0b"/></linearGradient><linearGradient id="r6" gradientUnits="userSpaceOnUse" x1="47.75" x2="596.75" y1="0" y2="0"><stop offset="0.000" stop-color="#131313"/><stop offset="0.033" stop-color="#232323"/><stop offset="0.049" stop-color="#292929"/><stop offset="0.082" stop-color="#303030"/><stop offset="0.197" stop-color="#333333"/><stop offset="0.230" stop-color="#373737"/><stop offset="0.262" stop-color="#404040"/><stop offset="0.279" stop-color="#464646"/><stop offset="0.295" stop-color="#4f4f4f"/><stop offset="0.311" stop-color="#5a5a5a"/><stop offset="0.344" stop-color="#757575"/><stop offset="0.377" stop-color="#939393"/><stop offset="0.393" stop-color="#a0a0a0"/><stop offset="0.410" stop-color="#aaaaaa"/><stop offset="0.426" stop-color="#b1b1b1"/><stop offset="0.443" stop-color="#b3b3b3"/><stop offset="0.459" stop-color="#b1b1b1"/><stop offset="0.475" stop-color="#a9a9a9"/><stop offset="0.492" stop-color="#9d9d9d"/><stop offset="0.508" stop-color="#8e8e8e"/><stop offset="0.557" stop-color="#5a5a5a"/><stop offset="0.574" stop-color="#4a4a4a"/><stop offset="0.590" stop-color="#3c3c3c"/><stop offset="0.607" stop-color="#313131"/><stop offset="0.623" stop-color="#282828"/><stop offset="0.639" stop-color="#212121"/><stop offset="0.672" stop-color="#181818"/><stop offset="0.738" stop-color="#131313"/><stop offset="0.836" stop-color="#121212"/><stop offset="0.852" stop-color="#131313"/><stop offset="0.918" stop-color="#202020"/><stop offset="0.934" stop-color="#202020"/><stop offset="0.951" stop-color="#1c1c1c"/><stop offset="0.984" stop-color="#0f0f0f"/><stop offset="1.000" stop-color="#0a0a0a"/></linearGradient><linearGradient id="r7" gradientUnits="userSpaceOnUse" x1="47.75" x2="596.75" y1="0" y2="0"><stop offset="0.000" stop-color="#101010"/><stop offset="0.033" stop-color="#1d1d1d"/><stop offset="0.066" stop-color="#262626"/><stop offset="0.098" stop-color="#292929"/><stop offset="0.213" stop-color="#2c2c2c"/><stop offset="0.246" stop-color="#313131"/><stop offset="0.279" stop-color="#3a3a3a"/><stop offset="0.311" stop-color="#4a4a4a"/><stop offset="0.393" stop-color="#838383"/><stop offset="0.410" stop-color="#8c8c8c"/><stop offset="0.426" stop-color="#919191"/><stop offset="0.443" stop-color="#939393"/><stop offset="0.459" stop-color="#919191"/><stop offset="0.475" stop-color="#8b8b8b"/><stop offset="0.492" stop-color="#818181"/><stop offset="0.508" stop-color="#757575"/><stop offset="0.574" stop-color="#3e3e3e"/><stop offset="0.607" stop-color="#292929"/><stop offset="0.639" stop-color="#1c1c1c"/><stop offset="0.672" stop-color="#151515"/><stop offset="0.705" stop-color="#121212"/><stop offset="0.836" stop-color="#101010"/><stop offset="0.869" stop-color="#131313"/><stop offset="0.918" stop-color="#1b1b1b"/><stop offset="0.934" stop-color="#1b1b1b"/><stop offset="0.951" stop-color="#181818"/><stop offset="0.984" stop-color="#0d0d0d"/><stop offset="1.000" stop-color="#090909"/></linearGradient><linearGradient id="r8" gradientUnits="userSpaceOnUse" x1="47.75" x2="596.75" y1="0" y2="0"><stop offset="0.000" stop-color="#0d0d0d"/><stop offset="0.033" stop-color="#181818"/><stop offset="0.066" stop-color="#1f1f1f"/><stop offset="0.230" stop-color="#252525"/><stop offset="0.246" stop-color="#272727"/><stop offset="0.295" stop-color="#343434"/><stop offset="0.328" stop-color="#434343"/><stop offset="0.377" stop-color="#5f5f5f"/><stop offset="0.410" stop-color="#6e6e6e"/><stop offset="0.426" stop-color="#727272"/><stop offset="0.443" stop-color="#747474"/><stop offset="0.459" stop-color="#727272"/><stop offset="0.475" stop-color="#6e6e6e"/><stop offset="0.508" stop-color="#5d5d5d"/><stop offset="0.574" stop-color="#323232"/><stop offset="0.590" stop-color="#292929"/><stop offset="0.623" stop-color="#1c1c1c"/><stop offset="0.656" stop-color="#151515"/><stop offset="0.705" stop-color="#101010"/><stop offset="0.836" stop-color="#0e0e0e"/><stop offset="0.885" stop-color="#121212"/><stop offset="0.918" stop-color="#171717"/><stop offset="0.951" stop-color="#141414"/><stop offset="1.000" stop-color="#070707"/></linearGradient><linearGradient id="r9" gradientUnits="userSpaceOnUse" x1="47.75" x2="596.75" y1="0" y2="0"><stop offset="0.000" stop-color="#0a0a0a"/><stop offset="0.033" stop-color="#131313"/><stop offset="0.066" stop-color="#181818"/><stop offset="0.230" stop-color="#1d1d1d"/><stop offset="0.279" stop-color="#242424"/><stop offset="0.311" stop-color="#2d2d2d"/><stop offset="0.393" stop-color="#4e4e4e"/><stop offset="0.426" stop-color="#575757"/><stop offset="0.443" stop-color="#585858"/><stop offset="0.459" stop-color="#575757"/><stop offset="0.475" stop-color="#545454"/><stop offset="0.508" stop-color="#474747"/><stop offset="0.574" stop-color="#272727"/><stop offset="0.607" stop-color="#1b1b1b"/><stop offset="0.639" stop-color="#141414"/><stop offset="0.689" stop-color="#0f0f0f"/><stop offset="0.852" stop-color="#0d0d0d"/><stop offset="0.918" stop-color="#121212"/><stop offset="0.934" stop-color="#121212"/><stop offset="0.967" stop-color="#0d0d0d"/><stop offset="1.000" stop-color="#060606"/></linearGradient><linearGradient id="r10" gradientUnits="userSpaceOnUse" x1="47.75" x2="596.75" y1="0" y2="0"><stop offset="0.000" stop-color="#080808"/><stop offset="0.066" stop-color="#131313"/><stop offset="0.262" stop-color="#191919"/><stop offset="0.295" stop-color="#1e1e1e"/><stop offset="0.393" stop-color="#3a3a3a"/><stop offset="0.426" stop-color="#404040"/><stop offset="0.443" stop-color="#414141"/><stop offset="0.475" stop-color="#3e3e3e"/><stop offset="0.525" stop-color="#303030"/><stop offset="0.574" stop-color="#1e1e1e"/><stop offset="0.623" stop-color="#131313"/><stop offset="0.689" stop-color="#0d0d0d"/><stop offset="0.852" stop-color="#0b0b0b"/><stop offset="0.918" stop-color="#0f0f0f"/><stop offset="0.934" stop-color="#0f0f0f"/><stop offset="1.000" stop-color="#050505"/></linearGradient><linearGradient id="r11" gradientUnits="userSpaceOnUse" x1="47.75" x2="596.75" y1="0" y2="0"><stop offset="0.000" stop-color="#060606"/><stop offset="0.066" stop-color="#0f0f0f"/><stop offset="0.197" stop-color="#101010"/><stop offset="0.262" stop-color="#131313"/><stop offset="0.344" stop-color="#1f1f1f"/><stop offset="0.393" stop-color="#2a2a2a"/><stop offset="0.443" stop-color="#2f2f2f"/><stop offset="0.459" stop-color="#2f2f2f"/><stop offset="0.508" stop-color="#282828"/><stop offset="0.557" stop-color="#1b1b1b"/><stop offset="0.590" stop-color="#141414"/><stop offset="0.623" stop-color="#0f0f0f"/><stop offset="0.869" stop-color="#0a0a0a"/><stop offset="0.934" stop-color="#0c0c0c"/><stop offset="1.000" stop-color="#050505"/></linearGradient><linearGradient id="r12" gradientUnits="userSpaceOnUse" x1="47.75" x2="596.75" y1="0" y2="0"><stop offset="0.000" stop-color="#050505"/><stop offset="0.066" stop-color="#0c0c0c"/><stop offset="0.213" stop-color="#0d0d0d"/><stop offset="0.295" stop-color="#111111"/><stop offset="0.361" stop-color="#191919"/><stop offset="0.410" stop-color="#202020"/><stop offset="0.459" stop-color="#222222"/><stop offset="0.508" stop-color="#1e1e1e"/><stop offset="0.574" stop-color="#121212"/><stop offset="0.656" stop-color="#0b0b0b"/><stop offset="0.885" stop-color="#090909"/><stop offset="0.934" stop-color="#0a0a0a"/><stop offset="1.000" stop-color="#040404"/></linearGradient><linearGradient id="r13" gradientUnits="userSpaceOnUse" x1="47.75" x2="596.75" y1="0" y2="0"><stop offset="0.000" stop-color="#040404"/><stop offset="0.066" stop-color="#0a0a0a"/><stop offset="0.246" stop-color="#0b0b0b"/><stop offset="0.328" stop-color="#0f0f0f"/><stop offset="0.426" stop-color="#191919"/><stop offset="0.492" stop-color="#181818"/><stop offset="0.639" stop-color="#0a0a0a"/><stop offset="0.705" stop-color="#0a0a0a"/><stop offset="0.951" stop-color="#080808"/><stop offset="1.000" stop-color="#040404"/></linearGradient><linearGradient id="r14" gradientUnits="userSpaceOnUse" x1="47.75" x2="596.75" y1="0" y2="0"><stop offset="0.000" stop-color="#040404"/><stop offset="0.066" stop-color="#090909"/><stop offset="0.279" stop-color="#0a0a0a"/><stop offset="0.377" stop-color="#0f0f0f"/><stop offset="0.426" stop-color="#131313"/><stop offset="0.459" stop-color="#141414"/><stop offset="0.525" stop-color="#111111"/><stop offset="0.590" stop-color="#0b0b0b"/><stop offset="0.885" stop-color="#070707"/><stop offset="0.918" stop-color="#080808"/><stop offset="0.984" stop-color="#050505"/><stop offset="1.000" stop-color="#030303"/></linearGradient><linearGradient id="r15" gradientUnits="userSpaceOnUse" x1="47.75" x2="596.75" y1="0" y2="0"><stop offset="0.000" stop-color="#030303"/><stop offset="0.049" stop-color="#080808"/><stop offset="0.295" stop-color="#090909"/><stop offset="0.492" stop-color="#101010"/><stop offset="0.590" stop-color="#0a0a0a"/><stop offset="0.754" stop-color="#090909"/><stop offset="0.984" stop-color="#050505"/><stop offset="1.000" stop-color="#030303"/></linearGradient><linearGradient id="r16" gradientUnits="userSpaceOnUse" x1="47.75" x2="596.75" y1="0" y2="0"><stop offset="0.000" stop-color="#030303"/><stop offset="0.049" stop-color="#080808"/><stop offset="0.311" stop-color="#090909"/><stop offset="0.508" stop-color="#0e0e0e"/><stop offset="0.984" stop-color="#050505"/><stop offset="1.000" stop-color="#030303"/></linearGradient><linearGradient id="r17" gradientUnits="userSpaceOnUse" x1="47.75" x2="596.75" y1="0" y2="0"><stop offset="0.000" stop-color="#040404"/><stop offset="0.049" stop-color="#080808"/><stop offset="0.328" stop-color="#090909"/><stop offset="0.475" stop-color="#0e0e0e"/><stop offset="0.984" stop-color="#050505"/><stop offset="1.000" stop-color="#030303"/></linearGradient><linearGradient id="r18" gradientUnits="userSpaceOnUse" x1="47.75" x2="596.75" y1="0" y2="0"><stop offset="0.000" stop-color="#040404"/><stop offset="0.066" stop-color="#090909"/><stop offset="0.164" stop-color="#0a0a0a"/><stop offset="0.328" stop-color="#090909"/><stop offset="0.492" stop-color="#0e0e0e"/><stop offset="0.672" stop-color="#090909"/><stop offset="0.721" stop-color="#0a0a0a"/><stop offset="1.000" stop-color="#040404"/></linearGradient><linearGradient id="r19" gradientUnits="userSpaceOnUse" x1="47.75" x2="596.75" y1="0" y2="0"><stop offset="0.000" stop-color="#040404"/><stop offset="0.082" stop-color="#0a0a0a"/><stop offset="0.246" stop-color="#0a0a0a"/><stop offset="0.295" stop-color="#090909"/><stop offset="0.508" stop-color="#0e0e0e"/><stop offset="1.000" stop-color="#040404"/></linearGradient><linearGradient id="r20" gradientUnits="userSpaceOnUse" x1="47.75" x2="596.75" y1="0" y2="0"><stop offset="0.000" stop-color="#040404"/><stop offset="0.082" stop-color="#0b0b0b"/><stop offset="0.197" stop-color="#0b0b0b"/><stop offset="0.328" stop-color="#0a0a0a"/><stop offset="0.492" stop-color="#0f0f0f"/><stop offset="0.672" stop-color="#0a0a0a"/><stop offset="0.721" stop-color="#0b0b0b"/><stop offset="1.000" stop-color="#040404"/></linearGradient><linearGradient id="r21" gradientUnits="userSpaceOnUse" x1="47.75" x2="596.75" y1="0" y2="0"><stop offset="0.000" stop-color="#040404"/><stop offset="0.066" stop-color="#0b0b0b"/><stop offset="0.148" stop-color="#0c0c0c"/><stop offset="0.344" stop-color="#0b0b0b"/><stop offset="0.508" stop-color="#0f0f0f"/><stop offset="0.984" stop-color="#060606"/><stop offset="1.000" stop-color="#040404"/></linearGradient><linearGradient id="r22" gradientUnits="userSpaceOnUse" x1="47.75" x2="596.75" y1="0" y2="0"><stop offset="0.000" stop-color="#050505"/><stop offset="0.082" stop-color="#0c0c0c"/><stop offset="0.246" stop-color="#0c0c0c"/><stop offset="0.311" stop-color="#0b0b0b"/><stop offset="0.508" stop-color="#101010"/><stop offset="0.984" stop-color="#060606"/><stop offset="1.000" stop-color="#040404"/></linearGradient><linearGradient id="r23" gradientUnits="userSpaceOnUse" x1="47.75" x2="596.75" y1="0" y2="0"><stop offset="0.000" stop-color="#050505"/><stop offset="0.082" stop-color="#0d0d0d"/><stop offset="0.230" stop-color="#0d0d0d"/><stop offset="0.328" stop-color="#0c0c0c"/><stop offset="0.508" stop-color="#111111"/><stop offset="0.672" stop-color="#0c0c0c"/><stop offset="0.738" stop-color="#0d0d0d"/><stop offset="0.967" stop-color="#080808"/><stop offset="1.000" stop-color="#050505"/></linearGradient><linearGradient id="r24" gradientUnits="userSpaceOnUse" x1="47.75" x2="596.75" y1="0" y2="0"><stop offset="0.000" stop-color="#050505"/><stop offset="0.033" stop-color="#0a0a0a"/><stop offset="0.066" stop-color="#0d0d0d"/><stop offset="0.197" stop-color="#0e0e0e"/><stop offset="0.328" stop-color="#0d0d0d"/><stop offset="0.508" stop-color="#121212"/><stop offset="0.672" stop-color="#0d0d0d"/><stop offset="0.738" stop-color="#0e0e0e"/><stop offset="0.951" stop-color="#0a0a0a"/><stop offset="1.000" stop-color="#050505"/></linearGradient><linearGradient id="r25" gradientUnits="userSpaceOnUse" x1="47.75" x2="596.75" y1="0" y2="0"><stop offset="0.000" stop-color="#050505"/><stop offset="0.049" stop-color="#0c0c0c"/><stop offset="0.328" stop-color="#0e0e0e"/><stop offset="0.492" stop-color="#141414"/><stop offset="0.672" stop-color="#0e0e0e"/><stop offset="0.738" stop-color="#0f0f0f"/><stop offset="0.967" stop-color="#090909"/><stop offset="1.000" stop-color="#060606"/></linearGradient><linearGradient id="r26" gradientUnits="userSpaceOnUse" x1="47.75" x2="596.75" y1="0" y2="0"><stop offset="0.000" stop-color="#060606"/><stop offset="0.098" stop-color="#0f0f0f"/><stop offset="0.213" stop-color="#0f0f0f"/><stop offset="0.295" stop-color="#0e0e0e"/><stop offset="0.508" stop-color="#151515"/><stop offset="0.590" stop-color="#101010"/><stop offset="0.689" stop-color="#0f0f0f"/><stop offset="0.738" stop-color="#101010"/><stop offset="0.967" stop-color="#0a0a0a"/><stop offset="1.000" stop-color="#060606"/></linearGradient><linearGradient id="r27" gradientUnits="userSpaceOnUse" x1="47.75" x2="596.75" y1="0" y2="0"><stop offset="0.000" stop-color="#060606"/><stop offset="0.049" stop-color="#0d0d0d"/><stop offset="0.311" stop-color="#0f0f0f"/><stop offset="0.443" stop-color="#161616"/><stop offset="0.475" stop-color="#171717"/><stop offset="0.607" stop-color="#101010"/><stop offset="0.770" stop-color="#101010"/><stop offset="0.951" stop-color="#0c0c0c"/><stop offset="1.000" stop-color="#060606"/></linearGradient><linearGradient id="r28" gradientUnits="userSpaceOnUse" x1="47.75" x2="596.75" y1="0" y2="0"><stop offset="0.000" stop-color="#060606"/><stop offset="0.066" stop-color="#0f0f0f"/><stop offset="0.230" stop-color="#101010"/><stop offset="0.295" stop-color="#0f0f0f"/><stop offset="0.377" stop-color="#121212"/><stop offset="0.443" stop-color="#171717"/><stop offset="0.492" stop-color="#181818"/><stop offset="0.607" stop-color="#111111"/><stop offset="0.770" stop-color="#111111"/><stop offset="0.967" stop-color="#0b0b0b"/><stop offset="1.000" stop-color="#060606"/></linearGradient><linearGradient id="r29" gradientUnits="userSpaceOnUse" x1="47.75" x2="596.75" y1="0" y2="0"><stop offset="0.000" stop-color="#060606"/><stop offset="0.049" stop-color="#0e0e0e"/><stop offset="0.197" stop-color="#111111"/><stop offset="0.311" stop-color="#101010"/><stop offset="0.410" stop-color="#151515"/><stop offset="0.443" stop-color="#181818"/><stop offset="0.475" stop-color="#191919"/><stop offset="0.557" stop-color="#151515"/><stop offset="0.590" stop-color="#121212"/><stop offset="0.689" stop-color="#111111"/><stop offset="0.738" stop-color="#121212"/><stop offset="0.951" stop-color="#0d0d0d"/><stop offset="1.000" stop-color="#070707"/></linearGradient><linearGradient id="r30" gradientUnits="userSpaceOnUse" x1="47.75" x2="596.75" y1="0" y2="0"><stop offset="0.000" stop-color="#070707"/><stop offset="0.066" stop-color="#111111"/><stop offset="0.213" stop-color="#121212"/><stop offset="0.328" stop-color="#111111"/><stop offset="0.459" stop-color="#191919"/><stop offset="0.525" stop-color="#181818"/><stop offset="0.607" stop-color="#121212"/><stop offset="0.803" stop-color="#121212"/><stop offset="0.951" stop-color="#0d0d0d"/><stop offset="1.000" stop-color="#070707"/></linearGradient><linearGradient id="r31" gradientUnits="userSpaceOnUse" x1="47.75" x2="596.75" y1="0" y2="0"><stop offset="0.000" stop-color="#070707"/><stop offset="0.033" stop-color="#0e0e0e"/><stop offset="0.082" stop-color="#131313"/><stop offset="0.164" stop-color="#141414"/><stop offset="0.328" stop-color="#121212"/><stop offset="0.393" stop-color="#151515"/><stop offset="0.459" stop-color="#1a1a1a"/><stop offset="0.672" stop-color="#121212"/><stop offset="0.803" stop-color="#131313"/><stop offset="0.951" stop-color="#0e0e0e"/><stop offset="1.000" stop-color="#070707"/></linearGradient><linearGradient id="r32" gradientUnits="userSpaceOnUse" x1="47.75" x2="596.75" y1="0" y2="0"><stop offset="0.000" stop-color="#080808"/><stop offset="0.033" stop-color="#0f0f0f"/><stop offset="0.098" stop-color="#151515"/><stop offset="0.213" stop-color="#151515"/><stop offset="0.328" stop-color="#131313"/><stop offset="0.393" stop-color="#161616"/><stop offset="0.459" stop-color="#1b1b1b"/><stop offset="0.557" stop-color="#171717"/><stop offset="0.590" stop-color="#141414"/><stop offset="0.672" stop-color="#131313"/><stop offset="0.852" stop-color="#141414"/><stop offset="0.951" stop-color="#0f0f0f"/><stop offset="1.000" stop-color="#080808"/></linearGradient><linearGradient id="r33" gradientUnits="userSpaceOnUse" x1="47.75" x2="596.75" y1="0" y2="0"><stop offset="0.000" stop-color="#090909"/><stop offset="0.049" stop-color="#131313"/><stop offset="0.098" stop-color="#171717"/><stop offset="0.197" stop-color="#171717"/><stop offset="0.311" stop-color="#141414"/><stop offset="0.459" stop-color="#1c1c1c"/><stop offset="0.525" stop-color="#1b1b1b"/><stop offset="0.623" stop-color="#141414"/><stop offset="0.836" stop-color="#161616"/><stop offset="0.934" stop-color="#121212"/><stop offset="1.000" stop-color="#080808"/></linearGradient><linearGradient id="r34" gradientUnits="userSpaceOnUse" x1="47.75" x2="596.75" y1="0" y2="0"><stop offset="0.000" stop-color="#090909"/><stop offset="0.049" stop-color="#151515"/><stop offset="0.098" stop-color="#191919"/><stop offset="0.213" stop-color="#191919"/><stop offset="0.328" stop-color="#161616"/><stop offset="0.377" stop-color="#181818"/><stop offset="0.459" stop-color="#1e1e1e"/><stop offset="0.557" stop-color="#1a1a1a"/><stop offset="0.607" stop-color="#161616"/><stop offset="0.672" stop-color="#161616"/><stop offset="0.836" stop-color="#181818"/><stop offset="0.918" stop-color="#151515"/><stop offset="0.951" stop-color="#121212"/><stop offset="1.000" stop-color="#090909"/></linearGradient><linearGradient id="r35" gradientUnits="userSpaceOnUse" x1="47.75" x2="596.75" y1="0" y2="0"><stop offset="0.000" stop-color="#0a0a0a"/><stop offset="0.033" stop-color="#131313"/><stop offset="0.066" stop-color="#191919"/><stop offset="0.164" stop-color="#1c1c1c"/><stop offset="0.344" stop-color="#181818"/><stop offset="0.459" stop-color="#202020"/><stop offset="0.508" stop-color="#202020"/><stop offset="0.623" stop-color="#171717"/><stop offset="0.852" stop-color="#1a1a1a"/><stop offset="0.918" stop-color="#171717"/><stop offset="1.000" stop-color="#0a0a0a"/></linearGradient><linearGradient id="r36" gradientUnits="userSpaceOnUse" x1="47.75" x2="596.75" y1="0" y2="0"><stop offset="0.000" stop-color="#0b0b0b"/><stop offset="0.049" stop-color="#181818"/><stop offset="0.066" stop-color="#1b1b1b"/><stop offset="0.197" stop-color="#1e1e1e"/><stop offset="0.344" stop-color="#1a1a1a"/><stop offset="0.459" stop-color="#232323"/><stop offset="0.525" stop-color="#212121"/><stop offset="0.623" stop-color="#191919"/><stop offset="0.869" stop-color="#1c1c1c"/><stop offset="0.951" stop-color="#151515"/><stop offset="1.000" stop-color="#0a0a0a"/></linearGradient><linearGradient id="r37" gradientUnits="userSpaceOnUse" x1="47.75" x2="596.75" y1="0" y2="0"><stop offset="0.000" stop-color="#0c0c0c"/><stop offset="0.049" stop-color="#1a1a1a"/><stop offset="0.082" stop-color="#1f1f1f"/><stop offset="0.197" stop-color="#202020"/><stop offset="0.328" stop-color="#1c1c1c"/><stop offset="0.393" stop-color="#202020"/><stop offset="0.459" stop-color="#262626"/><stop offset="0.508" stop-color="#252525"/><stop offset="0.623" stop-color="#1b1b1b"/><stop offset="0.852" stop-color="#1f1f1f"/><stop offset="0.918" stop-color="#1b1b1b"/><stop offset="0.951" stop-color="#171717"/><stop offset="1.000" stop-color="#0b0b0b"/></linearGradient><linearGradient id="r38" gradientUnits="userSpaceOnUse" x1="47.75" x2="596.75" y1="0" y2="0"><stop offset="0.000" stop-color="#0c0c0c"/><stop offset="0.049" stop-color="#1c1c1c"/><stop offset="0.082" stop-color="#212121"/><stop offset="0.180" stop-color="#232323"/><stop offset="0.328" stop-color="#1e1e1e"/><stop offset="0.459" stop-color="#292929"/><stop offset="0.508" stop-color="#282828"/><stop offset="0.607" stop-color="#1e1e1e"/><stop offset="0.639" stop-color="#1d1d1d"/><stop offset="0.852" stop-color="#212121"/><stop offset="0.902" stop-color="#1f1f1f"/><stop offset="0.967" stop-color="#151515"/><stop offset="1.000" stop-color="#0c0c0c"/></linearGradient><linearGradient id="r39" gradientUnits="userSpaceOnUse" x1="47.75" x2="596.75" y1="0" y2="0"><stop offset="0.000" stop-color="#0d0d0d"/><stop offset="0.033" stop-color="#191919"/><stop offset="0.066" stop-color="#212121"/><stop offset="0.115" stop-color="#252525"/><stop offset="0.197" stop-color="#252525"/><stop offset="0.344" stop-color="#212121"/><stop offset="0.459" stop-color="#2c2c2c"/><stop offset="0.508" stop-color="#2b2b2b"/><stop offset="0.541" stop-color="#282828"/><stop offset="0.574" stop-color="#232323"/><stop offset="0.656" stop-color="#202020"/><stop offset="0.836" stop-color="#242424"/><stop offset="0.902" stop-color="#212121"/><stop offset="0.951" stop-color="#1a1a1a"/><stop offset="1.000" stop-color="#0d0d0d"/></linearGradient><linearGradient id="r40" gradientUnits="userSpaceOnUse" x1="47.75" x2="596.75" y1="0" y2="0"><stop offset="0.000" stop-color="#0e0e0e"/><stop offset="0.049" stop-color="#1f1f1f"/><stop offset="0.066" stop-color="#232323"/><stop offset="0.115" stop-color="#272727"/><stop offset="0.197" stop-color="#272727"/><stop offset="0.328" stop-color="#232323"/><stop offset="0.475" stop-color="#303030"/><stop offset="0.541" stop-color="#2b2b2b"/><stop offset="0.590" stop-color="#242424"/><stop offset="0.656" stop-color="#222222"/><stop offset="0.852" stop-color="#262626"/><stop offset="0.934" stop-color="#1f1f1f"/><stop offset="0.967" stop-color="#181818"/><stop offset="1.000" stop-color="#0e0e0e"/></linearGradient><linearGradient id="r41" gradientUnits="userSpaceOnUse" x1="47.75" x2="596.75" y1="0" y2="0"><stop offset="0.000" stop-color="#0f0f0f"/><stop offset="0.033" stop-color="#1c1c1c"/><stop offset="0.066" stop-color="#252525"/><stop offset="0.131" stop-color="#2a2a2a"/><stop offset="0.328" stop-color="#252525"/><stop offset="0.393" stop-color="#2b2b2b"/><stop offset="0.426" stop-color="#303030"/><stop offset="0.459" stop-color="#333333"/><stop offset="0.508" stop-color="#323232"/><stop offset="0.590" stop-color="#272727"/><stop offset="0.672" stop-color="#252525"/><stop offset="0.852" stop-color="#282828"/><stop offset="0.934" stop-color="#212121"/><stop offset="0.951" stop-color="#1e1e1e"/><stop offset="1.000" stop-color="#0f0f0f"/></linearGradient><linearGradient id="r42" gradientUnits="userSpaceOnUse" x1="47.75" x2="596.75" y1="0" y2="0"><stop offset="0.000" stop-color="#101010"/><stop offset="0.049" stop-color="#232323"/><stop offset="0.066" stop-color="#272727"/><stop offset="0.098" stop-color="#2b2b2b"/><stop offset="0.180" stop-color="#2c2c2c"/><stop offset="0.311" stop-color="#272727"/><stop offset="0.393" stop-color="#2e2e2e"/><stop offset="0.443" stop-color="#353535"/><stop offset="0.492" stop-color="#373737"/><stop offset="0.607" stop-color="#282828"/><stop offset="0.656" stop-color="#272727"/><stop offset="0.836" stop-color="#2a2a2a"/><stop offset="0.902" stop-color="#272727"/><stop offset="0.951" stop-color="#1f1f1f"/><stop offset="0.984" stop-color="#161616"/><stop offset="1.000" stop-color="#101010"/></linearGradient><linearGradient id="r43" gradientUnits="userSpaceOnUse" x1="47.75" x2="596.75" y1="0" y2="0"><stop offset="0.000" stop-color="#111111"/><stop offset="0.049" stop-color="#252525"/><stop offset="0.066" stop-color="#292929"/><stop offset="0.115" stop-color="#2e2e2e"/><stop offset="0.197" stop-color="#2e2e2e"/><stop offset="0.328" stop-color="#2a2a2a"/><stop offset="0.393" stop-color="#313131"/><stop offset="0.459" stop-color="#3a3a3a"/><stop offset="0.508" stop-color="#393939"/><stop offset="0.590" stop-color="#2c2c2c"/><stop offset="0.639" stop-color="#292929"/><stop offset="0.820" stop-color="#2c2c2c"/><stop offset="0.902" stop-color="#282828"/><stop offset="0.951" stop-color="#212121"/><stop offset="1.000" stop-color="#111111"/></linearGradient><linearGradient id="r44" gradientUnits="userSpaceOnUse" x1="47.75" x2="596.75" y1="0" y2="0"><stop offset="0.000" stop-color="#121212"/><stop offset="0.033" stop-color="#212121"/><stop offset="0.049" stop-color="#272727"/><stop offset="0.082" stop-color="#2e2e2e"/><stop offset="0.164" stop-color="#313131"/><stop offset="0.328" stop-color="#2c2c2c"/><stop offset="0.377" stop-color="#313131"/><stop offset="0.443" stop-color="#3c3c3c"/><stop offset="0.492" stop-color="#3e3e3e"/><stop offset="0.607" stop-color="#2d2d2d"/><stop offset="0.656" stop-color="#2c2c2c"/><stop offset="0.754" stop-color="#2f2f2f"/><stop offset="0.902" stop-color="#2a2a2a"/><stop offset="0.934" stop-color="#262626"/><stop offset="0.967" stop-color="#1e1e1e"/><stop offset="1.000" stop-color="#121212"/></linearGradient><linearGradient id="r45" gradientUnits="userSpaceOnUse" x1="47.75" x2="596.75" y1="0" y2="0"><stop offset="0.000" stop-color="#131313"/><stop offset="0.033" stop-color="#232323"/><stop offset="0.066" stop-color="#2e2e2e"/><stop offset="0.115" stop-color="#333333"/><stop offset="0.180" stop-color="#333333"/><stop offset="0.311" stop-color="#2e2e2e"/><stop offset="0.377" stop-color="#343434"/><stop offset="0.459" stop-color="#414141"/><stop offset="0.475" stop-color="#424242"/><stop offset="0.508" stop-color="#404040"/><stop offset="0.541" stop-color="#3b3b3b"/><stop offset="0.574" stop-color="#343434"/><stop offset="0.639" stop-color="#2e2e2e"/><stop offset="0.770" stop-color="#313131"/><stop offset="0.902" stop-color="#2b2b2b"/><stop offset="0.951" stop-color="#242424"/><stop offset="1.000" stop-color="#131313"/></linearGradient><linearGradient id="r46" gradientUnits="userSpaceOnUse" x1="47.75" x2="596.75" y1="0" y2="0"><stop offset="0.000" stop-color="#141414"/><stop offset="0.033" stop-color="#252525"/><stop offset="0.066" stop-color="#303030"/><stop offset="0.098" stop-color="#353535"/><stop offset="0.164" stop-color="#363636"/><stop offset="0.328" stop-color="#313131"/><stop offset="0.459" stop-color="#454545"/><stop offset="0.492" stop-color="#454545"/><stop offset="0.557" stop-color="#3b3b3b"/><stop offset="0.574" stop-color="#373737"/><stop offset="0.639" stop-color="#313131"/><stop offset="0.738" stop-color="#343434"/><stop offset="0.902" stop-color="#2d2d2d"/><stop offset="0.934" stop-color="#292929"/><stop offset="0.967" stop-color="#202020"/><stop offset="1.000" stop-color="#141414"/></linearGradient><linearGradient id="r47" gradientUnits="userSpaceOnUse" x1="47.75" x2="596.75" y1="0" y2="0"><stop offset="0.000" stop-color="#151515"/><stop offset="0.033" stop-color="#272727"/><stop offset="0.049" stop-color="#2e2e2e"/><stop offset="0.066" stop-color="#333333"/><stop offset="0.082" stop-color="#363636"/><stop offset="0.180" stop-color="#383838"/><stop offset="0.295" stop-color="#333333"/><stop offset="0.328" stop-color="#343434"/><stop offset="0.377" stop-color="#3a3a3a"/><stop offset="0.443" stop-color="#474747"/><stop offset="0.459" stop-color="#494949"/><stop offset="0.492" stop-color="#494949"/><stop offset="0.541" stop-color="#424242"/><stop offset="0.590" stop-color="#383838"/><stop offset="0.623" stop-color="#343434"/><stop offset="0.721" stop-color="#373737"/><stop offset="0.918" stop-color="#2d2d2d"/><stop offset="0.951" stop-color="#272727"/><stop offset="0.984" stop-color="#1c1c1c"/><stop offset="1.000" stop-color="#151515"/></linearGradient><linearGradient id="r48" gradientUnits="userSpaceOnUse" x1="47.75" x2="596.75" y1="0" y2="0"><stop offset="0.000" stop-color="#161616"/><stop offset="0.033" stop-color="#292929"/><stop offset="0.049" stop-color="#313131"/><stop offset="0.066" stop-color="#363636"/><stop offset="0.098" stop-color="#3b3b3b"/><stop offset="0.148" stop-color="#3c3c3c"/><stop offset="0.311" stop-color="#363636"/><stop offset="0.361" stop-color="#3b3b3b"/><stop offset="0.443" stop-color="#4b4b4b"/><stop offset="0.475" stop-color="#4e4e4e"/><stop offset="0.508" stop-color="#4c4c4c"/><stop offset="0.590" stop-color="#3b3b3b"/><stop offset="0.639" stop-color="#373737"/><stop offset="0.721" stop-color="#3a3a3a"/><stop offset="0.918" stop-color="#2f2f2f"/><stop offset="0.951" stop-color="#292929"/><stop offset="0.967" stop-color="#242424"/><stop offset="1.000" stop-color="#161616"/></linearGradient><linearGradient id="r49" gradientUnits="userSpaceOnUse" x1="47.75" x2="596.75" y1="0" y2="0"><stop offset="0.000" stop-color="#181818"/><stop offset="0.033" stop-color="#2c2c2c"/><stop offset="0.049" stop-color="#343434"/><stop offset="0.082" stop-color="#3d3d3d"/><stop offset="0.164" stop-color="#3f3f3f"/><stop offset="0.295" stop-color="#393939"/><stop offset="0.328" stop-color="#3a3a3a"/><stop offset="0.377" stop-color="#414141"/><stop offset="0.443" stop-color="#505050"/><stop offset="0.459" stop-color="#525252"/><stop offset="0.492" stop-color="#525252"/><stop offset="0.541" stop-color="#4a4a4a"/><stop offset="0.607" stop-color="#3c3c3c"/><stop offset="0.639" stop-color="#3a3a3a"/><stop offset="0.738" stop-color="#3d3d3d"/><stop offset="0.918" stop-color="#313131"/><stop offset="0.951" stop-color="#2b2b2b"/><stop offset="0.967" stop-color="#262626"/><stop offset="1.000" stop-color="#171717"/></linearGradient><linearGradient id="r50" gradientUnits="userSpaceOnUse" x1="47.75" x2="596.75" y1="0" y2="0"><stop offset="0.000" stop-color="#191919"/><stop offset="0.033" stop-color="#2f2f2f"/><stop offset="0.049" stop-color="#373737"/><stop offset="0.066" stop-color="#3d3d3d"/><stop offset="0.098" stop-color="#424242"/><stop offset="0.148" stop-color="#434343"/><stop offset="0.311" stop-color="#3d3d3d"/><stop offset="0.361" stop-color="#424242"/><stop offset="0.459" stop-color="#575757"/><stop offset="0.492" stop-color="#575757"/><stop offset="0.525" stop-color="#525252"/><stop offset="0.590" stop-color="#424242"/><stop offset="0.639" stop-color="#3e3e3e"/><stop offset="0.721" stop-color="#414141"/><stop offset="0.787" stop-color="#3d3d3d"/><stop offset="0.934" stop-color="#313131"/><stop offset="0.967" stop-color="#282828"/><stop offset="0.984" stop-color="#212121"/><stop offset="1.000" stop-color="#181818"/></linearGradient><linearGradient id="r51" gradientUnits="userSpaceOnUse" x1="47.75" x2="596.75" y1="0" y2="0"><stop offset="0.000" stop-color="#1b1b1b"/><stop offset="0.033" stop-color="#323232"/><stop offset="0.049" stop-color="#3b3b3b"/><stop offset="0.066" stop-color="#414141"/><stop offset="0.098" stop-color="#464646"/><stop offset="0.148" stop-color="#474747"/><stop offset="0.311" stop-color="#414141"/><stop offset="0.361" stop-color="#464646"/><stop offset="0.443" stop-color="#5a5a5a"/><stop offset="0.475" stop-color="#5d5d5d"/><stop offset="0.508" stop-color="#5a5a5a"/><stop offset="0.541" stop-color="#535353"/><stop offset="0.574" stop-color="#4a4a4a"/><stop offset="0.623" stop-color="#424242"/><stop offset="0.738" stop-color="#444444"/><stop offset="0.918" stop-color="#363636"/><stop offset="0.951" stop-color="#303030"/><stop offset="0.984" stop-color="#232323"/><stop offset="1.000" stop-color="#1a1a1a"/></linearGradient><linearGradient id="r52" gradientUnits="userSpaceOnUse" x1="47.75" x2="596.75" y1="0" y2="0"><stop offset="0.000" stop-color="#1c1c1c"/><stop offset="0.016" stop-color="#292929"/><stop offset="0.049" stop-color="#3e3e3e"/><stop offset="0.066" stop-color="#444444"/><stop offset="0.082" stop-color="#484848"/><stop offset="0.098" stop-color="#4a4a4a"/><stop offset="0.131" stop-color="#4b4b4b"/><stop offset="0.311" stop-color="#454545"/><stop offset="0.344" stop-color="#484848"/><stop offset="0.410" stop-color="#575757"/><stop offset="0.426" stop-color="#5c5c5c"/><stop offset="0.459" stop-color="#626262"/><stop offset="0.475" stop-color="#636363"/><stop offset="0.508" stop-color="#606060"/><stop offset="0.525" stop-color="#5d5d5d"/><stop offset="0.590" stop-color="#4b4b4b"/><stop offset="0.607" stop-color="#484848"/><stop offset="0.656" stop-color="#464646"/><stop offset="0.721" stop-color="#494949"/><stop offset="0.918" stop-color="#393939"/><stop offset="0.951" stop-color="#333333"/><stop offset="0.967" stop-color="#2d2d2d"/><stop offset="0.984" stop-color="#252525"/><stop offset="1.000" stop-color="#1b1b1b"/></linearGradient><linearGradient id="r53" gradientUnits="userSpaceOnUse" x1="47.75" x2="596.75" y1="0" y2="0"><stop offset="0.000" stop-color="#1e1e1e"/><stop offset="0.033" stop-color="#373737"/><stop offset="0.049" stop-color="#414141"/><stop offset="0.066" stop-color="#484848"/><stop offset="0.082" stop-color="#4c4c4c"/><stop offset="0.098" stop-color="#4e4e4e"/><stop offset="0.164" stop-color="#4e4e4e"/><stop offset="0.295" stop-color="#494949"/><stop offset="0.344" stop-color="#4d4d4d"/><stop offset="0.393" stop-color="#585858"/><stop offset="0.443" stop-color="#666666"/><stop offset="0.475" stop-color="#696969"/><stop offset="0.492" stop-color="#696969"/><stop offset="0.525" stop-color="#636363"/><stop offset="0.590" stop-color="#505050"/><stop offset="0.623" stop-color="#4b4b4b"/><stop offset="0.721" stop-color="#4e4e4e"/><stop offset="0.934" stop-color="#3a3a3a"/><stop offset="0.951" stop-color="#363636"/><stop offset="0.984" stop-color="#272727"/><stop offset="1.000" stop-color="#1d1d1d"/></linearGradient><linearGradient id="r54" gradientUnits="userSpaceOnUse" x1="47.75" x2="596.75" y1="0" y2="0"><stop offset="0.000" stop-color="#1f1f1f"/><stop offset="0.033" stop-color="#3a3a3a"/><stop offset="0.049" stop-color="#444444"/><stop offset="0.066" stop-color="#4b4b4b"/><stop offset="0.082" stop-color="#4f4f4f"/><stop offset="0.115" stop-color="#525252"/><stop offset="0.295" stop-color="#4d4d4d"/><stop offset="0.328" stop-color="#4f4f4f"/><stop offset="0.377" stop-color="#595959"/><stop offset="0.443" stop-color="#6c6c6c"/><stop offset="0.459" stop-color="#6f6f6f"/><stop offset="0.492" stop-color="#707070"/><stop offset="0.525" stop-color="#696969"/><stop offset="0.590" stop-color="#555555"/><stop offset="0.623" stop-color="#505050"/><stop offset="0.721" stop-color="#535353"/><stop offset="0.803" stop-color="#4a4a4a"/><stop offset="0.836" stop-color="#454545"/><stop offset="0.902" stop-color="#414141"/><stop offset="0.934" stop-color="#3d3d3d"/><stop offset="0.951" stop-color="#393939"/><stop offset="0.967" stop-color="#323232"/><stop offset="1.000" stop-color="#1f1f1f"/></linearGradient><linearGradient id="r55" gradientUnits="userSpaceOnUse" x1="47.75" x2="596.75" y1="0" y2="0"><stop offset="0.000" stop-color="#202020"/><stop offset="0.033" stop-color="#3c3c3c"/><stop offset="0.049" stop-color="#474747"/><stop offset="0.066" stop-color="#4e4e4e"/><stop offset="0.082" stop-color="#525252"/><stop offset="0.115" stop-color="#555555"/><stop offset="0.295" stop-color="#515151"/><stop offset="0.344" stop-color="#565656"/><stop offset="0.410" stop-color="#696969"/><stop offset="0.426" stop-color="#6f6f6f"/><stop offset="0.459" stop-color="#767676"/><stop offset="0.492" stop-color="#777777"/><stop offset="0.525" stop-color="#707070"/><stop offset="0.574" stop-color="#5f5f5f"/><stop offset="0.607" stop-color="#575757"/><stop offset="0.623" stop-color="#555555"/><stop offset="0.738" stop-color="#575757"/><stop offset="0.836" stop-color="#494949"/><stop offset="0.918" stop-color="#434343"/><stop offset="0.951" stop-color="#3c3c3c"/><stop offset="0.967" stop-color="#353535"/><stop offset="0.984" stop-color="#2c2c2c"/><stop offset="1.000" stop-color="#212121"/></linearGradient><linearGradient id="r56" gradientUnits="userSpaceOnUse" x1="47.75" x2="596.75" y1="0" y2="0"><stop offset="0.000" stop-color="#222222"/><stop offset="0.033" stop-color="#3e3e3e"/><stop offset="0.049" stop-color="#494949"/><stop offset="0.066" stop-color="#515151"/><stop offset="0.082" stop-color="#555555"/><stop offset="0.115" stop-color="#585858"/><stop offset="0.180" stop-color="#585858"/><stop offset="0.295" stop-color="#555555"/><stop offset="0.328" stop-color="#585858"/><stop offset="0.361" stop-color="#5f5f5f"/><stop offset="0.443" stop-color="#7a7a7a"/><stop offset="0.475" stop-color="#7f7f7f"/><stop offset="0.492" stop-color="#7e7e7e"/><stop offset="0.525" stop-color="#777777"/><stop offset="0.590" stop-color="#606060"/><stop offset="0.607" stop-color="#5c5c5c"/><stop offset="0.639" stop-color="#595959"/><stop offset="0.721" stop-color="#5c5c5c"/><stop offset="0.770" stop-color="#575757"/><stop offset="0.852" stop-color="#4b4b4b"/><stop offset="0.934" stop-color="#444444"/><stop offset="0.951" stop-color="#3f3f3f"/><stop offset="0.967" stop-color="#383838"/><stop offset="1.000" stop-color="#232323"/></linearGradient><linearGradient id="r57" gradientUnits="userSpaceOnUse" x1="47.75" x2="596.75" y1="0" y2="0"><stop offset="0.000" stop-color="#232323"/><stop offset="0.033" stop-color="#404040"/><stop offset="0.049" stop-color="#4c4c4c"/><stop offset="0.066" stop-color="#545454"/><stop offset="0.082" stop-color="#585858"/><stop offset="0.115" stop-color="#5b5b5b"/><stop offset="0.180" stop-color="#5b5b5b"/><stop offset="0.279" stop-color="#585858"/><stop offset="0.328" stop-color="#5c5c5c"/><stop offset="0.361" stop-color="#636363"/><stop offset="0.443" stop-color="#818181"/><stop offset="0.475" stop-color="#868686"/><stop offset="0.492" stop-color="#858585"/><stop offset="0.508" stop-color="#828282"/><stop offset="0.557" stop-color="#717171"/><stop offset="0.574" stop-color="#6a6a6a"/><stop offset="0.607" stop-color="#616161"/><stop offset="0.639" stop-color="#5e5e5e"/><stop offset="0.721" stop-color="#606060"/><stop offset="0.754" stop-color="#5e5e5e"/><stop offset="0.852" stop-color="#4e4e4e"/><stop offset="0.934" stop-color="#474747"/><stop offset="0.951" stop-color="#424242"/><stop offset="0.967" stop-color="#3b3b3b"/><stop offset="1.000" stop-color="#242424"/></linearGradient><linearGradient id="r58" gradientUnits="userSpaceOnUse" x1="47.75" x2="596.75" y1="0" y2="0"><stop offset="0.000" stop-color="#242424"/><stop offset="0.033" stop-color="#424242"/><stop offset="0.049" stop-color="#4e4e4e"/><stop offset="0.066" stop-color="#575757"/><stop offset="0.082" stop-color="#5b5b5b"/><stop offset="0.115" stop-color="#5e5e5e"/><stop offset="0.180" stop-color="#5e5e5e"/><stop offset="0.279" stop-color="#5b5b5b"/><stop offset="0.311" stop-color="#5d5d5d"/><stop offset="0.344" stop-color="#636363"/><stop offset="0.377" stop-color="#6d6d6d"/><stop offset="0.443" stop-color="#878787"/><stop offset="0.475" stop-color="#8c8c8c"/><stop offset="0.492" stop-color="#8b8b8b"/><stop offset="0.508" stop-color="#888888"/><stop offset="0.541" stop-color="#7d7d7d"/><stop offset="0.574" stop-color="#6f6f6f"/><stop offset="0.607" stop-color="#656565"/><stop offset="0.639" stop-color="#626262"/><stop offset="0.705" stop-color="#656565"/><stop offset="0.754" stop-color="#626262"/><stop offset="0.820" stop-color="#565656"/><stop offset="0.934" stop-color="#4a4a4a"/><stop offset="0.951" stop-color="#454545"/><stop offset="0.967" stop-color="#3d3d3d"/><stop offset="1.000" stop-color="#262626"/></linearGradient><linearGradient id="r59" gradientUnits="userSpaceOnUse" x1="47.75" x2="596.75" y1="0" y2="0"><stop offset="0.000" stop-color="#252525"/><stop offset="0.033" stop-color="#444444"/><stop offset="0.049" stop-color="#515151"/><stop offset="0.066" stop-color="#595959"/><stop offset="0.082" stop-color="#5e5e5e"/><stop offset="0.115" stop-color="#616161"/><stop offset="0.180" stop-color="#616161"/><stop offset="0.295" stop-color="#5f5f5f"/><stop offset="0.328" stop-color="#636363"/><stop offset="0.361" stop-color="#6c6c6c"/><stop offset="0.426" stop-color="#878787"/><stop offset="0.459" stop-color="#909090"/><stop offset="0.475" stop-color="#929292"/><stop offset="0.492" stop-color="#919191"/><stop offset="0.508" stop-color="#8e8e8e"/><stop offset="0.525" stop-color="#898989"/><stop offset="0.590" stop-color="#6e6e6e"/><stop offset="0.623" stop-color="#676767"/><stop offset="0.656" stop-color="#666666"/><stop offset="0.705" stop-color="#696969"/><stop offset="0.770" stop-color="#636363"/><stop offset="0.820" stop-color="#595959"/><stop offset="0.918" stop-color="#4f4f4f"/><stop offset="0.934" stop-color="#4c4c4c"/><stop offset="0.951" stop-color="#474747"/><stop offset="0.967" stop-color="#3f3f3f"/><stop offset="0.984" stop-color="#343434"/><stop offset="1.000" stop-color="#272727"/></linearGradient><linearGradient id="r60" gradientUnits="userSpaceOnUse" x1="47.75" x2="596.75" y1="0" y2="0"><stop offset="0.000" stop-color="#262626"/><stop offset="0.033" stop-color="#464646"/><stop offset="0.049" stop-color="#535353"/><stop offset="0.066" stop-color="#5c5c5c"/><stop offset="0.098" stop-color="#636363"/><stop offset="0.164" stop-color="#646464"/><stop offset="0.262" stop-color="#616161"/><stop offset="0.295" stop-color="#626262"/><stop offset="0.344" stop-color="#6a6a6a"/><stop offset="0.393" stop-color="#7d7d7d"/><stop offset="0.426" stop-color="#8c8c8c"/><stop offset="0.443" stop-color="#929292"/><stop offset="0.459" stop-color="#969696"/><stop offset="0.475" stop-color="#989898"/><stop offset="0.492" stop-color="#979797"/><stop offset="0.525" stop-color="#8e8e8e"/><stop offset="0.574" stop-color="#787878"/><stop offset="0.590" stop-color="#727272"/><stop offset="0.623" stop-color="#6b6b6b"/><stop offset="0.656" stop-color="#6a6a6a"/><stop offset="0.721" stop-color="#6c6c6c"/><stop offset="0.754" stop-color="#696969"/><stop offset="0.820" stop-color="#5c5c5c"/><stop offset="0.918" stop-color="#525252"/><stop offset="0.934" stop-color="#4f4f4f"/><stop offset="0.951" stop-color="#4a4a4a"/><stop offset="0.967" stop-color="#424242"/><stop offset="1.000" stop-color="#292929"/></linearGradient><linearGradient id="r61" gradientUnits="userSpaceOnUse" x1="47.75" x2="596.75" y1="0" y2="0"><stop offset="0.000" stop-color="#272727"/><stop offset="0.033" stop-color="#484848"/><stop offset="0.049" stop-color="#555555"/><stop offset="0.066" stop-color="#5e5e5e"/><stop offset="0.082" stop-color="#636363"/><stop offset="0.115" stop-color="#666666"/><stop offset="0.180" stop-color="#666666"/><stop offset="0.279" stop-color="#646464"/><stop offset="0.311" stop-color="#676767"/><stop offset="0.344" stop-color="#6e6e6e"/><stop offset="0.361" stop-color="#737373"/><stop offset="0.426" stop-color="#919191"/><stop offset="0.443" stop-color="#979797"/><stop offset="0.459" stop-color="#9b9b9b"/><stop offset="0.475" stop-color="#9d9d9d"/><stop offset="0.492" stop-color="#9c9c9c"/><stop offset="0.508" stop-color="#999999"/><stop offset="0.541" stop-color="#8c8c8c"/><stop offset="0.590" stop-color="#767676"/><stop offset="0.607" stop-color="#717171"/><stop offset="0.623" stop-color="#6e6e6e"/><stop offset="0.656" stop-color="#6d6d6d"/><stop offset="0.721" stop-color="#707070"/><stop offset="0.738" stop-color="#6f6f6f"/><stop offset="0.803" stop-color="#636363"/><stop offset="0.820" stop-color="#5f5f5f"/><stop offset="0.852" stop-color="#5a5a5a"/><stop offset="0.918" stop-color="#555555"/><stop offset="0.934" stop-color="#525252"/><stop offset="0.951" stop-color="#4c4c4c"/><stop offset="0.967" stop-color="#444444"/><stop offset="0.984" stop-color="#383838"/><stop offset="1.000" stop-color="#2a2a2a"/></linearGradient><linearGradient id="r62" gradientUnits="userSpaceOnUse" x1="47.75" x2="596.75" y1="0" y2="0"><stop offset="0.000" stop-color="#282828"/><stop offset="0.033" stop-color="#4a4a4a"/><stop offset="0.049" stop-color="#575757"/><stop offset="0.066" stop-color="#606060"/><stop offset="0.082" stop-color="#656565"/><stop offset="0.131" stop-color="#696969"/><stop offset="0.279" stop-color="#676767"/><stop offset="0.311" stop-color="#6a6a6a"/><stop offset="0.344" stop-color="#717171"/><stop offset="0.377" stop-color="#7e7e7e"/><stop offset="0.443" stop-color="#9c9c9c"/><stop offset="0.459" stop-color="#a1a1a1"/><stop offset="0.492" stop-color="#a2a2a2"/><stop offset="0.508" stop-color="#9e9e9e"/><stop offset="0.525" stop-color="#989898"/><stop offset="0.590" stop-color="#7a7a7a"/><stop offset="0.607" stop-color="#757575"/><stop offset="0.623" stop-color="#727272"/><stop offset="0.656" stop-color="#717171"/><stop offset="0.721" stop-color="#737373"/><stop offset="0.754" stop-color="#707070"/><stop offset="0.820" stop-color="#626262"/><stop offset="0.869" stop-color="#5b5b5b"/><stop offset="0.918" stop-color="#575757"/><stop offset="0.934" stop-color="#545454"/><stop offset="0.951" stop-color="#4f4f4f"/><stop offset="0.967" stop-color="#464646"/><stop offset="0.984" stop-color="#3a3a3a"/><stop offset="1.000" stop-color="#2b2b2b"/></linearGradient><linearGradient id="r63" gradientUnits="userSpaceOnUse" x1="47.75" x2="596.75" y1="0" y2="0"><stop offset="0.000" stop-color="#292929"/><stop offset="0.033" stop-color="#4b4b4b"/><stop offset="0.049" stop-color="#595959"/><stop offset="0.066" stop-color="#626262"/><stop offset="0.082" stop-color="#676767"/><stop offset="0.098" stop-color="#6a6a6a"/><stop offset="0.148" stop-color="#6b6b6b"/><stop offset="0.262" stop-color="#696969"/><stop offset="0.311" stop-color="#6d6d6d"/><stop offset="0.344" stop-color="#747474"/><stop offset="0.377" stop-color="#818181"/><stop offset="0.426" stop-color="#9a9a9a"/><stop offset="0.443" stop-color="#a1a1a1"/><stop offset="0.475" stop-color="#a8a8a8"/><stop offset="0.492" stop-color="#a7a7a7"/><stop offset="0.508" stop-color="#a3a3a3"/><stop offset="0.525" stop-color="#9d9d9d"/><stop offset="0.590" stop-color="#7e7e7e"/><stop offset="0.607" stop-color="#787878"/><stop offset="0.623" stop-color="#757575"/><stop offset="0.656" stop-color="#747474"/><stop offset="0.705" stop-color="#777777"/><stop offset="0.754" stop-color="#737373"/><stop offset="0.836" stop-color="#626262"/><stop offset="0.918" stop-color="#5a5a5a"/><stop offset="0.934" stop-color="#575757"/><stop offset="0.951" stop-color="#515151"/><stop offset="0.967" stop-color="#484848"/><stop offset="0.984" stop-color="#3b3b3b"/><stop offset="1.000" stop-color="#2c2c2c"/></linearGradient><linearGradient id="r64" gradientUnits="userSpaceOnUse" x1="47.75" x2="596.75" y1="0" y2="0"><stop offset="0.000" stop-color="#292929"/><stop offset="0.033" stop-color="#4c4c4c"/><stop offset="0.049" stop-color="#5a5a5a"/><stop offset="0.066" stop-color="#636363"/><stop offset="0.082" stop-color="#696969"/><stop offset="0.131" stop-color="#6d6d6d"/><stop offset="0.262" stop-color="#6b6b6b"/><stop offset="0.311" stop-color="#6f6f6f"/><stop offset="0.328" stop-color="#727272"/><stop offset="0.361" stop-color="#7d7d7d"/><stop offset="0.426" stop-color="#9e9e9e"/><stop offset="0.443" stop-color="#a5a5a5"/><stop offset="0.459" stop-color="#aaaaaa"/><stop offset="0.475" stop-color="#acacac"/><stop offset="0.492" stop-color="#ababab"/><stop offset="0.508" stop-color="#a7a7a7"/><stop offset="0.525" stop-color="#a1a1a1"/><stop offset="0.574" stop-color="#888888"/><stop offset="0.590" stop-color="#818181"/><stop offset="0.623" stop-color="#787878"/><stop offset="0.656" stop-color="#777777"/><stop offset="0.705" stop-color="#7a7a7a"/><stop offset="0.754" stop-color="#767676"/><stop offset="0.852" stop-color="#626262"/><stop offset="0.918" stop-color="#5c5c5c"/><stop offset="0.934" stop-color="#595959"/><stop offset="0.951" stop-color="#535353"/><stop offset="0.967" stop-color="#4a4a4a"/><stop offset="0.984" stop-color="#3d3d3d"/><stop offset="1.000" stop-color="#2d2d2d"/></linearGradient><linearGradient id="r65" gradientUnits="userSpaceOnUse" x1="47.75" x2="596.75" y1="0" y2="0"><stop offset="0.000" stop-color="#2a2a2a"/><stop offset="0.033" stop-color="#4d4d4d"/><stop offset="0.049" stop-color="#5b5b5b"/><stop offset="0.066" stop-color="#656565"/><stop offset="0.082" stop-color="#6a6a6a"/><stop offset="0.098" stop-color="#6d6d6d"/><stop offset="0.197" stop-color="#6e6e6e"/><stop offset="0.262" stop-color="#6d6d6d"/><stop offset="0.311" stop-color="#717171"/><stop offset="0.344" stop-color="#7a7a7a"/><stop offset="0.361" stop-color="#808080"/><stop offset="0.426" stop-color="#a2a2a2"/><stop offset="0.443" stop-color="#a9a9a9"/><stop offset="0.459" stop-color="#aeaeae"/><stop offset="0.475" stop-color="#b1b1b1"/><stop offset="0.492" stop-color="#b0b0b0"/><stop offset="0.508" stop-color="#acacac"/><stop offset="0.541" stop-color="#9d9d9d"/><stop offset="0.574" stop-color="#8b8b8b"/><stop offset="0.590" stop-color="#848484"/><stop offset="0.623" stop-color="#7b7b7b"/><stop offset="0.656" stop-color="#7a7a7a"/><stop offset="0.721" stop-color="#7c7c7c"/><stop offset="0.738" stop-color="#7b7b7b"/><stop offset="0.852" stop-color="#646464"/><stop offset="0.918" stop-color="#5e5e5e"/><stop offset="0.934" stop-color="#5b5b5b"/><stop offset="0.951" stop-color="#555555"/><stop offset="0.967" stop-color="#4b4b4b"/><stop offset="0.984" stop-color="#3e3e3e"/><stop offset="1.000" stop-color="#2e2e2e"/></linearGradient><linearGradient id="r66" gradientUnits="userSpaceOnUse" x1="47.75" x2="596.75" y1="0" y2="0"><stop offset="0.000" stop-color="#2a2a2a"/><stop offset="0.016" stop-color="#3d3d3d"/><stop offset="0.033" stop-color="#4e4e4e"/><stop offset="0.049" stop-color="#5c5c5c"/><stop offset="0.066" stop-color="#666666"/><stop offset="0.082" stop-color="#6b6b6b"/><stop offset="0.098" stop-color="#6e6e6e"/><stop offset="0.262" stop-color="#6f6f6f"/><stop offset="0.295" stop-color="#717171"/><stop offset="0.328" stop-color="#777777"/><stop offset="0.344" stop-color="#7c7c7c"/><stop offset="0.393" stop-color="#939393"/><stop offset="0.426" stop-color="#a6a6a6"/><stop offset="0.443" stop-color="#adadad"/><stop offset="0.459" stop-color="#b2b2b2"/><stop offset="0.475" stop-color="#b5b5b5"/><stop offset="0.492" stop-color="#b4b4b4"/><stop offset="0.508" stop-color="#b0b0b0"/><stop offset="0.525" stop-color="#a9a9a9"/><stop offset="0.590" stop-color="#878787"/><stop offset="0.607" stop-color="#818181"/><stop offset="0.639" stop-color="#7c7c7c"/><stop offset="0.721" stop-color="#7f7f7f"/><stop offset="0.754" stop-color="#7b7b7b"/><stop offset="0.852" stop-color="#666666"/><stop offset="0.918" stop-color="#606060"/><stop offset="0.934" stop-color="#5d5d5d"/><stop offset="0.951" stop-color="#565656"/><stop offset="0.967" stop-color="#4d4d4d"/><stop offset="0.984" stop-color="#3f3f3f"/><stop offset="1.000" stop-color="#2f2f2f"/></linearGradient><linearGradient id="r67" gradientUnits="userSpaceOnUse" x1="47.75" x2="596.75" y1="0" y2="0"><stop offset="0.000" stop-color="#2a2a2a"/><stop offset="0.016" stop-color="#3d3d3d"/><stop offset="0.033" stop-color="#4e4e4e"/><stop offset="0.049" stop-color="#5d5d5d"/><stop offset="0.066" stop-color="#666666"/><stop offset="0.082" stop-color="#6c6c6c"/><stop offset="0.098" stop-color="#6f6f6f"/><stop offset="0.262" stop-color="#707070"/><stop offset="0.311" stop-color="#757575"/><stop offset="0.344" stop-color="#7e7e7e"/><stop offset="0.377" stop-color="#8d8d8d"/><stop offset="0.426" stop-color="#a9a9a9"/><stop offset="0.443" stop-color="#b1b1b1"/><stop offset="0.459" stop-color="#b6b6b6"/><stop offset="0.475" stop-color="#b8b8b8"/><stop offset="0.492" stop-color="#b7b7b7"/><stop offset="0.508" stop-color="#b3b3b3"/><stop offset="0.541" stop-color="#a4a4a4"/><stop offset="0.574" stop-color="#919191"/><stop offset="0.607" stop-color="#848484"/><stop offset="0.623" stop-color="#808080"/><stop offset="0.656" stop-color="#7f7f7f"/><stop offset="0.721" stop-color="#818181"/><stop offset="0.738" stop-color="#808080"/><stop offset="0.852" stop-color="#686868"/><stop offset="0.918" stop-color="#626262"/><stop offset="0.934" stop-color="#5e5e5e"/><stop offset="0.951" stop-color="#585858"/><stop offset="0.967" stop-color="#4e4e4e"/><stop offset="0.984" stop-color="#404040"/><stop offset="1.000" stop-color="#303030"/></linearGradient><linearGradient id="r68" gradientUnits="userSpaceOnUse" x1="47.75" x2="596.75" y1="0" y2="0"><stop offset="0.000" stop-color="#2a2a2a"/><stop offset="0.016" stop-color="#3d3d3d"/><stop offset="0.033" stop-color="#4e4e4e"/><stop offset="0.049" stop-color="#5d5d5d"/><stop offset="0.066" stop-color="#666666"/><stop offset="0.082" stop-color="#6c6c6c"/><stop offset="0.115" stop-color="#707070"/><stop offset="0.230" stop-color="#707070"/><stop offset="0.279" stop-color="#727272"/><stop offset="0.311" stop-color="#777777"/><stop offset="0.344" stop-color="#808080"/><stop offset="0.377" stop-color="#8f8f8f"/><stop offset="0.426" stop-color="#acacac"/><stop offset="0.443" stop-color="#b4b4b4"/><stop offset="0.459" stop-color="#b9b9b9"/><stop offset="0.475" stop-color="#bcbcbc"/><stop offset="0.492" stop-color="#bbbbbb"/><stop offset="0.508" stop-color="#b7b7b7"/><stop offset="0.525" stop-color="#b0b0b0"/><stop offset="0.574" stop-color="#949494"/><stop offset="0.590" stop-color="#8c8c8c"/><stop offset="0.607" stop-color="#868686"/><stop offset="0.623" stop-color="#828282"/><stop offset="0.656" stop-color="#818181"/><stop offset="0.721" stop-color="#838383"/><stop offset="0.738" stop-color="#828282"/><stop offset="0.836" stop-color="#6c6c6c"/><stop offset="0.918" stop-color="#636363"/><stop offset="0.934" stop-color="#606060"/><stop offset="0.951" stop-color="#595959"/><stop offset="0.967" stop-color="#4f4f4f"/><stop offset="0.984" stop-color="#414141"/><stop offset="1.000" stop-color="#313131"/></linearGradient><linearGradient id="r69" gradientUnits="userSpaceOnUse" x1="47.75" x2="596.75" y1="0" y2="0"><stop offset="0.000" stop-color="#2a2a2a"/><stop offset="0.033" stop-color="#4e4e4e"/><stop offset="0.049" stop-color="#5c5c5c"/><stop offset="0.066" stop-color="#666666"/><stop offset="0.082" stop-color="#6b6b6b"/><stop offset="0.098" stop-color="#6e6e6e"/><stop offset="0.262" stop-color="#717171"/><stop offset="0.311" stop-color="#777777"/><stop offset="0.344" stop-color="#818181"/><stop offset="0.377" stop-color="#919191"/><stop offset="0.443" stop-color="#b7b7b7"/><stop offset="0.459" stop-color="#bcbcbc"/><stop offset="0.475" stop-color="#bfbfbf"/><stop offset="0.492" stop-color="#bebebe"/><stop offset="0.508" stop-color="#b9b9b9"/><stop offset="0.525" stop-color="#b2b2b2"/><stop offset="0.574" stop-color="#969696"/><stop offset="0.590" stop-color="#8e8e8e"/><stop offset="0.607" stop-color="#888888"/><stop offset="0.623" stop-color="#848484"/><stop offset="0.639" stop-color="#828282"/><stop offset="0.705" stop-color="#858585"/><stop offset="0.738" stop-color="#838383"/><stop offset="0.852" stop-color="#6b6b6b"/><stop offset="0.918" stop-color="#646464"/><stop offset="0.934" stop-color="#616161"/><stop offset="0.951" stop-color="#5a5a5a"/><stop offset="0.967" stop-color="#505050"/><stop offset="0.984" stop-color="#424242"/><stop offset="1.000" stop-color="#323232"/></linearGradient><linearGradient id="r70" gradientUnits="userSpaceOnUse" x1="47.75" x2="596.75" y1="0" y2="0"><stop offset="0.000" stop-color="#2a2a2a"/><stop offset="0.033" stop-color="#4d4d4d"/><stop offset="0.049" stop-color="#5b5b5b"/><stop offset="0.066" stop-color="#656565"/><stop offset="0.082" stop-color="#6a6a6a"/><stop offset="0.098" stop-color="#6d6d6d"/><stop offset="0.279" stop-color="#727272"/><stop offset="0.328" stop-color="#7c7c7c"/><stop offset="0.361" stop-color="#898989"/><stop offset="0.426" stop-color="#b0b0b0"/><stop offset="0.443" stop-color="#b8b8b8"/><stop offset="0.459" stop-color="#bebebe"/><stop offset="0.475" stop-color="#c1c1c1"/><stop offset="0.492" stop-color="#c0c0c0"/><stop offset="0.508" stop-color="#bbbbbb"/><stop offset="0.525" stop-color="#b4b4b4"/><stop offset="0.590" stop-color="#8f8f8f"/><stop offset="0.607" stop-color="#898989"/><stop offset="0.623" stop-color="#858585"/><stop offset="0.639" stop-color="#838383"/><stop offset="0.705" stop-color="#868686"/><stop offset="0.738" stop-color="#848484"/><stop offset="0.836" stop-color="#6e6e6e"/><stop offset="0.918" stop-color="#656565"/><stop offset="0.934" stop-color="#616161"/><stop offset="0.951" stop-color="#5b5b5b"/><stop offset="0.967" stop-color="#515151"/><stop offset="1.000" stop-color="#323232"/></linearGradient><linearGradient id="r71" gradientUnits="userSpaceOnUse" x1="47.75" x2="596.75" y1="0" y2="0"><stop offset="0.000" stop-color="#292929"/><stop offset="0.033" stop-color="#4c4c4c"/><stop offset="0.049" stop-color="#5a5a5a"/><stop offset="0.066" stop-color="#636363"/><stop offset="0.082" stop-color="#696969"/><stop offset="0.131" stop-color="#6d6d6d"/><stop offset="0.262" stop-color="#707070"/><stop offset="0.311" stop-color="#777777"/><stop offset="0.344" stop-color="#828282"/><stop offset="0.361" stop-color="#898989"/><stop offset="0.426" stop-color="#b1b1b1"/><stop offset="0.443" stop-color="#bababa"/><stop offset="0.459" stop-color="#bfbfbf"/><stop offset="0.475" stop-color="#c2c2c2"/><stop offset="0.492" stop-color="#c1c1c1"/><stop offset="0.508" stop-color="#bdbdbd"/><stop offset="0.541" stop-color="#acacac"/><stop offset="0.574" stop-color="#989898"/><stop offset="0.590" stop-color="#909090"/><stop offset="0.607" stop-color="#8a8a8a"/><stop offset="0.623" stop-color="#868686"/><stop offset="0.639" stop-color="#848484"/><stop offset="0.705" stop-color="#868686"/><stop offset="0.738" stop-color="#848484"/><stop offset="0.770" stop-color="#7e7e7e"/><stop offset="0.803" stop-color="#757575"/><stop offset="0.836" stop-color="#6e6e6e"/><stop offset="0.918" stop-color="#656565"/><stop offset="0.934" stop-color="#616161"/><stop offset="0.951" stop-color="#5b5b5b"/><stop offset="0.967" stop-color="#515151"/><stop offset="1.000" stop-color="#323232"/></linearGradient><linearGradient id="r72" gradientUnits="userSpaceOnUse" x1="47.75" x2="596.75" y1="0" y2="0"><stop offset="0.000" stop-color="#282828"/><stop offset="0.033" stop-color="#4b4b4b"/><stop offset="0.049" stop-color="#585858"/><stop offset="0.066" stop-color="#616161"/><stop offset="0.082" stop-color="#676767"/><stop offset="0.131" stop-color="#6b6b6b"/><stop offset="0.279" stop-color="#707070"/><stop offset="0.311" stop-color="#767676"/><stop offset="0.344" stop-color="#818181"/><stop offset="0.377" stop-color="#929292"/><stop offset="0.426" stop-color="#b1b1b1"/><stop offset="0.443" stop-color="#bababa"/><stop offset="0.459" stop-color="#c0c0c0"/><stop offset="0.475" stop-color="#c2c2c2"/><stop offset="0.492" stop-color="#c1c1c1"/><stop offset="0.508" stop-color="#bdbdbd"/><stop offset="0.525" stop-color="#b6b6b6"/><stop offset="0.574" stop-color="#989898"/><stop offset="0.590" stop-color="#909090"/><stop offset="0.623" stop-color="#858585"/><stop offset="0.639" stop-color="#838383"/><stop offset="0.721" stop-color="#858585"/><stop offset="0.754" stop-color="#818181"/><stop offset="0.820" stop-color="#717171"/><stop offset="0.869" stop-color="#696969"/><stop offset="0.918" stop-color="#646464"/><stop offset="0.934" stop-color="#616161"/><stop offset="0.951" stop-color="#5a5a5a"/><stop offset="0.967" stop-color="#505050"/><stop offset="0.984" stop-color="#424242"/><stop offset="1.000" stop-color="#323232"/></linearGradient><linearGradient id="r73" gradientUnits="userSpaceOnUse" x1="47.75" x2="596.75" y1="0" y2="0"><stop offset="0.000" stop-color="#272727"/><stop offset="0.033" stop-color="#494949"/><stop offset="0.049" stop-color="#565656"/><stop offset="0.066" stop-color="#5f5f5f"/><stop offset="0.082" stop-color="#646464"/><stop offset="0.098" stop-color="#676767"/><stop offset="0.262" stop-color="#6d6d6d"/><stop offset="0.295" stop-color="#717171"/><stop offset="0.328" stop-color="#7a7a7a"/><stop offset="0.344" stop-color="#808080"/><stop offset="0.377" stop-color="#919191"/><stop offset="0.426" stop-color="#b0b0b0"/><stop offset="0.443" stop-color="#b9b9b9"/><stop offset="0.459" stop-color="#bfbfbf"/><stop offset="0.475" stop-color="#c2c2c2"/><stop offset="0.492" stop-color="#c1c1c1"/><stop offset="0.508" stop-color="#bcbcbc"/><stop offset="0.525" stop-color="#b5b5b5"/><stop offset="0.590" stop-color="#8f8f8f"/><stop offset="0.607" stop-color="#898989"/><stop offset="0.623" stop-color="#858585"/><stop offset="0.656" stop-color="#828282"/><stop offset="0.721" stop-color="#848484"/><stop offset="0.770" stop-color="#7c7c7c"/><stop offset="0.852" stop-color="#6a6a6a"/><stop offset="0.918" stop-color="#636363"/><stop offset="0.934" stop-color="#606060"/><stop offset="0.951" stop-color="#5a5a5a"/><stop offset="0.967" stop-color="#505050"/><stop offset="0.984" stop-color="#424242"/><stop offset="1.000" stop-color="#313131"/></linearGradient><linearGradient id="r74" gradientUnits="userSpaceOnUse" x1="47.75" x2="596.75" y1="0" y2="0"><stop offset="0.000" stop-color="#262626"/><stop offset="0.033" stop-color="#474747"/><stop offset="0.049" stop-color="#545454"/><stop offset="0.066" stop-color="#5c5c5c"/><stop offset="0.082" stop-color="#616161"/><stop offset="0.098" stop-color="#646464"/><stop offset="0.246" stop-color="#696969"/><stop offset="0.279" stop-color="#6c6c6c"/><stop offset="0.311" stop-color="#737373"/><stop offset="0.344" stop-color="#7e7e7e"/><stop offset="0.377" stop-color="#8f8f8f"/><stop offset="0.426" stop-color="#afafaf"/><stop offset="0.443" stop-color="#b7b7b7"/><stop offset="0.459" stop-color="#bdbdbd"/><stop offset="0.475" stop-color="#c0c0c0"/><stop offset="0.492" stop-color="#bfbfbf"/><stop offset="0.508" stop-color="#bbbbbb"/><stop offset="0.541" stop-color="#aaaaaa"/><stop offset="0.574" stop-color="#969696"/><stop offset="0.607" stop-color="#878787"/><stop offset="0.623" stop-color="#838383"/><stop offset="0.639" stop-color="#818181"/><stop offset="0.705" stop-color="#838383"/><stop offset="0.754" stop-color="#7e7e7e"/><stop offset="0.836" stop-color="#6b6b6b"/><stop offset="0.918" stop-color="#626262"/><stop offset="0.934" stop-color="#5f5f5f"/><stop offset="0.951" stop-color="#585858"/><stop offset="0.967" stop-color="#4e4e4e"/><stop offset="0.984" stop-color="#414141"/><stop offset="1.000" stop-color="#303030"/></linearGradient><linearGradient id="r75" gradientUnits="userSpaceOnUse" x1="47.75" x2="596.75" y1="0" y2="0"><stop offset="0.000" stop-color="#252525"/><stop offset="0.033" stop-color="#444444"/><stop offset="0.049" stop-color="#515151"/><stop offset="0.066" stop-color="#595959"/><stop offset="0.082" stop-color="#5e5e5e"/><stop offset="0.115" stop-color="#626262"/><stop offset="0.246" stop-color="#666666"/><stop offset="0.311" stop-color="#707070"/><stop offset="0.328" stop-color="#757575"/><stop offset="0.361" stop-color="#848484"/><stop offset="0.393" stop-color="#979797"/><stop offset="0.426" stop-color="#acacac"/><stop offset="0.443" stop-color="#b5b5b5"/><stop offset="0.459" stop-color="#bbbbbb"/><stop offset="0.475" stop-color="#bebebe"/><stop offset="0.492" stop-color="#bdbdbd"/><stop offset="0.508" stop-color="#b8b8b8"/><stop offset="0.525" stop-color="#b1b1b1"/><stop offset="0.574" stop-color="#949494"/><stop offset="0.607" stop-color="#858585"/><stop offset="0.623" stop-color="#818181"/><stop offset="0.639" stop-color="#7f7f7f"/><stop offset="0.721" stop-color="#808080"/><stop offset="0.754" stop-color="#7c7c7c"/><stop offset="0.820" stop-color="#6c6c6c"/><stop offset="0.885" stop-color="#636363"/><stop offset="0.918" stop-color="#606060"/><stop offset="0.934" stop-color="#5d5d5d"/><stop offset="0.951" stop-color="#575757"/><stop offset="0.967" stop-color="#4d4d4d"/><stop offset="1.000" stop-color="#303030"/></linearGradient><linearGradient id="r76" gradientUnits="userSpaceOnUse" x1="47.75" x2="596.75" y1="0" y2="0"><stop offset="0.000" stop-color="#232323"/><stop offset="0.016" stop-color="#333333"/><stop offset="0.033" stop-color="#414141"/><stop offset="0.049" stop-color="#4d4d4d"/><stop offset="0.066" stop-color="#565656"/><stop offset="0.098" stop-color="#5d5d5d"/><stop offset="0.262" stop-color="#646464"/><stop offset="0.295" stop-color="#696969"/><stop offset="0.328" stop-color="#727272"/><stop offset="0.361" stop-color="#818181"/><stop offset="0.393" stop-color="#949494"/><stop offset="0.426" stop-color="#a9a9a9"/><stop offset="0.443" stop-color="#b1b1b1"/><stop offset="0.459" stop-color="#b7b7b7"/><stop offset="0.475" stop-color="#bababa"/><stop offset="0.492" stop-color="#b9b9b9"/><stop offset="0.508" stop-color="#b5b5b5"/><stop offset="0.525" stop-color="#aeaeae"/><stop offset="0.574" stop-color="#919191"/><stop offset="0.590" stop-color="#898989"/><stop offset="0.623" stop-color="#7e7e7e"/><stop offset="0.639" stop-color="#7c7c7c"/><stop offset="0.721" stop-color="#7d7d7d"/><stop offset="0.754" stop-color="#797979"/><stop offset="0.852" stop-color="#646464"/><stop offset="0.918" stop-color="#5e5e5e"/><stop offset="0.934" stop-color="#5b5b5b"/><stop offset="0.951" stop-color="#555555"/><stop offset="0.967" stop-color="#4b4b4b"/><stop offset="0.984" stop-color="#3e3e3e"/><stop offset="1.000" stop-color="#2f2f2f"/></linearGradient><linearGradient id="r77" gradientUnits="userSpaceOnUse" x1="47.75" x2="596.75" y1="0" y2="0"><stop offset="0.000" stop-color="#222222"/><stop offset="0.033" stop-color="#3e3e3e"/><stop offset="0.049" stop-color="#4a4a4a"/><stop offset="0.066" stop-color="#525252"/><stop offset="0.082" stop-color="#565656"/><stop offset="0.131" stop-color="#5a5a5a"/><stop offset="0.246" stop-color="#5f5f5f"/><stop offset="0.295" stop-color="#666666"/><stop offset="0.328" stop-color="#6f6f6f"/><stop offset="0.344" stop-color="#757575"/><stop offset="0.377" stop-color="#868686"/><stop offset="0.426" stop-color="#a5a5a5"/><stop offset="0.443" stop-color="#adadad"/><stop offset="0.459" stop-color="#b3b3b3"/><stop offset="0.475" stop-color="#b6b6b6"/><stop offset="0.492" stop-color="#b5b5b5"/><stop offset="0.508" stop-color="#b1b1b1"/><stop offset="0.525" stop-color="#aaaaaa"/><stop offset="0.590" stop-color="#858585"/><stop offset="0.607" stop-color="#7f7f7f"/><stop offset="0.623" stop-color="#7b7b7b"/><stop offset="0.639" stop-color="#797979"/><stop offset="0.705" stop-color="#7a7a7a"/><stop offset="0.738" stop-color="#787878"/><stop offset="0.836" stop-color="#646464"/><stop offset="0.918" stop-color="#5b5b5b"/><stop offset="0.934" stop-color="#585858"/><stop offset="0.951" stop-color="#525252"/><stop offset="0.967" stop-color="#494949"/><stop offset="0.984" stop-color="#3c3c3c"/><stop offset="1.000" stop-color="#2d2d2d"/></linearGradient><linearGradient id="r78" gradientUnits="userSpaceOnUse" x1="47.75" x2="596.75" y1="0" y2="0"><stop offset="0.000" stop-color="#202020"/><stop offset="0.033" stop-color="#3b3b3b"/><stop offset="0.049" stop-color="#464646"/><stop offset="0.066" stop-color="#4d4d4d"/><stop offset="0.082" stop-color="#515151"/><stop offset="0.131" stop-color="#555555"/><stop offset="0.230" stop-color="#595959"/><stop offset="0.262" stop-color="#5c5c5c"/><stop offset="0.311" stop-color="#666666"/><stop offset="0.344" stop-color="#717171"/><stop offset="0.377" stop-color="#828282"/><stop offset="0.426" stop-color="#a0a0a0"/><stop offset="0.443" stop-color="#a8a8a8"/><stop offset="0.459" stop-color="#aeaeae"/><stop offset="0.475" stop-color="#b1b1b1"/><stop offset="0.492" stop-color="#b0b0b0"/><stop offset="0.508" stop-color="#acacac"/><stop offset="0.525" stop-color="#a5a5a5"/><stop offset="0.590" stop-color="#828282"/><stop offset="0.607" stop-color="#7b7b7b"/><stop offset="0.623" stop-color="#777777"/><stop offset="0.639" stop-color="#757575"/><stop offset="0.705" stop-color="#767676"/><stop offset="0.738" stop-color="#747474"/><stop offset="0.852" stop-color="#5e5e5e"/><stop offset="0.918" stop-color="#585858"/><stop offset="0.934" stop-color="#555555"/><stop offset="0.951" stop-color="#505050"/><stop offset="0.967" stop-color="#474747"/><stop offset="1.000" stop-color="#2c2c2c"/></linearGradient><linearGradient id="r79" gradientUnits="userSpaceOnUse" x1="47.75" x2="596.75" y1="0" y2="0"><stop offset="0.000" stop-color="#1e1e1e"/><stop offset="0.033" stop-color="#373737"/><stop offset="0.049" stop-color="#414141"/><stop offset="0.066" stop-color="#484848"/><stop offset="0.082" stop-color="#4c4c4c"/><stop offset="0.131" stop-color="#505050"/><stop offset="0.230" stop-color="#545454"/><stop offset="0.295" stop-color="#5d5d5d"/><stop offset="0.328" stop-color="#666666"/><stop offset="0.361" stop-color="#747474"/><stop offset="0.426" stop-color="#9b9b9b"/><stop offset="0.443" stop-color="#a3a3a3"/><stop offset="0.459" stop-color="#a9a9a9"/><stop offset="0.475" stop-color="#ababab"/><stop offset="0.492" stop-color="#ababab"/><stop offset="0.508" stop-color="#a7a7a7"/><stop offset="0.525" stop-color="#a0a0a0"/><stop offset="0.590" stop-color="#7d7d7d"/><stop offset="0.607" stop-color="#777777"/><stop offset="0.623" stop-color="#737373"/><stop offset="0.656" stop-color="#707070"/><stop offset="0.721" stop-color="#717171"/><stop offset="0.770" stop-color="#6a6a6a"/><stop offset="0.836" stop-color="#5d5d5d"/><stop offset="0.918" stop-color="#555555"/><stop offset="0.934" stop-color="#525252"/><stop offset="0.951" stop-color="#4d4d4d"/><stop offset="0.967" stop-color="#444444"/><stop offset="0.984" stop-color="#383838"/><stop offset="1.000" stop-color="#2a2a2a"/></linearGradient><linearGradient id="r80" gradientUnits="userSpaceOnUse" x1="47.75" x2="596.75" y1="0" y2="0"><stop offset="0.000" stop-color="#1b1b1b"/><stop offset="0.033" stop-color="#333333"/><stop offset="0.049" stop-color="#3c3c3c"/><stop offset="0.066" stop-color="#434343"/><stop offset="0.098" stop-color="#484848"/><stop offset="0.213" stop-color="#4d4d4d"/><stop offset="0.262" stop-color="#525252"/><stop offset="0.311" stop-color="#5c5c5c"/><stop offset="0.344" stop-color="#676767"/><stop offset="0.393" stop-color="#818181"/><stop offset="0.426" stop-color="#959595"/><stop offset="0.443" stop-color="#9d9d9d"/><stop offset="0.459" stop-color="#a2a2a2"/><stop offset="0.475" stop-color="#a5a5a5"/><stop offset="0.492" stop-color="#a4a4a4"/><stop offset="0.508" stop-color="#a0a0a0"/><stop offset="0.525" stop-color="#9a9a9a"/><stop offset="0.590" stop-color="#787878"/><stop offset="0.607" stop-color="#727272"/><stop offset="0.623" stop-color="#6e6e6e"/><stop offset="0.639" stop-color="#6c6c6c"/><stop offset="0.721" stop-color="#6c6c6c"/><stop offset="0.787" stop-color="#626262"/><stop offset="0.820" stop-color="#5b5b5b"/><stop offset="0.918" stop-color="#515151"/><stop offset="0.934" stop-color="#4e4e4e"/><stop offset="0.951" stop-color="#494949"/><stop offset="0.967" stop-color="#414141"/><stop offset="1.000" stop-color="#282828"/></linearGradient><linearGradient id="r81" gradientUnits="userSpaceOnUse" x1="47.75" x2="596.75" y1="0" y2="0"><stop offset="0.000" stop-color="#191919"/><stop offset="0.033" stop-color="#2f2f2f"/><stop offset="0.049" stop-color="#373737"/><stop offset="0.066" stop-color="#3d3d3d"/><stop offset="0.098" stop-color="#424242"/><stop offset="0.213" stop-color="#474747"/><stop offset="0.246" stop-color="#4a4a4a"/><stop offset="0.295" stop-color="#525252"/><stop offset="0.344" stop-color="#626262"/><stop offset="0.361" stop-color="#696969"/><stop offset="0.426" stop-color="#8e8e8e"/><stop offset="0.459" stop-color="#9b9b9b"/><stop offset="0.475" stop-color="#9e9e9e"/><stop offset="0.492" stop-color="#9d9d9d"/><stop offset="0.508" stop-color="#999999"/><stop offset="0.525" stop-color="#939393"/><stop offset="0.590" stop-color="#727272"/><stop offset="0.623" stop-color="#696969"/><stop offset="0.656" stop-color="#666666"/><stop offset="0.705" stop-color="#676767"/><stop offset="0.754" stop-color="#636363"/><stop offset="0.820" stop-color="#565656"/><stop offset="0.918" stop-color="#4d4d4d"/><stop offset="0.934" stop-color="#4a4a4a"/><stop offset="0.951" stop-color="#454545"/><stop offset="0.967" stop-color="#3d3d3d"/><stop offset="0.984" stop-color="#333333"/><stop offset="1.000" stop-color="#262626"/></linearGradient><linearGradient id="r82" gradientUnits="userSpaceOnUse" x1="47.75" x2="596.75" y1="0" y2="0"><stop offset="0.000" stop-color="#171717"/><stop offset="0.033" stop-color="#2a2a2a"/><stop offset="0.049" stop-color="#323232"/><stop offset="0.066" stop-color="#373737"/><stop offset="0.098" stop-color="#3c3c3c"/><stop offset="0.230" stop-color="#424242"/><stop offset="0.295" stop-color="#4c4c4c"/><stop offset="0.328" stop-color="#555555"/><stop offset="0.344" stop-color="#5b5b5b"/><stop offset="0.426" stop-color="#868686"/><stop offset="0.459" stop-color="#939393"/><stop offset="0.475" stop-color="#959595"/><stop offset="0.492" stop-color="#959595"/><stop offset="0.508" stop-color="#919191"/><stop offset="0.525" stop-color="#8b8b8b"/><stop offset="0.590" stop-color="#6c6c6c"/><stop offset="0.607" stop-color="#666666"/><stop offset="0.639" stop-color="#616161"/><stop offset="0.738" stop-color="#5f5f5f"/><stop offset="0.869" stop-color="#4b4b4b"/><stop offset="0.918" stop-color="#484848"/><stop offset="0.951" stop-color="#414141"/><stop offset="0.967" stop-color="#393939"/><stop offset="1.000" stop-color="#242424"/></linearGradient><linearGradient id="r83" gradientUnits="userSpaceOnUse" x1="47.75" x2="596.75" y1="0" y2="0"><stop offset="0.000" stop-color="#141414"/><stop offset="0.033" stop-color="#262626"/><stop offset="0.049" stop-color="#2d2d2d"/><stop offset="0.082" stop-color="#343434"/><stop offset="0.098" stop-color="#363636"/><stop offset="0.230" stop-color="#3c3c3c"/><stop offset="0.295" stop-color="#464646"/><stop offset="0.344" stop-color="#545454"/><stop offset="0.377" stop-color="#636363"/><stop offset="0.443" stop-color="#858585"/><stop offset="0.459" stop-color="#8a8a8a"/><stop offset="0.475" stop-color="#8c8c8c"/><stop offset="0.492" stop-color="#8c8c8c"/><stop offset="0.525" stop-color="#838383"/><stop offset="0.590" stop-color="#656565"/><stop offset="0.623" stop-color="#5c5c5c"/><stop offset="0.656" stop-color="#595959"/><stop offset="0.721" stop-color="#595959"/><stop offset="0.754" stop-color="#565656"/><stop offset="0.852" stop-color="#474747"/><stop offset="0.918" stop-color="#434343"/><stop offset="0.951" stop-color="#3c3c3c"/><stop offset="0.967" stop-color="#353535"/><stop offset="0.984" stop-color="#2c2c2c"/><stop offset="1.000" stop-color="#212121"/></linearGradient><linearGradient id="r84" gradientUnits="userSpaceOnUse" x1="47.75" x2="596.75" y1="0" y2="0"><stop offset="0.000" stop-color="#121212"/><stop offset="0.033" stop-color="#222222"/><stop offset="0.049" stop-color="#282828"/><stop offset="0.066" stop-color="#2c2c2c"/><stop offset="0.098" stop-color="#303030"/><stop offset="0.197" stop-color="#333333"/><stop offset="0.279" stop-color="#3c3c3c"/><stop offset="0.311" stop-color="#434343"/><stop offset="0.344" stop-color="#4d4d4d"/><stop offset="0.377" stop-color="#5b5b5b"/><stop offset="0.426" stop-color="#747474"/><stop offset="0.443" stop-color="#7b7b7b"/><stop offset="0.459" stop-color="#808080"/><stop offset="0.475" stop-color="#828282"/><stop offset="0.492" stop-color="#828282"/><stop offset="0.508" stop-color="#7f7f7f"/><stop offset="0.557" stop-color="#6b6b6b"/><stop offset="0.574" stop-color="#636363"/><stop offset="0.607" stop-color="#585858"/><stop offset="0.639" stop-color="#535353"/><stop offset="0.721" stop-color="#525252"/><stop offset="0.754" stop-color="#4f4f4f"/><stop offset="0.852" stop-color="#414141"/><stop offset="0.918" stop-color="#3d3d3d"/><stop offset="0.934" stop-color="#3b3b3b"/><stop offset="0.951" stop-color="#373737"/><stop offset="0.967" stop-color="#313131"/><stop offset="1.000" stop-color="#1e1e1e"/></linearGradient><linearGradient id="r85" gradientUnits="userSpaceOnUse" x1="47.75" x2="596.75" y1="0" y2="0"><stop offset="0.000" stop-color="#101010"/><stop offset="0.033" stop-color="#1e1e1e"/><stop offset="0.066" stop-color="#272727"/><stop offset="0.115" stop-color="#2b2b2b"/><stop offset="0.230" stop-color="#303030"/><stop offset="0.311" stop-color="#3c3c3c"/><stop offset="0.361" stop-color="#4c4c4c"/><stop offset="0.443" stop-color="#717171"/><stop offset="0.459" stop-color="#757575"/><stop offset="0.475" stop-color="#777777"/><stop offset="0.492" stop-color="#777777"/><stop offset="0.508" stop-color="#747474"/><stop offset="0.541" stop-color="#696969"/><stop offset="0.590" stop-color="#555555"/><stop offset="0.623" stop-color="#4d4d4d"/><stop offset="0.738" stop-color="#494949"/><stop offset="0.803" stop-color="#414141"/><stop offset="0.820" stop-color="#3e3e3e"/><stop offset="0.934" stop-color="#353535"/><stop offset="0.951" stop-color="#323232"/><stop offset="0.967" stop-color="#2c2c2c"/><stop offset="1.000" stop-color="#1b1b1b"/></linearGradient><linearGradient id="r86" gradientUnits="userSpaceOnUse" x1="47.75" x2="596.75" y1="0" y2="0"><stop offset="0.000" stop-color="#0e0e0e"/><stop offset="0.033" stop-color="#1a1a1a"/><stop offset="0.066" stop-color="#222222"/><stop offset="0.098" stop-color="#252525"/><stop offset="0.230" stop-color="#2a2a2a"/><stop offset="0.311" stop-color="#363636"/><stop offset="0.361" stop-color="#444444"/><stop offset="0.426" stop-color="#606060"/><stop offset="0.443" stop-color="#666666"/><stop offset="0.475" stop-color="#6d6d6d"/><stop offset="0.508" stop-color="#6a6a6a"/><stop offset="0.557" stop-color="#595959"/><stop offset="0.574" stop-color="#525252"/><stop offset="0.607" stop-color="#494949"/><stop offset="0.639" stop-color="#444444"/><stop offset="0.738" stop-color="#424242"/><stop offset="0.836" stop-color="#363636"/><stop offset="0.918" stop-color="#323232"/><stop offset="0.951" stop-color="#2d2d2d"/><stop offset="0.967" stop-color="#282828"/><stop offset="1.000" stop-color="#191919"/></linearGradient><linearGradient id="r87" gradientUnits="userSpaceOnUse" x1="47.75" x2="596.75" y1="0" y2="0"><stop offset="0.000" stop-color="#0c0c0c"/><stop offset="0.049" stop-color="#1a1a1a"/><stop offset="0.066" stop-color="#1d1d1d"/><stop offset="0.213" stop-color="#232323"/><stop offset="0.295" stop-color="#2c2c2c"/><stop offset="0.328" stop-color="#333333"/><stop offset="0.393" stop-color="#494949"/><stop offset="0.443" stop-color="#5c5c5c"/><stop offset="0.459" stop-color="#606060"/><stop offset="0.475" stop-color="#626262"/><stop offset="0.508" stop-color="#5f5f5f"/><stop offset="0.525" stop-color="#5b5b5b"/><stop offset="0.590" stop-color="#454545"/><stop offset="0.607" stop-color="#414141"/><stop offset="0.656" stop-color="#3c3c3c"/><stop offset="0.754" stop-color="#393939"/><stop offset="0.869" stop-color="#2e2e2e"/><stop offset="0.934" stop-color="#2b2b2b"/><stop offset="0.951" stop-color="#282828"/><stop offset="0.984" stop-color="#1d1d1d"/><stop offset="1.000" stop-color="#161616"/></linearGradient><linearGradient id="r88" gradientUnits="userSpaceOnUse" x1="47.75" x2="596.75" y1="0" y2="0"><stop offset="0.000" stop-color="#0a0a0a"/><stop offset="0.033" stop-color="#131313"/><stop offset="0.082" stop-color="#1a1a1a"/><stop offset="0.230" stop-color="#1f1f1f"/><stop offset="0.279" stop-color="#242424"/><stop offset="0.344" stop-color="#313131"/><stop offset="0.443" stop-color="#525252"/><stop offset="0.475" stop-color="#575757"/><stop offset="0.492" stop-color="#575757"/><stop offset="0.508" stop-color="#555555"/><stop offset="0.590" stop-color="#3d3d3d"/><stop offset="0.623" stop-color="#373737"/><stop offset="0.738" stop-color="#343434"/><stop offset="0.885" stop-color="#282828"/><stop offset="0.934" stop-color="#262626"/><stop offset="0.967" stop-color="#1f1f1f"/><stop offset="0.984" stop-color="#1a1a1a"/><stop offset="1.000" stop-color="#131313"/></linearGradient><linearGradient id="r89" gradientUnits="userSpaceOnUse" x1="47.75" x2="596.75" y1="0" y2="0"><stop offset="0.000" stop-color="#080808"/><stop offset="0.033" stop-color="#101010"/><stop offset="0.082" stop-color="#161616"/><stop offset="0.230" stop-color="#1a1a1a"/><stop offset="0.295" stop-color="#212121"/><stop offset="0.361" stop-color="#2f2f2f"/><stop offset="0.426" stop-color="#444444"/><stop offset="0.459" stop-color="#4b4b4b"/><stop offset="0.475" stop-color="#4d4d4d"/><stop offset="0.492" stop-color="#4d4d4d"/><stop offset="0.508" stop-color="#4b4b4b"/><stop offset="0.590" stop-color="#363636"/><stop offset="0.639" stop-color="#2f2f2f"/><stop offset="0.770" stop-color="#2b2b2b"/><stop offset="0.852" stop-color="#242424"/><stop offset="0.934" stop-color="#212121"/><stop offset="0.951" stop-color="#1f1f1f"/><stop offset="1.000" stop-color="#111111"/></linearGradient><linearGradient id="r90" gradientUnits="userSpaceOnUse" x1="47.75" x2="596.75" y1="0" y2="0"><stop offset="0.000" stop-color="#070707"/><stop offset="0.066" stop-color="#111111"/><stop offset="0.246" stop-color="#171717"/><stop offset="0.311" stop-color="#1e1e1e"/><stop offset="0.361" stop-color="#282828"/><stop offset="0.443" stop-color="#3f3f3f"/><stop offset="0.459" stop-color="#424242"/><stop offset="0.492" stop-color="#434343"/><stop offset="0.525" stop-color="#3e3e3e"/><stop offset="0.607" stop-color="#2c2c2c"/><stop offset="0.656" stop-color="#282828"/><stop offset="0.770" stop-color="#252525"/><stop offset="0.852" stop-color="#1f1f1f"/><stop offset="0.934" stop-color="#1c1c1c"/><stop offset="0.967" stop-color="#171717"/><stop offset="1.000" stop-color="#0e0e0e"/></linearGradient><linearGradient id="r91" gradientUnits="userSpaceOnUse" x1="47.75" x2="596.75" y1="0" y2="0"><stop offset="0.000" stop-color="#060606"/><stop offset="0.049" stop-color="#0d0d0d"/><stop offset="0.246" stop-color="#131313"/><stop offset="0.328" stop-color="#1c1c1c"/><stop offset="0.443" stop-color="#363636"/><stop offset="0.475" stop-color="#3a3a3a"/><stop offset="0.492" stop-color="#3a3a3a"/><stop offset="0.525" stop-color="#363636"/><stop offset="0.590" stop-color="#282828"/><stop offset="0.656" stop-color="#222222"/><stop offset="0.934" stop-color="#181818"/><stop offset="0.967" stop-color="#141414"/><stop offset="1.000" stop-color="#0c0c0c"/></linearGradient><linearGradient id="r92" gradientUnits="userSpaceOnUse" x1="47.75" x2="596.75" y1="0" y2="0"><stop offset="0.000" stop-color="#050505"/><stop offset="0.082" stop-color="#0d0d0d"/><stop offset="0.279" stop-color="#121212"/><stop offset="0.328" stop-color="#171717"/><stop offset="0.443" stop-color="#2e2e2e"/><stop offset="0.475" stop-color="#313131"/><stop offset="0.508" stop-color="#303030"/><stop offset="0.623" stop-color="#1e1e1e"/><stop offset="0.951" stop-color="#131313"/><stop offset="0.984" stop-color="#0e0e0e"/><stop offset="1.000" stop-color="#0a0a0a"/></linearGradient><linearGradient id="r93" gradientUnits="userSpaceOnUse" x1="47.75" x2="596.75" y1="0" y2="0"><stop offset="0.000" stop-color="#040404"/><stop offset="0.082" stop-color="#0b0b0b"/><stop offset="0.279" stop-color="#0f0f0f"/><stop offset="0.361" stop-color="#181818"/><stop offset="0.426" stop-color="#242424"/><stop offset="0.475" stop-color="#292929"/><stop offset="0.508" stop-color="#282828"/><stop offset="0.590" stop-color="#1c1c1c"/><stop offset="0.623" stop-color="#191919"/><stop offset="0.951" stop-color="#101010"/><stop offset="1.000" stop-color="#090909"/></linearGradient><linearGradient id="r94" gradientUnits="userSpaceOnUse" x1="47.75" x2="596.75" y1="0" y2="0"><stop offset="0.000" stop-color="#040404"/><stop offset="0.066" stop-color="#090909"/><stop offset="0.197" stop-color="#0a0a0a"/><stop offset="0.328" stop-color="#101010"/><stop offset="0.459" stop-color="#222222"/><stop offset="0.475" stop-color="#232323"/><stop offset="0.508" stop-color="#222222"/><stop offset="0.607" stop-color="#161616"/><stop offset="0.967" stop-color="#0c0c0c"/><stop offset="1.000" stop-color="#070707"/></linearGradient><linearGradient id="r95" gradientUnits="userSpaceOnUse" x1="47.75" x2="596.75" y1="0" y2="0"><stop offset="0.000" stop-color="#030303"/><stop offset="0.049" stop-color="#070707"/><stop offset="0.344" stop-color="#0f0f0f"/><stop offset="0.443" stop-color="#1b1b1b"/><stop offset="0.492" stop-color="#1d1d1d"/><stop offset="0.639" stop-color="#111111"/><stop offset="0.721" stop-color="#111111"/><stop offset="0.967" stop-color="#0a0a0a"/><stop offset="1.000" stop-color="#060606"/></linearGradient><linearGradient id="r96" gradientUnits="userSpaceOnUse" x1="47.75" x2="596.75" y1="0" y2="0"><stop offset="0.000" stop-color="#030303"/><stop offset="0.361" stop-color="#0e0e0e"/><stop offset="0.459" stop-color="#181818"/><stop offset="0.525" stop-color="#171717"/><stop offset="0.623" stop-color="#0f0f0f"/><stop offset="0.984" stop-color="#070707"/><stop offset="1.000" stop-color="#050505"/></linearGradient><linearGradient id="r97" gradientUnits="userSpaceOnUse" x1="47.75" x2="596.75" y1="0" y2="0"><stop offset="0.000" stop-color="#020202"/><stop offset="0.361" stop-color="#0c0c0c"/><stop offset="0.475" stop-color="#151515"/><stop offset="0.557" stop-color="#111111"/><stop offset="0.607" stop-color="#0d0d0d"/><stop offset="0.738" stop-color="#0c0c0c"/><stop offset="0.984" stop-color="#060606"/><stop offset="1.000" stop-color="#040404"/></linearGradient><linearGradient id="r98" gradientUnits="userSpaceOnUse" x1="47.75" x2="596.75" y1="0" y2="0"><stop offset="0.000" stop-color="#020202"/><stop offset="0.377" stop-color="#0b0b0b"/><stop offset="0.459" stop-color="#111111"/><stop offset="1.000" stop-color="#040404"/></linearGradient><linearGradient id="r99" gradientUnits="userSpaceOnUse" x1="47.75" x2="596.75" y1="0" y2="0"><stop offset="0.000" stop-color="#010101"/><stop offset="0.492" stop-color="#0f0f0f"/><stop offset="1.000" stop-color="#030303"/></linearGradient><linearGradient id="r100" gradientUnits="userSpaceOnUse" x1="47.75" x2="596.75" y1="0" y2="0"><stop offset="0.000" stop-color="#010101"/><stop offset="0.213" stop-color="#030303"/><stop offset="0.508" stop-color="#0c0c0c"/><stop offset="1.000" stop-color="#030303"/></linearGradient><linearGradient id="r101" gradientUnits="userSpaceOnUse" x1="47.75" x2="596.75" y1="0" y2="0"><stop offset="0.000" stop-color="#010101"/><stop offset="0.262" stop-color="#030303"/><stop offset="0.508" stop-color="#0a0a0a"/><stop offset="1.000" stop-color="#020202"/></linearGradient><linearGradient id="r102" gradientUnits="userSpaceOnUse" x1="47.75" x2="596.75" y1="0" y2="0"><stop offset="0.000" stop-color="#010101"/><stop offset="0.213" stop-color="#020202"/><stop offset="0.525" stop-color="#080808"/><stop offset="0.869" stop-color="#040404"/><stop offset="1.000" stop-color="#020202"/></linearGradient><linearGradient id="r103" gradientUnits="userSpaceOnUse" x1="47.75" x2="596.75" y1="0" y2="0"><stop offset="0.000" stop-color="#010101"/><stop offset="0.262" stop-color="#020202"/><stop offset="0.508" stop-color="#070707"/><stop offset="0.951" stop-color="#030303"/><stop offset="1.000" stop-color="#010101"/></linearGradient><linearGradient id="r104" gradientUnits="userSpaceOnUse" x1="47.75" x2="596.75" y1="0" y2="0"><stop offset="0.000" stop-color="#010101"/><stop offset="0.311" stop-color="#020202"/><stop offset="0.492" stop-color="#060606"/><stop offset="0.852" stop-color="#030303"/><stop offset="0.984" stop-color="#020202"/><stop offset="1.000" stop-color="#010101"/></linearGradient><linearGradient id="r105" gradientUnits="userSpaceOnUse" x1="47.75" x2="596.75" y1="0" y2="0"><stop offset="0.000" stop-color="#010101"/><stop offset="0.328" stop-color="#020202"/><stop offset="0.508" stop-color="#050505"/><stop offset="0.770" stop-color="#030303"/><stop offset="0.967" stop-color="#020202"/><stop offset="1.000" stop-color="#010101"/></linearGradient><linearGradient id="r106" gradientUnits="userSpaceOnUse" x1="47.75" x2="596.75" y1="0" y2="0"><stop offset="0.000" stop-color="#010101"/><stop offset="0.066" stop-color="#010101"/><stop offset="0.344" stop-color="#020202"/><stop offset="0.541" stop-color="#040404"/><stop offset="0.951" stop-color="#020202"/><stop offset="1.000" stop-color="#010101"/></linearGradient><linearGradient id="r107" gradientUnits="userSpaceOnUse" x1="47.75" x2="596.75" y1="0" y2="0"><stop offset="0.000" stop-color="#010101"/><stop offset="0.098" stop-color="#010101"/><stop offset="0.377" stop-color="#020202"/><stop offset="0.492" stop-color="#040404"/><stop offset="0.951" stop-color="#020202"/><stop offset="1.000" stop-color="#010101"/></linearGradient><linearGradient id="r108" gradientUnits="userSpaceOnUse" x1="47.75" x2="596.75" y1="0" y2="0"><stop offset="0.000" stop-color="#010101"/><stop offset="0.213" stop-color="#010101"/><stop offset="0.377" stop-color="#020202"/><stop offset="0.557" stop-color="#030303"/><stop offset="0.918" stop-color="#020202"/><stop offset="1.000" stop-color="#010101"/></linearGradient><linearGradient id="r109" gradientUnits="userSpaceOnUse" x1="47.75" x2="596.75" y1="0" y2="0"><stop offset="0.000" stop-color="#010101"/><stop offset="0.262" stop-color="#010101"/><stop offset="0.393" stop-color="#020202"/><stop offset="0.541" stop-color="#030303"/><stop offset="0.869" stop-color="#020202"/><stop offset="1.000" stop-color="#010101"/></linearGradient><linearGradient id="r110" gradientUnits="userSpaceOnUse" x1="47.75" x2="596.75" y1="0" y2="0"><stop offset="0.000" stop-color="#000000"/><stop offset="0.295" stop-color="#010101"/><stop offset="0.525" stop-color="#030303"/><stop offset="0.820" stop-color="#020202"/><stop offset="1.000" stop-color="#010101"/></linearGradient><linearGradient id="r111" gradientUnits="userSpaceOnUse" x1="47.75" x2="596.75" y1="0" y2="0"><stop offset="0.000" stop-color="#000000"/><stop offset="0.311" stop-color="#010101"/><stop offset="0.508" stop-color="#030303"/><stop offset="0.803" stop-color="#020202"/><stop offset="1.000" stop-color="#010101"/></linearGradient><linearGradient id="r112" gradientUnits="userSpaceOnUse" x1="47.75" x2="596.75" y1="0" y2="0"><stop offset="0.000" stop-color="#000000"/><stop offset="0.328" stop-color="#010101"/><stop offset="0.459" stop-color="#020202"/><stop offset="0.492" stop-color="#030303"/><stop offset="0.770" stop-color="#020202"/><stop offset="1.000" stop-color="#010101"/></linearGradient><linearGradient id="r113" gradientUnits="userSpaceOnUse" x1="47.75" x2="596.75" y1="0" y2="0"><stop offset="0.000" stop-color="#000000"/><stop offset="0.344" stop-color="#010101"/><stop offset="0.754" stop-color="#020202"/><stop offset="1.000" stop-color="#010101"/></linearGradient><linearGradient id="r114" gradientUnits="userSpaceOnUse" x1="47.75" x2="596.75" y1="0" y2="0"><stop offset="0.000" stop-color="#000000"/><stop offset="0.361" stop-color="#010101"/><stop offset="0.607" stop-color="#020202"/><stop offset="1.000" stop-color="#010101"/></linearGradient><linearGradient id="r115" gradientUnits="userSpaceOnUse" x1="47.75" x2="596.75" y1="0" y2="0"><stop offset="0.000" stop-color="#000000"/><stop offset="0.377" stop-color="#010101"/><stop offset="0.590" stop-color="#020202"/><stop offset="0.984" stop-color="#010101"/><stop offset="1.000" stop-color="#000000"/></linearGradient><linearGradient id="r116" gradientUnits="userSpaceOnUse" x1="47.75" x2="596.75" y1="0" y2="0"><stop offset="0.000" stop-color="#000000"/><stop offset="0.180" stop-color="#000000"/><stop offset="0.393" stop-color="#010101"/><stop offset="0.557" stop-color="#020202"/><stop offset="0.984" stop-color="#010101"/><stop offset="1.000" stop-color="#000000"/></linearGradient><linearGradient id="r117" gradientUnits="userSpaceOnUse" x1="47.75" x2="596.75" y1="0" y2="0"><stop offset="0.000" stop-color="#000000"/><stop offset="0.246" stop-color="#000000"/><stop offset="0.426" stop-color="#010101"/><stop offset="0.525" stop-color="#020202"/><stop offset="0.967" stop-color="#010101"/><stop offset="1.000" stop-color="#000000"/></linearGradient><linearGradient id="r118" gradientUnits="userSpaceOnUse" x1="47.75" x2="596.75" y1="0" y2="0"><stop offset="0.000" stop-color="#000000"/><stop offset="0.295" stop-color="#000000"/><stop offset="0.934" stop-color="#010101"/><stop offset="1.000" stop-color="#000000"/></linearGradient><linearGradient id="r119" gradientUnits="userSpaceOnUse" x1="47.75" x2="596.75" y1="0" y2="0"><stop offset="0.000" stop-color="#000000"/><stop offset="0.328" stop-color="#000000"/><stop offset="0.787" stop-color="#010101"/><stop offset="1.000" stop-color="#000000"/></linearGradient><linearGradient id="r120" gradientUnits="userSpaceOnUse" x1="47.75" x2="596.75" y1="0" y2="0"><stop offset="0.000" stop-color="#000000"/><stop offset="0.377" stop-color="#000000"/><stop offset="0.607" stop-color="#010101"/><stop offset="1.000" stop-color="#000000"/></linearGradient><linearGradient id="r121" gradientUnits="userSpaceOnUse" x1="47.75" x2="596.75" y1="0" y2="0"><stop offset="0.000" stop-color="#000000"/><stop offset="0.410" stop-color="#000000"/><stop offset="0.541" stop-color="#010101"/><stop offset="1.000" stop-color="#000000"/></linearGradient><linearGradient id="r122" gradientUnits="userSpaceOnUse" x1="47.75" x2="596.75" y1="0" y2="0"><stop offset="0.000" stop-color="#000000"/><stop offset="1.000" stop-color="#000000"/></linearGradient><linearGradient id="r123" gradientUnits="userSpaceOnUse" x1="47.75" x2="596.75" y1="0" y2="0"><stop offset="0.000" stop-color="#000000"/><stop offset="1.000" stop-color="#000000"/></linearGradient><linearGradient id="r124" gradientUnits="userSpaceOnUse" x1="47.75" x2="596.75" y1="0" y2="0"><stop offset="0.000" stop-color="#000000"/><stop offset="1.000" stop-color="#000000"/></linearGradient><linearGradient id="r125" gradientUnits="userSpaceOnUse" x1="47.75" x2="596.75" y1="0" y2="0"><stop offset="0.000" stop-color="#000000"/><stop offset="1.000" stop-color="#000000"/></linearGradient><linearGradient id="r126" gradientUnits="userSpaceOnUse" x1="47.75" x2="596.75" y1="0" y2="0"><stop offset="0.000" stop-color="#000000"/><stop offset="1.000" stop-color="#000000"/></linearGradient><linearGradient id="r127" gradientUnits="userSpaceOnUse" x1="47.75" x2="596.75" y1="0" y2="0"><stop offset="0.000" stop-color="#000000"/><stop offset="1.000" stop-color="#000000"/></linearGradient><linearGradient id="r128" gradientUnits="userSpaceOnUse" x1="47.75" x2="596.75" y1="0" y2="0"><stop offset="0.000" stop-color="#000000"/><stop offset="1.000" stop-color="#000000"/></linearGradient><linearGradient id="r129" gradientUnits="userSpaceOnUse" x1="47.75" x2="596.75" y1="0" y2="0"><stop offset="0.000" stop-color="#000000"/><stop offset="1.000" stop-color="#000000"/></linearGradient><linearGradient id="r130" gradientUnits="userSpaceOnUse" x1="47.75" x2="596.75" y1="0" y2="0"><stop offset="0.000" stop-color="#000000"/><stop offset="1.000" stop-color="#000000"/></linearGradient><linearGradient id="r131" gradientUnits="userSpaceOnUse" x1="47.75" x2="596.75" y1="0" y2="0"><stop offset="0.000" stop-color="#000000"/><stop offset="1.000" stop-color="#000000"/></linearGradient><linearGradient id="r132" gradientUnits="userSpaceOnUse" x1="47.75" x2="596.75" y1="0" y2="0"><stop offset="0.000" stop-color="#000000"/><stop offset="1.000" stop-color="#000000"/></linearGradient><linearGradient id="r133" gradientUnits="userSpaceOnUse" x1="47.75" x2="596.75" y1="0" y2="0"><stop offset="0.000" stop-color="#000000"/><stop offset="1.000" stop-color="#000000"/></linearGradient><linearGradient id="r134" gradientUnits="userSpaceOnUse" x1="47.75" x2="596.75" y1="0" y2="0"><stop offset="0.000" stop-color="#000000"/><stop offset="1.000" stop-color="#000000"/></linearGradient><linearGradient id="r135" gradientUnits="userSpaceOnUse" x1="47.75" x2="596.75" y1="0" y2="0"><stop offset="0.000" stop-color="#000000"/><stop offset="1.000" stop-color="#000000"/></linearGradient><linearGradient id="r136" gradientUnits="userSpaceOnUse" x1="47.75" x2="596.75" y1="0" y2="0"><stop offset="0.000" stop-color="#000000"/><stop offset="1.000" stop-color="#000000"/></linearGradient><linearGradient id="r137" gradientUnits="userSpaceOnUse" x1="47.75" x2="596.75" y1="0" y2="0"><stop offset="0.000" stop-color="#000000"/><stop offset="1.000" stop-color="#000000"/></linearGradient><linearGradient id="r138" gradientUnits="userSpaceOnUse" x1="47.75" x2="596.75" y1="0" y2="0"><stop offset="0.000" stop-color="#000000"/><stop offset="1.000" stop-color="#000000"/></linearGradient></defs>
<path d="M211.68 47.5V580.0M408.38 47.5V580.0" stroke="#fff" stroke-width=".9" fill="none"/>
<path d="M315.59 580.0V47.5" stroke="#006400" stroke-width="1.5" stroke-dasharray="6 6" stroke-linecap="round" fill="none"/>
<path d="M335.01 580.0V47.5" stroke="#006400" stroke-width="1.5" stroke-dasharray="6 6" stroke-linecap="round" fill="none"/>
<path d="M59.75 330.10H592.75" stroke="#cc1010" stroke-width="1.5" stroke-dasharray="6 6" stroke-linecap="round" fill="none"/>
</g>
<rect x="59.75" y="47.5" width="533.0" height="532.5" fill="none" stroke="#000" stroke-width=".75"/>
<path d="M109.50000000000003 580.0H541.1M109.50000000000003 580.0v6M217.40000000000003 580.0v6M325.3 580.0v6M433.2 580.0v6M541.1 580.0v6" stroke="#000" stroke-width=".75" fill="none"/>
<text x="109.50" y="601.5" font-size="10.67" text-anchor="middle">-400</text>
<text x="217.40" y="601.5" font-size="10.67" text-anchor="middle">-200</text>
<text x="325.30" y="601.5" font-size="10.67" text-anchor="middle">0</text>
<text x="433.20" y="601.5" font-size="10.67" text-anchor="middle">200</text>
<text x="541.10" y="601.5" font-size="10.67" text-anchor="middle">400</text>
<path d="M59.75 548.1V48.1M59.75 548.1h-6M59.75 448.1h-6M59.75 348.1h-6M59.75 248.1h-6M59.75 148.1h-6M59.75 48.1h-6" stroke="#000" stroke-width=".75" fill="none"/>
<text transform="translate(44.7,548.10) rotate(-90)" font-size="10.67" text-anchor="middle">75</text>
<text transform="translate(44.7,448.10) rotate(-90)" font-size="10.67" text-anchor="middle">80</text>
<text transform="translate(44.7,348.10) rotate(-90)" font-size="10.67" text-anchor="middle">85</text>
<text transform="translate(44.7,248.10) rotate(-90)" font-size="10.67" text-anchor="middle">90</text>
<text transform="translate(44.7,148.10) rotate(-90)" font-size="10.67" text-anchor="middle">95</text>
<text transform="translate(44.7,48.10) rotate(-90)" font-size="10.67" text-anchor="middle">100</text>
<text x="326.25" y="31.9" font-size="21.6" font-weight="bold" text-anchor="middle">Density heat map for the top hits</text>
<text x="326.5" y="625.8" font-size="16" text-anchor="middle">Distance to peak summit</text>
<text transform="translate(22.1,314) rotate(-90)" font-size="16" text-anchor="middle">Motif score</text>
</g>
<g transform="translate(0,640)">
<g clip-path="url(#cp)">
<polygon points="79.2,560.5 79.2,560.5 80.5,560.5 81.7,560.5 82.9,560.5 84.2,560.5 85.4,560.5 86.6,560.5 87.9,560.5 89.1,560.5 90.3,560.5 91.6,560.5 92.8,560.4 94.1,560.4 95.3,560.4 96.5,560.4 97.8,560.4 99.0,560.4 100.2,560.3 101.5,560.3 102.7,560.3 103.9,560.2 105.2,560.2 106.4,560.2 107.7,560.1 108.9,560.1 110.1,560.1 111.4,560.0 112.6,560.0 113.8,559.9 115.1,559.9 116.3,559.9 117.5,559.9 118.8,559.8 120.0,559.8 121.3,559.8 122.5,559.8 123.7,559.8 125.0,559.8 126.2,559.8 127.4,559.8 128.7,559.9 129.9,559.9 131.1,559.9 132.4,559.9 133.6,560.0 134.9,560.0 136.1,560.1 137.3,560.1 138.6,560.1 139.8,560.2 141.0,560.2 142.3,560.2 143.5,560.2 144.7,560.3 146.0,560.3 147.2,560.3 148.5,560.3 149.7,560.3 150.9,560.2 152.2,560.2 153.4,560.1 154.6,560.1 155.9,560.0 157.1,559.9 158.3,559.8 159.6,559.7 160.8,559.5 162.1,559.3 163.3,559.2 164.5,558.9 165.8,558.7 167.0,558.5 168.2,558.2 169.5,557.9 170.7,557.7 171.9,557.4 173.2,557.1 174.4,556.8 175.7,556.5 176.9,556.3 178.1,556.0 179.4,555.8 180.6,555.5 181.8,555.3 183.1,555.1 184.3,555.0 185.5,554.8 186.8,554.7 188.0,554.5 189.3,554.4 190.5,554.3 191.7,554.2 193.0,554.0 194.2,553.9 195.4,553.8 196.7,553.6 197.9,553.5 199.1,553.3 200.4,553.1 201.6,552.9 202.9,552.7 204.1,552.4 205.3,552.2 206.6,551.9 207.8,551.5 209.0,551.1 210.3,550.7 211.5,550.2 212.7,549.6 214.0,549.0 215.2,548.2 216.5,547.3 217.7,546.3 218.9,545.2 220.2,544.0 221.4,542.6 222.6,541.0 223.9,539.4 225.1,537.6 226.3,535.6 227.6,533.6 228.8,531.5 230.1,529.2 231.3,526.9 232.5,524.4 233.8,521.9 235.0,519.2 236.2,516.4 237.5,513.5 238.7,510.3 239.9,507.0 241.2,503.3 242.4,499.4 243.7,495.1 244.9,490.5 246.1,485.4 247.4,480.0 248.6,474.0 249.8,467.7 251.1,460.9 252.3,453.6 253.5,446.0 254.8,437.9 256.0,429.5 257.3,420.8 258.5,411.9 259.7,402.7 261.0,393.2 262.2,383.6 263.4,373.7 264.7,363.8 265.9,353.6 267.1,343.3 268.4,332.8 269.6,322.2 270.8,311.4 272.1,300.6 273.3,289.6 274.6,278.6 275.8,267.7 277.0,256.7 278.3,245.9 279.5,235.2 280.7,224.8 282.0,214.6 283.2,204.7 284.4,195.2 285.7,186.1 286.9,177.3 288.2,168.9 289.4,160.9 290.6,153.3 291.9,146.0 293.1,139.0 294.3,132.4 295.6,126.1 296.8,120.0 298.0,114.3 299.3,108.9 300.5,103.7 301.8,98.9 303.0,94.4 304.2,90.3 305.5,86.4 306.7,82.9 307.9,79.8 309.2,76.9 310.4,74.5 311.6,72.3 312.9,70.6 314.1,69.1 315.4,68.0 316.6,67.3 317.8,67.0 319.1,67.0 320.3,67.4 321.5,68.2 322.8,69.4 324.0,71.0 325.2,72.9 326.5,75.2 327.7,77.8 329.0,80.7 330.2,83.8 331.4,87.1 332.7,90.6 333.9,94.2 335.1,98.0 336.4,101.8 337.6,105.8 338.8,109.9 340.1,114.1 341.3,118.4 342.6,122.8 343.8,127.4 345.0,132.2 346.3,137.1 347.5,142.1 348.7,147.2 350.0,152.5 351.2,157.8 352.4,163.3 353.7,168.8 354.9,174.3 356.2,180.0 357.4,185.7 358.6,191.5 359.9,197.5 361.1,203.6 362.3,209.8 363.6,216.3 364.8,222.9 366.0,229.7 367.3,236.7 368.5,243.8 369.8,251.0 371.0,258.3 372.2,265.7 373.5,272.9 374.7,280.1 375.9,287.1 377.2,294.0 378.4,300.7 379.6,307.1 380.9,313.3 382.1,319.3 383.4,325.0 384.6,330.6 385.8,335.9 387.1,341.1 388.3,346.2 389.5,351.0 390.8,355.8 392.0,360.5 393.2,365.0 394.5,369.4 395.7,373.7 397.0,377.8 398.2,381.9 399.4,385.8 400.7,389.7 401.9,393.5 403.1,397.1 404.4,400.8 405.6,404.4 406.8,408.0 408.1,411.6 409.3,415.1 410.6,418.7 411.8,422.4 413.0,426.0 414.3,429.6 415.5,433.2 416.7,436.8 418.0,440.4 419.2,443.9 420.4,447.3 421.7,450.7 422.9,454.0 424.2,457.2 425.4,460.3 426.6,463.4 427.9,466.3 429.1,469.2 430.3,472.0 431.6,474.6 432.8,477.2 434.0,479.6 435.3,481.8 436.5,483.9 437.7,485.9 439.0,487.6 440.2,489.2 441.5,490.7 442.7,491.9 443.9,493.0 445.2,494.0 446.4,494.8 447.6,495.6 448.9,496.3 450.1,497.0 451.3,497.8 452.6,498.6 453.8,499.4 455.1,500.4 456.3,501.4 457.5,502.5 458.8,503.8 460.0,505.1 461.2,506.4 462.5,507.8 463.7,509.2 464.9,510.7 466.2,512.0 467.4,513.4 468.7,514.7 469.9,515.9 471.1,517.0 472.4,518.1 473.6,519.0 474.8,520.0 476.1,520.8 477.3,521.7 478.5,522.4 479.8,523.2 481.0,523.9 482.3,524.6 483.5,525.2 484.7,525.7 486.0,526.2 487.2,526.5 488.4,526.7 489.7,526.7 490.9,526.4 492.1,525.9 493.4,525.0 494.6,523.7 495.9,522.0 497.1,519.7 498.3,516.7 499.6,513.1 500.8,508.6 502.0,503.1 503.3,496.7 504.5,489.1 505.7,480.2 507.0,470.0 508.2,458.4 509.5,445.2 510.7,430.6 511.9,414.4 513.2,396.7 514.4,377.7 515.6,357.4 516.9,336.2 518.1,314.3 519.3,292.1 520.6,269.9 521.8,248.2 523.1,227.4 524.3,208.0 525.5,190.6 526.8,175.5 528.0,163.1 529.2,153.9 530.5,148.0 531.7,145.8 532.9,147.1 534.2,152.1 535.4,160.7 536.7,172.5 537.9,187.4 539.1,205.0 540.4,224.8 541.6,246.4 542.8,269.2 544.1,292.8 545.3,316.8 546.5,340.6 547.8,364.0 549.0,386.4 550.3,407.7 551.5,427.6 552.7,446.0 554.0,462.7 555.2,477.8 556.4,491.2 557.7,502.9 558.9,513.1 560.1,521.9 561.4,529.3 562.6,535.5 563.9,540.7 565.1,544.9 566.3,548.4 567.6,551.1 568.8,553.3 570.0,555.1 571.3,556.4 572.5,557.5 572.5,560.5" fill="#f5deb3" stroke="#000" stroke-width="1" stroke-linejoin="round"/>
<path d="M313.52 580.0V47.5" stroke="#cc1010" stroke-width="1.5" stroke-dasharray="6 6" stroke-linecap="round" fill="none"/>
</g>
<rect x="59.75" y="47.5" width="533.0" height="532.5" fill="none" stroke="#000" stroke-width=".75"/>
<path d="M65.0 580.0H533.8999999999999M65.0 580.0v6M143.14999999999986 580.0v6M221.29999999999995 580.0v6M299.4499999999998 580.0v6M377.5999999999999 580.0v6M455.75 580.0v6M533.8999999999999 580.0v6" stroke="#000" stroke-width=".75" fill="none"/>
<text x="65.00" y="601.5" font-size="10.67" text-anchor="middle">70</text>
<text x="143.15" y="601.5" font-size="10.67" text-anchor="middle">75</text>
<text x="221.30" y="601.5" font-size="10.67" text-anchor="middle">80</text>
<text x="299.45" y="601.5" font-size="10.67" text-anchor="middle">85</text>
<text x="377.60" y="601.5" font-size="10.67" text-anchor="middle">90</text>
<text x="455.75" y="601.5" font-size="10.67" text-anchor="middle">95</text>
<text x="533.90" y="601.5" font-size="10.67" text-anchor="middle">100</text>
<path d="M59.75 560.5V84.25M59.75 560.5h-6M59.75 465.25h-6M59.75 370.0h-6M59.75 274.75h-6M59.75 179.5h-6M59.75 84.25h-6" stroke="#000" stroke-width=".75" fill="none"/>
<text transform="translate(44.7,560.50) rotate(-90)" font-size="10.67" text-anchor="middle">0.00</text>
<text transform="translate(44.7,465.25) rotate(-90)" font-size="10.67" text-anchor="middle">0.02</text>
<text transform="translate(44.7,370.00) rotate(-90)" font-size="10.67" text-anchor="middle">0.04</text>
<text transform="translate(44.7,274.75) rotate(-90)" font-size="10.67" text-anchor="middle">0.06</text>
<text transform="translate(44.7,179.50) rotate(-90)" font-size="10.67" text-anchor="middle">0.08</text>
<text transform="translate(44.7,84.25) rotate(-90)" font-size="10.67" text-anchor="middle">0.10</text>
<text x="326.0" y="31.9" font-size="21.6" font-weight="bold" text-anchor="middle">Motif score threshold: 85.900</text>
<text x="326.5" y="625.8" font-size="16" text-anchor="middle">Motif score</text>
<text transform="translate(22.1,314) rotate(-90)" font-size="16" text-anchor="middle">Density</text>
</g>
<g transform="translate(640,640)">
<g clip-path="url(#cp)">
<polygon points="79.2,560.5 79.2,560.0 80.5,559.8 81.7,559.6 82.9,559.4 84.2,559.2 85.4,558.9 86.6,558.5 87.9,558.0 89.1,557.5 90.3,556.9 91.6,556.1 92.8,555.2 94.0,554.2 95.3,553.0 96.5,551.7 97.7,550.2 99.0,548.4 100.2,546.4 101.4,544.1 102.7,541.6 103.9,538.8 105.1,535.7 106.4,532.3 107.6,528.5 108.8,524.4 110.1,520.0 111.3,515.2 112.5,510.0 113.8,504.5 115.0,498.6 116.2,492.5 117.5,486.0 118.7,479.2 119.9,472.2 121.2,464.9 122.4,457.5 123.6,449.9 124.9,442.2 126.1,434.5 127.3,426.7 128.6,419.0 129.8,411.5 131.0,404.0 132.3,396.8 133.5,389.9 134.7,383.2 136.0,376.9 137.2,371.0 138.4,365.4 139.7,360.3 140.9,355.6 142.1,351.3 143.4,347.5 144.6,344.1 145.8,341.0 147.1,338.4 148.3,336.1 149.5,334.1 150.8,332.3 152.0,330.8 153.2,329.5 154.5,328.3 155.7,327.3 156.9,326.4 158.2,325.6 159.4,324.8 160.6,324.0 161.9,323.3 163.1,322.6 164.3,322.0 165.6,321.4 166.8,320.8 168.0,320.3 169.3,319.8 170.5,319.3 171.7,318.9 173.0,318.6 174.2,318.3 175.4,318.1 176.7,317.8 177.9,317.7 179.1,317.5 180.4,317.4 181.6,317.2 182.8,317.0 184.1,316.7 185.3,316.5 186.5,316.1 187.8,315.7 189.0,315.2 190.2,314.7 191.5,314.1 192.7,313.4 193.9,312.7 195.2,311.9 196.4,311.1 197.6,310.3 198.9,309.5 200.1,308.6 201.3,307.8 202.6,306.9 203.8,306.0 205.0,305.1 206.3,304.2 207.5,303.2 208.7,302.3 210.0,301.2 211.2,300.2 212.4,299.1 213.7,297.9 214.9,296.7 216.1,295.4 217.4,294.1 218.6,292.8 219.8,291.4 221.1,290.0 222.3,288.6 223.5,287.2 224.8,285.7 226.0,284.3 227.2,282.9 228.5,281.5 229.7,280.1 230.9,278.7 232.2,277.3 233.4,275.8 234.6,274.4 235.9,272.8 237.1,271.2 238.3,269.5 239.6,267.7 240.8,265.8 242.0,263.8 243.2,261.6 244.5,259.3 245.7,256.8 246.9,254.2 248.2,251.5 249.4,248.6 250.6,245.6 251.9,242.4 253.1,239.2 254.3,235.9 255.6,232.5 256.8,229.0 258.0,225.4 259.3,221.8 260.5,218.1 261.7,214.3 263.0,210.5 264.2,206.6 265.4,202.6 266.7,198.5 267.9,194.4 269.1,190.1 270.4,185.7 271.6,181.2 272.8,176.5 274.1,171.8 275.3,166.9 276.5,161.9 277.8,156.8 279.0,151.6 280.2,146.3 281.5,141.0 282.7,135.6 283.9,130.3 285.2,124.9 286.4,119.7 287.6,114.5 288.9,109.5 290.1,104.7 291.3,100.0 292.6,95.6 293.8,91.4 295.0,87.6 296.3,84.0 297.5,80.7 298.7,77.8 300.0,75.2 301.2,72.9 302.4,71.0 303.7,69.4 304.9,68.2 306.1,67.3 307.4,66.7 308.6,66.4 309.8,66.5 311.1,66.9 312.3,67.6 313.5,68.5 314.8,69.8 316.0,71.4 317.2,73.3 318.5,75.5 319.7,78.0 320.9,80.8 322.2,83.9 323.4,87.2 324.6,90.9 325.9,94.8 327.1,99.0 328.3,103.5 329.6,108.2 330.8,113.2 332.0,118.4 333.3,123.8 334.5,129.4 335.7,135.2 337.0,141.0 338.2,147.0 339.4,153.1 340.7,159.3 341.9,165.4 343.1,171.5 344.4,177.6 345.6,183.7 346.8,189.6 348.1,195.4 349.3,201.0 350.5,206.4 351.8,211.7 353.0,216.7 354.2,221.5 355.5,226.2 356.7,230.5 357.9,234.7 359.2,238.7 360.4,242.5 361.6,246.1 362.9,249.6 364.1,252.9 365.3,256.1 366.6,259.2 367.8,262.2 369.0,265.0 370.3,267.8 371.5,270.5 372.7,273.1 374.0,275.7 375.2,278.1 376.4,280.5 377.7,282.7 378.9,284.8 380.1,286.9 381.4,288.8 382.6,290.6 383.8,292.3 385.1,293.9 386.3,295.3 387.5,296.7 388.8,298.0 390.0,299.2 391.2,300.3 392.5,301.4 393.7,302.4 394.9,303.3 396.2,304.3 397.4,305.1 398.6,306.0 399.9,306.8 401.1,307.5 402.3,308.2 403.6,308.9 404.8,309.6 406.0,310.2 407.2,310.7 408.5,311.2 409.7,311.7 410.9,312.1 412.2,312.6 413.4,313.0 414.6,313.4 415.9,313.8 417.1,314.2 418.3,314.6 419.6,315.0 420.8,315.5 422.0,316.0 423.3,316.6 424.5,317.2 425.7,317.8 427.0,318.5 428.2,319.2 429.4,319.9 430.7,320.6 431.9,321.4 433.1,322.2 434.4,323.0 435.6,323.8 436.8,324.6 438.1,325.4 439.3,326.2 440.5,327.0 441.8,327.8 443.0,328.7 444.2,329.5 445.5,330.3 446.7,331.1 447.9,331.9 449.2,332.7 450.4,333.5 451.6,334.3 452.9,335.2 454.1,336.0 455.3,336.7 456.6,337.5 457.8,338.2 459.0,338.9 460.3,339.6 461.5,340.2 462.7,340.8 464.0,341.3 465.2,341.7 466.4,342.1 467.7,342.5 468.9,342.8 470.1,343.0 471.4,343.2 472.6,343.3 473.8,343.5 475.1,343.6 476.3,343.7 477.5,343.8 478.8,343.8 480.0,344.0 481.2,344.1 482.5,344.2 483.7,344.5 484.9,344.7 486.2,345.1 487.4,345.5 488.6,346.0 489.9,346.6 491.1,347.4 492.3,348.3 493.6,349.3 494.8,350.6 496.0,352.0 497.3,353.6 498.5,355.4 499.7,357.5 501.0,359.8 502.2,362.3 503.4,365.2 504.7,368.2 505.9,371.6 507.1,375.2 508.4,379.1 509.6,383.3 510.8,387.8 512.1,392.5 513.3,397.4 514.5,402.6 515.8,408.0 517.0,413.6 518.2,419.3 519.5,425.3 520.7,431.3 521.9,437.4 523.2,443.7 524.4,449.9 525.6,456.2 526.9,462.4 528.1,468.6 529.3,474.8 530.6,480.8 531.8,486.6 533.0,492.4 534.3,497.9 535.5,503.2 536.7,508.3 538.0,513.1 539.2,517.7 540.4,522.0 541.7,526.0 542.9,529.8 544.1,533.2 545.4,536.4 546.6,539.4 547.8,542.0 549.1,544.4 550.3,546.6 551.5,548.5 552.8,550.2 554.0,551.7 555.2,553.1 556.5,554.2 557.7,555.2 558.9,556.1 560.2,556.8 561.4,557.5 562.6,558.0 563.9,558.5 565.1,558.9 566.3,559.2 567.6,559.4 568.8,559.6 570.0,559.8 571.2,560.0 571.2,560.5" fill="#f5deb3" stroke="#000" stroke-width="1" stroke-linejoin="round"/>
<path d="M318.05 580.0V47.5" stroke="#006400" stroke-width="1.5" stroke-dasharray="6 6" stroke-linecap="round" fill="none"/>
<path d="M332.45 580.0V47.5" stroke="#006400" stroke-width="1.5" stroke-dasharray="6 6" stroke-linecap="round" fill="none"/>
</g>
<rect x="59.75" y="47.5" width="533.0" height="532.5" fill="none" stroke="#000" stroke-width=".75"/>
<path d="M85.25 580.0H565.25M85.25 580.0v6M165.25 580.0v6M245.25 580.0v6M325.25 580.0v6M405.25 580.0v6M485.25 580.0v6M565.25 580.0v6" stroke="#000" stroke-width=".75" fill="none"/>
<text x="85.25" y="601.5" font-size="10.67" text-anchor="middle">-600</text>
<text x="165.25" y="601.5" font-size="10.67" text-anchor="middle">-400</text>
<text x="245.25" y="601.5" font-size="10.67" text-anchor="middle">-200</text>
<text x="325.25" y="601.5" font-size="10.67" text-anchor="middle">0</text>
<text x="405.25" y="601.5" font-size="10.67" text-anchor="middle">200</text>
<text x="485.25" y="601.5" font-size="10.67" text-anchor="middle">400</text>
<text x="565.25" y="601.5" font-size="10.67" text-anchor="middle">600</text>
<path d="M59.75 560.5V122.5M59.75 560.5h-6M59.75 414.5h-6M59.75 268.5h-6M59.75 122.5h-6" stroke="#000" stroke-width=".75" fill="none"/>
<text transform="translate(44.7,560.50) rotate(-90)" font-size="10.67" text-anchor="middle">0.0000</text>
<text transform="translate(44.7,414.50) rotate(-90)" font-size="10.67" text-anchor="middle">0.0005</text>
<text transform="translate(44.7,268.50) rotate(-90)" font-size="10.67" text-anchor="middle">0.0010</text>
<text transform="translate(44.7,122.50) rotate(-90)" font-size="10.67" text-anchor="middle">0.0015</text>
<text x="325.9" y="31.9" font-size="21.6" font-weight="bold" text-anchor="middle">Enrichment zone: 18.00</text>
<text x="326.5" y="625.8" font-size="16" text-anchor="middle">Distance to peak summit</text>
<text transform="translate(22.1,314) rotate(-90)" font-size="16" text-anchor="middle">Density</text>
<path d="M377 63.4H401" stroke="#006400" stroke-width="1" stroke-dasharray="1 2" fill="none"/>
<path d="M377 79H401" stroke="#ee3b3b" stroke-width="1" stroke-dasharray="1 2" fill="none"/>
<ellipse cx="389" cy="94.4" rx="3" ry="2.5" fill="#0000ff"/>
<text x="412" y="67.7" font-size="12.9">enrichment zone = 18</text>
<text x="412" y="83.3" font-size="12.9">motif score threshold = 85.900</text>
<text x="412" y="98.7" font-size="12.9">centrality p-val = NS</text>
</g>
</svg></body></html>
